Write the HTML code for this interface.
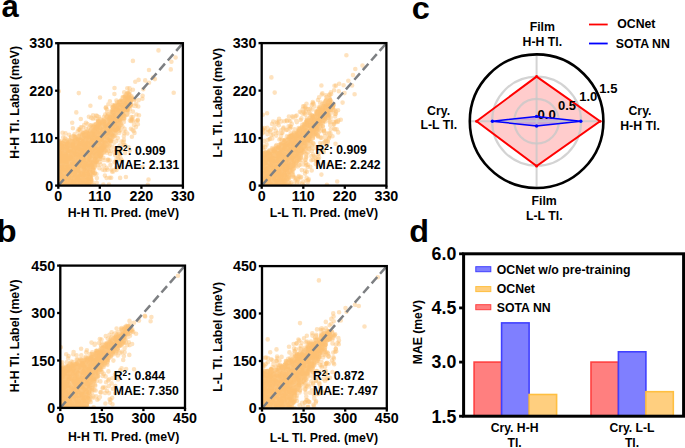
<!DOCTYPE html><html><head><meta charset="utf-8"><style>html,body{margin:0;padding:0;background:#fff;overflow:hidden}svg{display:block}text{font-family:"Liberation Sans",sans-serif;font-weight:bold}</style></head><body><svg width="685" height="448" viewBox="0 0 685 448" font-family="Liberation Sans, sans-serif" font-weight="bold">
<rect width="685" height="448" fill="#fff"/>
<clipPath id="clipa1"><rect x="58.3" y="43.2" width="124.6" height="142.4"/></clipPath>
<g clip-path="url(#clipa1)" stroke="#FDBF6F" stroke-linecap="round" stroke-width="4.6" fill="none">
<path stroke-opacity="0.45" d="M67.3 181.1h0M102.5 131.3h0M71.4 184.6h0M88.6 147.2h0M72.2 184.5h0M85.0 160.3h0M103.7 140.3h0M85.8 149.5h0M82.8 141.2h0M85.5 146.1h0M118.1 126.9h0M59.3 160.8h0M66.1 183.2h0M68.6 170.0h0M122.7 106.6h0M87.8 183.7h0M59.2 182.9h0M116.1 108.2h0M66.5 172.5h0M58.8 177.4h0M64.5 183.8h0M82.9 143.4h0M75.0 171.5h0M94.8 154.6h0M99.8 123.9h0M79.6 174.7h0M117.7 123.7h0M73.9 175.5h0M79.7 143.1h0M70.6 146.1h0M100.0 140.4h0M111.1 121.6h0M75.5 179.1h0M69.5 183.1h0M93.4 126.7h0M89.4 173.6h0M88.9 166.4h0M79.4 158.3h0M62.7 160.3h0M99.9 137.2h0M85.5 148.2h0M78.4 180.9h0M85.2 163.5h0M76.7 144.5h0M81.0 149.8h0M81.4 145.0h0M66.0 165.8h0M98.5 137.8h0M89.7 156.0h0M79.2 171.4h0M88.2 179.3h0M80.4 181.7h0M85.2 161.3h0M82.5 150.2h0M76.8 179.6h0M88.9 149.5h0M117.4 110.1h0M66.8 167.3h0M59.5 152.7h0M90.7 179.5h0M111.8 118.7h0M96.0 127.1h0M123.9 108.3h0M58.3 147.5h0M122.9 113.4h0M66.8 165.9h0M74.3 143.3h0M64.5 158.7h0M98.4 148.6h0M113.3 121.4h0M101.5 136.1h0M100.0 158.5h0M74.8 176.8h0M79.8 183.2h0M86.1 146.2h0M71.8 141.1h0M76.2 145.9h0M87.3 143.3h0M77.2 143.8h0M81.5 144.4h0M58.5 157.9h0M59.9 170.4h0M80.2 154.3h0M67.2 173.4h0M121.0 105.0h0M105.3 125.1h0M60.5 141.4h0M81.1 170.9h0M58.4 181.4h0M114.1 116.7h0M82.6 164.1h0M86.3 167.4h0M106.9 127.1h0M97.4 152.7h0M86.6 175.7h0M104.8 139.3h0M85.5 181.6h0M61.9 162.5h0M62.2 166.8h0M60.3 164.0h0M89.9 172.2h0M92.5 149.7h0M60.5 164.9h0M69.8 159.3h0M82.1 183.0h0M68.2 146.0h0M119.8 119.8h0M116.2 109.1h0M71.6 170.2h0M75.4 147.9h0M91.1 154.9h0M100.7 152.7h0M91.7 173.7h0M60.0 145.0h0M64.3 155.7h0M63.3 185.1h0M119.8 111.6h0M75.6 182.9h0M100.4 164.6h0M129.3 94.6h0M79.4 172.0h0M98.7 144.6h0M66.0 173.5h0M74.5 153.8h0M80.2 171.7h0M106.4 126.8h0M90.2 157.0h0M82.6 159.4h0M101.7 148.2h0M67.3 149.7h0M58.4 167.3h0M62.5 163.4h0M88.2 159.1h0M88.0 171.8h0M110.2 134.5h0M91.2 175.0h0M66.9 151.2h0M108.4 134.0h0M107.3 139.7h0M62.8 143.8h0M81.8 182.1h0M62.1 179.5h0M89.6 136.5h0M88.6 134.7h0M58.7 174.9h0M70.3 180.3h0M85.7 176.2h0M83.5 145.5h0M71.3 151.7h0M79.8 167.3h0M75.2 161.3h0M74.0 146.7h0M77.4 173.7h0M127.7 105.2h0M85.8 179.0h0M62.4 173.0h0M77.9 177.5h0M79.1 152.0h0M115.8 130.0h0M92.3 141.4h0M68.4 179.2h0M90.0 153.7h0M64.5 166.0h0M66.9 164.1h0M78.1 153.6h0M64.1 175.3h0M118.7 104.5h0M113.8 129.9h0M60.2 152.2h0M64.7 169.8h0M80.8 159.0h0M99.8 127.7h0M60.7 184.8h0M87.0 185.2h0M59.3 166.9h0M113.5 124.4h0M62.8 168.6h0M113.0 107.4h0M114.9 121.0h0M97.5 145.8h0M109.6 115.8h0M82.6 177.0h0M77.0 183.3h0M67.4 162.4h0M116.8 106.8h0M96.6 161.4h0M71.7 182.9h0M86.3 141.3h0M107.3 131.3h0M97.6 159.6h0M125.4 103.6h0M105.9 133.6h0M114.2 118.7h0M68.9 180.8h0M70.4 176.7h0M88.0 161.8h0M89.7 140.1h0M66.5 150.7h0M107.0 136.8h0M79.9 161.5h0M60.9 147.4h0M58.4 159.1h0M71.8 145.4h0M88.0 147.2h0M59.9 160.0h0M100.7 149.2h0M66.9 147.0h0M112.5 134.0h0M79.2 156.0h0M60.1 166.4h0M119.5 118.1h0M67.3 164.3h0M71.3 169.8h0M83.4 132.5h0M84.1 161.6h0M60.5 152.9h0M103.2 152.1h0M105.8 141.0h0M85.2 180.3h0M110.2 130.7h0M70.3 151.5h0M65.9 156.1h0M93.3 165.5h0M72.1 163.1h0M79.8 147.9h0M92.3 155.6h0M105.8 150.7h0M65.1 167.0h0M78.1 160.4h0M95.2 129.3h0M83.1 161.6h0M88.8 146.3h0M73.1 158.6h0M120.2 123.6h0M98.1 157.2h0M107.6 134.9h0M78.8 182.9h0M59.2 185.5h0M101.0 141.0h0M65.0 181.4h0M112.7 113.8h0M120.5 112.0h0M89.4 133.8h0M103.6 143.2h0M65.9 182.7h0M106.8 129.1h0M101.0 155.6h0M96.3 156.6h0M72.5 153.1h0M60.1 176.3h0M116.3 116.0h0M90.1 184.8h0M81.6 183.7h0M78.2 169.5h0M85.3 170.8h0M96.7 139.4h0M78.9 152.4h0M80.5 166.8h0M59.6 156.1h0M122.7 110.8h0M109.7 140.4h0M102.4 150.1h0M82.4 150.4h0M84.9 138.3h0M89.9 170.4h0M65.8 171.2h0M91.6 165.6h0M114.9 105.8h0M90.9 155.7h0M58.6 172.4h0M72.9 179.3h0M123.9 103.7h0M113.0 110.2h0M69.1 173.3h0M61.7 159.5h0M93.9 163.1h0M101.0 140.3h0M79.6 166.2h0M91.9 126.8h0M123.0 109.4h0M94.7 167.2h0M76.7 184.4h0M115.1 129.9h0M74.7 163.9h0M110.5 133.5h0M62.1 175.1h0M72.5 141.3h0M58.8 180.8h0M129.6 105.4h0M108.2 114.4h0M77.8 144.1h0M99.1 153.3h0M75.2 152.2h0M60.7 171.5h0M94.1 128.6h0M124.5 116.0h0M104.9 123.7h0M59.2 149.7h0M60.4 154.3h0M95.7 156.1h0M114.1 118.8h0M90.3 185.2h0M77.9 139.6h0M59.8 152.3h0M129.0 98.9h0M83.8 172.8h0M92.2 135.5h0M89.5 154.9h0M67.3 161.0h0M79.2 138.2h0M86.1 148.2h0M78.3 185.2h0M60.6 180.6h0M61.6 168.7h0M66.4 185.1h0M71.1 174.1h0M100.5 145.3h0M121.6 115.9h0M100.0 155.6h0M98.0 157.3h0M88.1 145.7h0M76.9 166.8h0M67.6 150.1h0M58.5 161.8h0M78.9 144.9h0M64.7 148.1h0M127.3 97.7h0M101.6 139.4h0M91.0 129.6h0M66.3 155.5h0M97.2 140.7h0M62.7 157.8h0M123.2 111.7h0M122.5 112.4h0M85.9 150.0h0M86.5 153.9h0M89.9 152.7h0M111.7 111.8h0M81.6 180.9h0M101.2 142.2h0M78.5 155.4h0M92.8 132.2h0M118.2 118.1h0M59.7 177.6h0M111.7 129.3h0M118.0 110.4h0M82.9 181.7h0M105.2 146.5h0M72.0 156.7h0M94.3 137.4h0M101.9 143.5h0M105.8 139.3h0M92.0 127.7h0M59.5 152.1h0M65.9 158.2h0M91.6 143.0h0M73.6 142.8h0M92.3 140.5h0M81.5 179.6h0M122.7 106.5h0M71.6 161.8h0M130.1 102.0h0M79.7 165.3h0M114.4 113.1h0M82.1 163.7h0M79.4 185.6h0M82.6 167.5h0M69.8 145.6h0M106.0 141.0h0M60.2 150.7h0M102.6 130.4h0M91.9 134.9h0M86.4 150.2h0M89.8 185.3h0M132.6 98.8h0M68.6 158.1h0M60.7 158.4h0M86.4 167.2h0M104.0 138.0h0M75.6 157.7h0M89.9 131.3h0M74.8 167.3h0M60.0 182.3h0M98.4 152.1h0M60.0 162.7h0M77.5 167.6h0M87.0 148.8h0M73.9 148.8h0M110.0 119.8h0M64.2 171.4h0M58.5 178.8h0M124.5 103.3h0M92.3 162.9h0M83.8 176.5h0M85.2 152.3h0M76.8 148.5h0M59.9 178.7h0M100.1 127.1h0M68.0 142.1h0M74.2 157.8h0M60.7 147.3h0M123.1 109.7h0M64.3 176.2h0M93.0 167.0h0M78.7 136.4h0M126.8 109.7h0M130.0 98.9h0M88.0 162.3h0M90.9 152.2h0M60.2 171.2h0M77.4 158.6h0M84.0 169.5h0M79.1 161.9h0M69.5 156.6h0M78.4 156.3h0M77.8 144.5h0M58.8 172.9h0M74.7 145.6h0M58.9 156.2h0M61.4 185.4h0M65.3 179.6h0M113.6 117.7h0M119.2 126.0h0M100.0 151.9h0M59.5 165.6h0M88.8 172.5h0M92.0 138.7h0M59.2 165.3h0M119.3 128.0h0M92.2 164.7h0M84.0 180.5h0M120.4 122.8h0M130.8 101.8h0M64.7 160.8h0M114.8 121.7h0M68.9 179.6h0M77.1 169.0h0M82.8 167.9h0M92.8 133.5h0M118.8 123.6h0M58.7 184.2h0M86.4 138.6h0M68.1 168.5h0M64.1 143.8h0M86.7 159.6h0M76.2 184.7h0M79.4 147.6h0M108.1 122.6h0M94.8 148.3h0M121.8 111.9h0M65.2 166.3h0M79.9 129.4h0M105.9 107.2h0M65.1 138.4h0M72.9 128.3h0M93.0 115.3h0M61.6 142.2h0M82.9 127.6h0M74.5 134.4h0M81.7 127.6h0M123.9 139.9h0M135.9 127.1h0M96.9 178.1h0M118.6 159.5h0M108.0 159.5h0M131.5 120.3h0M133.6 131.0h0M121.0 149.9h0M110.4 165.1h0M117.1 150.9h0M130.9 128.8h0M120.0 153.6h0M114.2 142.6h0M120.7 130.2h0M116.4 141.1h0M109.6 177.8h0M116.6 158.6h0M115.2 155.2h0M107.2 169.7h0M139.0 115.2h0M158.5 50.4h0M132.9 60.9h0M175.6 57.5h0M171.4 61.8h0M170.8 69.4h0M149.0 70.0h0M173.7 92.8h0M145.2 80.4h0M149.0 82.7h0M138.6 79.9h0M135.3 81.8h0M114.5 88.0h0M78.8 93.1h0M100.0 97.5h0M128.1 92.8h0M143.3 89.3h0M142.4 98.8h0M58.8 91.2h0M132.9 89.7h0"/>
<path stroke-opacity="0.45" d="M80.8 137.3h0M113.7 131.4h0M121.1 119.1h0M94.9 143.8h0M85.6 184.7h0M64.1 151.8h0M71.5 161.6h0M97.5 136.9h0M81.6 169.1h0M84.2 142.5h0M102.6 140.1h0M76.4 178.7h0M100.0 129.8h0M104.1 138.9h0M67.3 144.0h0M112.6 135.6h0M128.9 105.4h0M76.7 154.1h0M111.7 114.0h0M99.8 126.3h0M91.5 144.8h0M61.9 172.7h0M70.1 173.2h0M72.2 184.1h0M90.7 145.1h0M119.1 104.3h0M93.8 153.5h0M87.3 152.8h0M93.3 152.2h0M100.9 146.9h0M130.1 101.0h0M74.6 174.5h0M68.5 175.7h0M67.9 184.3h0M100.7 146.8h0M76.3 171.7h0M101.0 149.8h0M97.7 133.1h0M100.4 154.8h0M98.8 156.0h0M71.0 136.8h0M79.5 171.5h0M61.7 146.3h0M87.4 167.0h0M72.1 184.3h0M83.7 162.7h0M66.3 162.2h0M60.7 153.4h0M71.7 146.6h0M88.9 133.9h0M101.2 133.3h0M74.9 148.6h0M109.5 121.5h0M77.2 139.1h0M86.3 148.6h0M79.0 145.2h0M89.2 177.3h0M110.3 141.0h0M58.7 164.6h0M80.2 175.0h0M96.6 152.5h0M86.3 133.9h0M82.3 152.4h0M75.6 163.5h0M60.4 182.4h0M76.6 183.3h0M97.1 127.2h0M78.9 179.9h0M67.5 182.0h0M86.4 173.7h0M78.7 172.6h0M72.4 169.6h0M80.5 182.5h0M93.9 159.4h0M107.3 116.1h0M118.6 110.3h0M86.8 176.2h0M111.6 114.9h0M102.7 139.3h0M72.8 166.7h0M117.4 125.2h0M70.7 170.8h0M126.6 102.2h0M106.5 117.4h0M71.4 166.2h0M109.2 130.9h0M81.4 163.2h0M95.5 147.4h0M128.4 97.9h0M77.9 180.0h0M107.1 119.6h0M60.3 144.7h0M110.4 127.8h0M83.2 182.8h0M115.1 127.3h0M88.8 138.4h0M99.5 126.9h0M64.1 147.1h0M129.6 102.4h0M73.3 143.5h0M104.0 133.9h0M127.7 110.3h0M104.6 122.9h0M61.5 146.7h0M126.3 94.2h0M79.9 135.3h0M73.8 177.5h0M79.6 184.5h0M110.8 139.2h0M66.7 182.8h0M100.5 143.3h0M94.1 170.5h0M125.9 96.5h0M82.7 183.6h0M84.7 174.8h0M76.2 172.5h0M91.3 149.7h0M89.6 136.7h0M91.9 170.7h0M92.1 132.3h0M79.5 180.1h0M109.7 121.0h0M90.5 142.8h0M109.0 118.8h0M113.6 115.1h0M96.2 131.2h0M117.0 120.7h0M66.1 151.1h0M66.2 159.7h0M125.8 107.7h0M93.5 130.2h0M62.2 166.5h0M117.9 124.8h0M60.8 148.3h0M102.0 127.4h0M59.0 182.1h0M82.4 154.6h0M72.6 147.2h0M88.2 152.9h0M74.4 176.6h0M115.8 120.6h0M71.1 157.3h0M67.4 151.8h0M99.8 124.7h0M85.2 173.7h0M98.3 154.0h0M59.9 163.1h0M91.1 179.7h0M72.9 146.1h0M100.6 137.9h0M82.9 166.7h0M87.7 139.4h0M66.2 179.7h0M109.2 138.8h0M99.9 144.4h0M82.0 153.5h0M113.7 135.4h0M100.3 147.4h0M77.2 172.8h0M94.4 149.1h0M60.2 177.5h0M78.7 161.0h0M90.0 165.2h0M83.7 141.5h0M83.8 140.9h0M83.9 159.1h0M77.4 159.5h0M93.1 162.4h0M80.1 149.3h0M94.4 133.0h0M67.2 177.7h0M122.5 111.9h0M83.2 161.9h0M93.6 132.5h0M89.4 138.5h0M69.1 158.6h0M107.7 116.4h0M88.3 181.6h0M58.9 152.8h0M71.0 141.4h0M72.7 165.4h0M107.1 152.8h0M68.5 167.2h0M68.6 170.9h0M63.9 148.5h0M115.2 106.5h0M90.6 148.3h0M88.0 162.4h0M92.4 147.2h0M90.4 159.2h0M119.7 103.7h0M96.8 153.8h0M102.3 120.2h0M131.2 104.2h0M131.7 96.6h0M105.7 126.0h0M89.5 160.7h0M63.2 158.3h0M129.2 105.7h0M77.2 155.6h0M58.6 148.0h0M78.1 139.4h0M89.2 137.3h0M99.3 155.7h0M62.3 155.0h0M89.2 137.9h0M121.5 114.4h0M80.9 166.4h0M108.1 123.6h0M77.4 147.6h0M101.5 131.9h0M99.3 134.2h0M83.6 133.3h0M81.2 146.3h0M90.0 167.6h0M72.3 149.2h0M91.0 178.8h0M88.9 179.0h0M68.8 167.6h0M94.4 150.6h0M77.9 165.9h0M115.1 131.4h0M67.1 166.9h0M112.3 137.5h0M113.7 132.1h0M91.0 153.3h0M90.8 181.7h0M101.5 150.2h0M102.7 148.2h0M88.7 147.9h0M73.0 185.4h0M74.4 152.8h0M88.1 184.7h0M87.1 139.4h0M64.7 161.8h0M95.5 138.3h0M95.0 162.4h0M104.7 139.4h0M75.4 148.6h0M94.1 143.3h0M108.8 146.8h0M132.4 99.1h0M85.6 145.9h0M83.6 167.2h0M93.0 153.0h0M90.3 174.2h0M72.0 150.5h0M98.9 123.6h0M81.0 183.8h0M107.8 125.3h0M78.0 181.4h0M73.7 136.6h0M63.7 156.1h0M77.7 171.3h0M75.1 136.7h0M89.8 156.9h0M83.0 167.4h0M68.7 143.4h0M74.8 139.7h0M129.6 91.8h0M73.6 168.8h0M121.5 113.2h0M94.9 173.2h0M120.2 101.2h0M76.0 155.6h0M77.6 181.8h0M95.3 137.0h0M93.6 137.3h0M93.1 160.0h0M123.1 115.7h0M111.9 136.3h0M92.4 162.9h0M84.7 161.4h0M101.8 148.2h0M100.5 143.3h0M105.4 122.5h0M78.5 161.9h0M97.9 120.9h0M61.8 164.7h0M73.3 180.7h0M71.5 166.5h0M95.8 157.0h0M86.4 164.2h0M92.6 134.0h0M127.4 109.6h0M126.4 103.9h0M74.7 167.3h0M113.6 116.4h0M61.0 161.1h0M75.6 185.2h0M70.0 140.7h0M87.1 170.9h0M78.7 154.7h0M82.4 160.5h0M113.8 125.6h0M95.0 138.0h0M88.3 169.2h0M62.0 179.3h0M99.5 150.8h0M88.3 168.6h0M63.5 176.2h0M60.8 181.2h0M75.5 175.3h0M134.3 100.1h0M62.0 170.4h0M63.9 163.5h0M61.1 169.6h0M89.2 158.5h0M117.6 123.6h0M91.9 155.6h0M93.5 147.8h0M79.5 160.4h0M62.8 157.3h0M101.0 149.7h0M86.8 177.5h0M103.5 147.3h0M96.1 124.2h0M85.5 155.3h0M101.5 123.7h0M85.2 172.4h0M94.5 153.4h0M66.6 147.7h0M91.3 165.2h0M106.1 133.6h0M62.9 182.8h0M86.4 158.4h0M82.7 138.3h0M83.1 135.3h0M83.6 161.4h0M81.7 161.7h0M84.7 147.5h0M95.0 151.4h0M60.5 185.3h0M81.7 171.8h0M93.1 156.6h0M91.3 139.2h0M99.2 139.0h0M82.4 135.8h0M126.4 98.7h0M66.6 154.8h0M68.7 178.8h0M94.8 153.4h0M73.1 169.9h0M114.9 104.7h0M91.4 167.3h0M102.5 143.3h0M73.5 161.7h0M82.8 147.2h0M72.2 163.7h0M80.2 147.2h0M93.6 156.3h0M70.4 145.8h0M87.3 133.3h0M120.6 113.5h0M101.5 136.1h0M86.2 142.8h0M81.3 156.9h0M79.3 148.3h0M77.9 156.8h0M87.7 150.4h0M85.7 174.2h0M114.6 131.0h0M104.9 121.0h0M114.3 120.9h0M118.1 104.5h0M91.8 151.7h0M79.9 142.7h0M61.6 164.5h0M96.2 127.9h0M83.9 166.4h0M86.5 136.0h0M84.5 143.5h0M126.6 108.2h0M95.6 157.8h0M112.9 117.9h0M116.5 121.3h0M64.1 169.3h0M83.4 145.4h0M81.8 154.8h0M77.9 177.8h0M66.2 159.1h0M111.1 140.8h0M91.0 172.3h0M60.4 169.8h0M91.3 141.4h0M112.9 117.0h0M69.1 167.7h0M122.6 116.1h0M62.7 145.8h0M64.8 184.6h0M121.7 104.4h0M82.9 134.9h0M87.1 164.3h0M77.1 138.5h0M70.9 170.8h0M84.0 135.3h0M80.4 173.3h0M105.5 133.1h0M67.9 156.3h0M72.8 181.2h0M72.3 168.6h0M77.9 170.1h0M99.5 153.8h0M95.0 154.7h0M68.3 171.1h0M129.2 101.0h0M83.2 174.6h0M89.3 137.0h0M86.0 184.7h0M64.5 179.2h0M109.9 124.3h0M99.9 123.2h0M96.4 142.9h0M115.4 122.0h0M109.2 133.2h0M62.9 164.0h0M58.6 156.5h0M116.5 108.6h0M91.5 156.8h0M100.4 150.7h0M93.7 149.7h0M77.2 184.9h0M59.8 145.2h0M81.0 142.9h0M59.6 159.0h0M68.9 153.0h0M94.7 145.8h0M96.6 149.0h0M73.6 179.7h0M104.7 122.8h0M122.4 126.5h0M97.7 131.8h0M60.5 171.9h0M89.7 176.0h0M60.8 153.4h0M69.4 174.9h0M112.8 111.7h0M87.9 135.1h0M65.0 155.7h0M118.9 122.7h0M89.4 138.1h0M70.4 171.9h0M58.9 150.4h0M92.1 165.1h0M82.1 148.4h0M103.7 137.1h0M94.4 133.3h0M70.8 144.0h0M68.6 150.3h0M108.7 120.0h0M86.1 138.6h0M64.2 175.5h0M86.3 129.0h0M88.9 116.7h0M77.7 131.5h0M119.3 130.7h0M124.0 119.3h0M127.3 133.5h0M125.6 131.8h0M132.5 129.8h0M112.0 171.6h0M104.9 175.6h0M132.9 117.0h0M110.9 150.7h0M104.1 165.6h0M116.3 161.2h0M137.9 124.3h0M134.5 132.9h0M131.3 121.3h0M108.9 184.5h0M118.8 129.2h0M116.5 169.9h0M99.5 138.7h0M108.0 130.7h0M72.2 122.8h0M136.4 121.6h0M106.9 109.2h0"/>
<path stroke-opacity="0.45" d="M78.8 144.5h0M76.8 161.9h0M97.2 149.4h0M77.8 157.6h0M124.0 115.5h0M77.6 167.9h0M88.1 133.2h0M65.6 171.5h0M114.1 127.0h0M98.8 142.4h0M77.9 179.6h0M89.3 159.8h0M92.3 135.6h0M101.9 127.2h0M73.4 145.2h0M96.7 150.7h0M88.4 134.5h0M66.4 141.4h0M78.9 150.3h0M61.6 174.8h0M98.8 123.0h0M123.6 100.6h0M64.1 163.2h0M70.4 174.2h0M61.6 149.2h0M103.5 149.4h0M89.0 161.3h0M89.2 156.2h0M79.4 183.2h0M128.7 106.4h0M86.8 136.9h0M95.5 136.9h0M79.5 143.9h0M70.3 149.7h0M86.1 179.8h0M70.0 184.1h0M83.2 171.4h0M85.6 168.2h0M64.8 179.3h0M89.2 155.5h0M59.0 173.7h0M124.1 116.5h0M62.7 146.5h0M121.0 100.7h0M64.1 145.4h0M96.2 146.3h0M86.7 146.0h0M86.7 146.5h0M109.3 139.5h0M123.1 116.0h0M61.8 181.2h0M71.6 180.6h0M94.9 159.0h0M85.2 169.0h0M76.6 158.7h0M128.7 93.7h0M79.2 183.1h0M109.9 127.7h0M91.6 165.8h0M66.7 161.4h0M131.1 99.9h0M59.1 168.2h0M106.5 124.1h0M90.9 148.2h0M114.6 136.5h0M111.5 128.9h0M69.6 145.5h0M73.7 153.5h0M72.8 173.6h0M79.8 174.4h0M106.7 144.5h0M74.5 181.4h0M77.5 178.4h0M58.7 184.8h0M112.1 130.1h0M88.5 141.4h0M74.9 182.7h0M89.8 168.6h0M100.4 129.0h0M81.2 160.9h0M108.7 130.1h0M121.7 101.4h0M99.3 144.0h0M90.6 133.9h0M96.2 156.9h0M118.5 127.8h0M64.7 168.3h0M66.6 147.4h0M72.8 185.4h0M62.6 183.5h0M74.2 172.3h0M82.3 178.5h0M113.5 109.0h0M68.4 145.4h0M73.3 144.6h0M82.2 155.6h0M72.4 156.2h0M99.8 122.6h0M97.3 153.0h0M89.6 139.4h0M84.8 143.8h0M68.0 166.2h0M105.6 118.2h0M60.5 161.9h0M69.4 179.3h0M90.4 177.9h0M86.2 138.6h0M78.8 149.8h0M70.1 173.8h0M113.6 115.2h0M134.4 99.3h0M107.5 115.3h0M65.0 166.1h0M122.1 105.0h0M62.9 155.5h0M72.1 156.3h0M72.7 168.8h0M91.9 147.2h0M105.7 133.9h0M100.3 148.6h0M118.9 115.7h0M74.3 167.2h0M82.6 180.1h0M98.3 121.3h0M73.2 183.1h0M81.5 164.1h0M65.0 184.2h0M82.6 176.6h0M127.9 109.3h0M82.0 135.6h0M61.1 160.3h0M72.5 175.3h0M95.6 154.1h0M90.8 142.1h0M97.2 153.9h0M76.8 156.8h0M106.2 128.3h0M90.2 138.2h0M84.8 134.8h0M118.6 116.9h0M91.5 164.7h0M75.6 174.4h0M119.7 103.3h0M63.2 142.5h0M109.2 117.7h0M67.2 167.7h0M95.2 124.7h0M79.9 183.3h0M76.9 149.5h0M71.5 160.9h0M129.4 94.2h0M70.2 168.5h0M58.5 185.1h0M63.5 157.4h0M82.6 166.7h0M59.9 157.9h0M70.8 148.9h0M126.1 108.9h0M69.5 149.9h0M93.8 150.1h0M83.5 141.8h0M69.2 181.4h0M84.3 160.1h0M110.0 125.2h0M59.1 166.4h0M60.7 148.6h0M91.7 170.9h0M104.1 122.0h0M64.5 181.3h0M63.1 167.0h0M60.2 160.3h0M69.8 149.6h0M61.6 148.3h0M60.6 148.9h0M107.6 115.2h0M103.7 119.7h0M120.0 109.2h0M115.9 130.9h0M73.3 166.2h0M130.6 96.0h0M70.8 174.8h0M85.4 169.0h0M96.1 156.8h0M63.9 159.7h0M66.6 143.8h0M82.3 151.4h0M80.7 156.8h0M125.6 103.7h0M94.0 138.4h0M67.8 181.4h0M97.1 161.5h0M105.9 144.7h0M91.5 168.7h0M93.5 168.8h0M74.6 154.8h0M124.8 107.1h0M66.6 168.6h0M108.9 116.0h0M101.9 153.8h0M65.6 142.5h0M127.2 108.8h0M90.9 152.2h0M75.8 161.5h0M58.8 161.2h0M60.2 166.9h0M89.7 167.9h0M107.2 143.0h0M60.5 168.7h0M90.5 181.3h0M121.4 106.9h0M107.5 122.6h0M76.9 152.9h0M85.4 165.1h0M68.3 152.8h0M80.2 178.7h0M99.1 138.0h0M87.7 179.0h0M101.6 139.8h0M90.9 134.3h0M67.8 167.7h0M59.7 176.4h0M61.7 168.1h0M107.8 123.8h0M69.2 157.9h0M102.4 123.9h0M84.5 181.6h0M75.9 154.7h0M66.7 159.9h0M100.8 154.9h0M92.3 166.7h0M86.1 143.1h0M125.2 96.5h0M105.1 134.2h0M123.5 104.6h0M109.9 126.6h0M91.8 162.5h0M86.1 170.4h0M72.8 184.8h0M100.9 147.0h0M69.5 164.8h0M113.4 124.8h0M98.7 130.5h0M64.9 164.5h0M84.5 135.5h0M98.9 153.1h0M80.5 165.2h0M109.6 114.7h0M111.0 130.8h0M67.2 184.0h0M85.8 182.1h0M108.0 148.8h0M105.7 134.8h0M78.0 153.4h0M78.3 172.0h0M114.9 124.6h0M111.2 136.4h0M69.3 165.7h0M95.4 127.9h0M83.5 141.0h0M116.9 128.9h0M72.8 171.0h0M81.6 185.6h0M69.4 167.7h0M71.9 172.4h0M58.6 175.9h0M108.6 138.6h0M81.0 182.5h0M114.0 106.4h0M123.2 98.1h0M124.9 94.8h0M58.7 175.6h0M124.9 105.9h0M104.7 142.3h0M123.2 97.2h0M91.5 147.4h0M119.6 106.2h0M107.5 125.8h0M96.0 137.2h0M84.1 146.0h0M92.8 133.5h0M76.4 141.2h0M60.8 155.4h0M69.9 176.5h0M69.0 174.2h0M104.7 151.2h0M128.2 108.5h0M101.5 123.4h0M114.8 120.1h0M85.7 134.6h0M102.0 138.7h0M90.9 138.4h0M127.7 105.3h0M60.9 159.6h0M63.6 163.3h0M119.4 101.6h0M67.8 156.8h0M124.0 100.5h0M106.7 149.5h0M63.0 159.5h0M104.6 132.4h0M87.4 133.7h0M116.4 120.9h0M88.5 174.3h0M75.0 154.7h0M86.1 165.3h0M64.0 154.8h0M58.8 149.1h0M64.5 154.5h0M82.8 141.9h0M101.0 150.8h0M126.9 98.5h0M116.5 120.9h0M109.4 136.5h0M60.1 143.6h0M84.8 148.7h0M123.8 109.5h0M65.1 160.1h0M127.5 100.6h0M104.7 146.6h0M98.8 130.9h0M73.3 163.8h0M76.8 141.7h0M90.8 167.8h0M70.7 152.4h0M75.9 184.3h0M114.4 107.2h0M77.9 154.5h0M93.1 171.7h0M124.4 117.9h0M77.2 165.5h0M106.0 129.7h0M89.9 142.6h0M110.7 111.5h0M88.9 162.2h0M74.9 169.2h0M110.5 111.7h0M99.8 156.3h0M87.4 163.5h0M58.8 149.1h0M99.7 140.0h0M61.6 161.4h0M118.4 119.8h0M110.3 137.2h0M65.3 164.9h0M66.8 165.2h0M92.2 167.4h0M88.2 178.9h0M79.0 143.3h0M91.6 147.9h0M83.7 179.1h0M65.6 169.9h0M78.7 178.4h0M87.5 144.3h0M59.4 184.9h0M64.2 155.6h0M88.8 183.6h0M68.9 157.6h0M67.5 177.9h0M62.9 167.9h0M83.3 144.2h0M103.3 124.1h0M114.7 124.6h0M127.7 107.5h0M79.2 158.4h0M61.6 170.8h0M96.8 146.0h0M62.6 159.5h0M109.1 132.4h0M74.5 157.6h0M117.3 112.0h0M91.8 161.7h0M124.2 109.1h0M69.1 144.2h0M64.3 161.3h0M58.5 145.9h0M118.0 120.2h0M75.4 139.8h0M67.8 183.1h0M78.7 176.0h0M96.9 156.0h0M62.8 158.0h0M104.3 120.7h0M108.3 124.2h0M113.0 116.1h0M119.2 116.3h0M92.8 149.0h0M115.1 125.2h0M59.0 178.7h0M90.6 143.1h0M118.8 107.9h0M95.4 142.3h0M86.0 142.6h0M64.8 183.5h0M66.4 146.8h0M117.3 113.2h0M88.5 139.5h0M129.1 94.7h0M115.0 106.4h0M65.9 181.1h0M107.2 136.6h0M98.6 138.2h0M78.2 177.0h0M99.2 128.3h0M106.8 127.4h0M104.5 146.6h0M63.4 155.1h0M112.3 138.9h0M90.4 125.5h0M69.8 184.5h0M122.3 105.8h0M61.6 166.4h0M77.7 147.3h0M79.2 183.3h0M125.3 106.7h0M58.5 151.0h0M75.3 147.9h0M64.1 144.7h0M97.0 132.9h0M100.9 152.6h0M72.1 144.8h0M108.1 119.8h0M89.9 165.2h0M102.1 145.4h0M79.0 173.0h0M59.3 163.2h0M62.3 151.2h0M86.8 170.6h0M80.7 149.8h0M60.4 175.3h0M76.3 167.1h0M100.6 149.1h0M111.4 134.8h0M81.4 138.1h0M59.1 169.6h0M114.8 115.1h0M117.9 107.8h0M98.2 128.8h0M100.4 132.2h0M99.9 146.8h0M128.5 96.7h0M73.5 164.2h0M87.8 163.5h0M73.3 145.0h0M77.5 139.5h0M112.0 119.8h0M102.7 124.1h0M93.2 135.4h0M95.1 161.8h0M98.8 126.2h0M114.1 109.6h0M77.5 170.8h0M116.3 132.2h0M114.3 108.4h0M87.3 171.2h0M116.1 110.6h0M89.3 137.0h0M66.2 164.7h0M116.1 113.6h0M83.8 175.1h0M113.0 136.0h0M81.6 152.2h0M126.4 101.9h0M100.5 155.0h0M61.0 184.7h0M95.6 152.8h0M124.2 92.2h0M107.1 112.2h0M78.7 129.4h0M74.5 137.2h0M99.0 117.0h0M58.9 141.2h0M96.1 115.6h0M115.8 133.0h0M111.2 177.8h0M99.4 168.2h0M135.7 105.9h0M133.8 105.8h0M106.7 167.9h0M132.9 111.6h0M134.0 124.9h0M121.5 141.6h0M124.6 128.9h0M106.6 178.0h0M105.8 150.0h0M117.8 138.1h0M131.3 117.1h0M123.9 144.6h0M116.4 167.8h0M122.2 160.8h0M142.6 95.8h0M125.9 177.0h0M90.4 105.7h0M80.8 119.0h0"/>
<path stroke-opacity="0.45" d="M114.8 120.5h0M77.9 168.3h0M107.6 133.0h0M74.9 184.8h0M69.8 166.7h0M91.3 162.2h0M62.0 177.7h0M76.8 146.2h0M86.1 185.1h0M81.7 147.3h0M76.8 141.8h0M97.7 125.9h0M66.5 171.0h0M65.1 160.1h0M67.8 166.8h0M125.4 98.8h0M101.2 156.8h0M68.5 171.9h0M92.6 165.5h0M80.4 183.4h0M74.4 140.8h0M59.9 179.3h0M110.1 140.6h0M92.2 140.3h0M76.6 141.2h0M90.5 150.2h0M114.9 115.8h0M76.6 148.9h0M117.0 125.9h0M86.4 180.0h0M112.5 136.3h0M104.3 145.5h0M130.1 99.2h0M126.6 98.9h0M70.3 181.8h0M73.8 179.8h0M114.0 109.0h0M67.8 156.8h0M84.9 148.8h0M92.6 169.0h0M111.2 123.8h0M112.9 124.7h0M70.6 176.4h0M114.7 126.1h0M74.7 150.1h0M93.3 131.6h0M101.7 146.3h0M61.0 160.4h0M82.5 155.4h0M72.2 176.6h0M107.6 129.8h0M86.3 174.2h0M95.2 151.8h0M100.8 145.1h0M75.8 141.6h0M77.2 139.8h0M81.1 183.2h0M115.3 120.6h0M68.9 164.9h0M110.1 116.9h0M121.3 106.4h0M124.8 111.7h0M88.7 148.8h0M123.5 113.6h0M62.6 176.5h0M102.3 148.8h0M62.1 155.0h0M88.6 160.2h0M84.0 146.4h0M79.9 163.8h0M84.9 170.7h0M68.7 152.0h0M88.6 153.9h0M60.1 142.7h0M64.9 181.2h0M104.4 149.8h0M86.7 160.8h0M78.6 176.3h0M88.5 137.3h0M114.3 129.9h0M91.3 167.0h0M62.2 150.6h0M112.3 107.1h0M69.2 153.4h0M101.9 122.2h0M97.9 150.4h0M66.9 161.7h0M65.7 184.6h0M99.8 141.8h0M88.1 145.0h0M132.1 98.2h0M70.6 169.9h0M88.6 136.9h0M93.5 136.9h0M122.5 101.4h0M65.3 178.6h0M72.8 146.2h0M99.3 155.2h0M67.1 174.6h0M71.5 158.8h0M94.4 135.3h0M67.1 142.7h0M87.5 142.9h0M86.9 131.5h0M101.5 150.6h0M86.8 180.2h0M65.4 160.1h0M91.1 145.6h0M108.3 125.1h0M64.3 146.0h0M77.2 179.4h0M112.0 128.4h0M100.4 140.2h0M73.4 154.7h0M61.0 167.7h0M92.8 171.0h0M65.1 153.6h0M60.2 177.7h0M91.3 156.0h0M86.8 149.2h0M98.5 150.7h0M86.2 135.2h0M113.9 125.7h0M104.9 143.0h0M77.1 163.2h0M66.8 156.1h0M75.6 151.4h0M58.5 160.2h0M80.6 143.2h0M85.3 170.1h0M115.0 111.5h0M97.0 132.7h0M116.0 116.4h0M127.9 96.2h0M75.3 171.1h0M85.4 164.2h0M95.7 161.4h0M126.8 114.4h0M60.5 143.8h0M63.9 157.9h0M72.8 144.0h0M125.3 102.5h0M98.3 148.9h0M125.4 103.6h0M100.9 122.7h0M93.2 172.5h0M62.3 176.4h0M104.3 121.6h0M73.9 163.6h0M92.0 154.3h0M70.6 185.4h0M90.5 165.2h0M93.6 138.0h0M59.5 172.4h0M60.2 158.9h0M83.7 136.5h0M93.8 141.9h0M114.8 123.4h0M65.5 150.2h0M64.7 161.2h0M108.2 128.9h0M120.8 124.1h0M110.6 129.2h0M113.8 123.7h0M117.2 102.3h0M81.5 142.3h0M70.1 185.1h0M64.3 141.1h0M114.0 108.6h0M81.1 159.2h0M66.6 185.2h0M87.6 171.2h0M74.7 173.3h0M59.1 153.6h0M98.6 141.6h0M64.0 178.3h0M62.3 150.1h0M63.8 185.6h0M62.4 169.0h0M63.8 154.4h0M84.7 133.0h0M83.8 166.9h0M100.9 144.8h0M82.1 134.1h0M109.2 119.1h0M105.6 126.3h0M59.4 183.1h0M126.9 106.1h0M86.9 148.2h0M101.3 139.9h0M65.2 146.1h0M90.3 166.9h0M98.8 141.0h0M83.5 156.1h0M131.3 99.8h0M61.9 179.3h0M113.1 121.7h0M71.8 180.4h0M70.6 164.7h0M72.5 176.5h0M82.4 174.0h0M112.7 120.9h0M85.7 156.4h0M125.6 111.8h0M99.6 133.5h0M59.9 176.5h0M105.1 132.2h0M97.3 129.6h0M98.2 144.9h0M105.0 134.0h0M98.2 125.4h0M73.0 146.8h0M59.3 185.4h0M84.6 151.2h0M67.4 168.7h0M76.4 140.8h0M102.9 142.9h0M79.5 162.9h0M130.6 100.4h0M65.5 176.3h0M90.5 176.0h0M58.8 171.3h0M93.9 152.8h0M74.3 171.9h0M108.2 130.5h0M95.1 159.0h0M88.3 149.7h0M95.3 139.6h0M77.9 167.6h0M78.9 155.2h0M88.0 170.8h0M121.1 102.6h0M82.9 140.3h0M65.6 183.4h0M90.3 148.5h0M89.2 145.7h0M106.3 129.8h0M123.1 112.9h0M86.2 157.1h0M73.8 176.7h0M94.7 129.3h0M84.0 161.4h0M121.6 105.2h0M81.0 152.0h0M86.0 174.9h0M77.8 178.1h0M80.9 141.8h0M70.6 174.3h0M98.0 122.0h0M76.1 150.6h0M94.4 136.1h0M78.7 166.6h0M83.5 174.5h0M120.6 120.1h0M62.2 182.4h0M83.4 160.0h0M99.4 141.0h0M89.0 165.7h0M106.5 133.5h0M59.1 159.6h0M94.7 148.6h0M79.7 152.4h0M84.3 159.4h0M88.7 181.2h0M117.6 127.2h0M88.0 136.4h0M78.4 179.9h0M74.4 140.5h0M73.9 169.0h0M86.5 174.2h0M68.7 167.5h0M112.1 123.3h0M88.5 174.8h0M86.8 143.5h0M85.7 184.2h0M101.8 136.3h0M97.8 138.2h0M81.5 160.9h0M115.6 109.5h0M81.7 175.0h0M94.9 127.5h0M115.9 114.1h0M128.0 101.2h0M100.0 137.3h0M83.6 181.2h0M76.0 154.1h0M82.8 178.7h0M90.7 148.2h0M80.0 139.2h0M114.1 113.0h0M130.0 109.0h0M59.6 166.6h0M81.3 153.7h0M73.2 182.5h0M59.0 161.7h0M67.4 147.5h0M94.1 162.0h0M58.3 180.9h0M99.9 155.5h0M115.4 118.3h0M102.6 144.0h0M87.6 154.8h0M85.4 156.9h0M110.1 142.7h0M109.6 122.2h0M100.6 146.4h0M124.8 96.7h0M118.2 123.2h0M61.4 184.2h0M62.7 182.8h0M61.1 159.2h0M128.5 112.4h0M109.0 141.1h0M97.9 137.3h0M59.4 169.7h0M130.7 104.9h0M119.8 108.2h0M113.3 124.6h0M75.6 142.1h0M66.6 157.3h0M93.8 147.1h0M68.4 159.6h0M65.1 170.1h0M63.9 167.0h0M77.3 146.3h0M117.7 128.8h0M70.1 157.3h0M71.6 151.2h0M64.4 152.2h0M125.4 107.8h0M81.9 154.3h0M77.1 166.5h0M107.7 142.1h0M83.6 159.8h0M125.2 108.8h0M72.4 155.2h0M117.1 120.7h0M87.5 184.3h0M95.8 148.8h0M85.8 144.5h0M72.9 159.0h0M87.8 147.6h0M61.2 161.0h0M113.0 130.4h0M114.2 130.8h0M115.8 114.0h0M66.5 149.3h0M59.6 180.7h0M63.5 179.1h0M98.7 152.6h0M68.4 151.4h0M69.8 179.7h0M81.4 173.9h0M66.5 157.2h0M128.7 96.5h0M104.6 146.2h0M87.2 145.5h0M60.1 173.5h0M76.7 139.4h0M99.5 150.5h0M75.5 167.4h0M83.6 175.1h0M70.1 154.9h0M75.9 141.8h0M88.5 179.0h0M75.8 150.7h0M65.3 158.5h0M126.9 102.1h0M110.4 118.9h0M65.1 168.3h0M78.1 170.4h0M84.4 171.0h0M91.5 148.7h0M123.4 111.8h0M80.6 150.0h0M62.8 147.6h0M84.2 125.0h0M97.1 116.1h0M109.9 101.3h0M81.9 134.2h0M127.0 93.3h0M88.8 127.8h0M129.6 88.4h0M90.9 125.4h0M108.4 104.3h0M62.6 132.7h0M91.3 117.9h0M125.1 153.0h0M117.3 151.5h0M94.0 185.0h0M110.1 153.9h0M136.4 114.5h0M94.8 173.3h0M137.8 119.8h0M121.0 125.0h0M113.3 171.4h0M124.3 133.2h0M104.8 170.3h0M121.0 159.1h0M123.5 145.5h0M114.7 169.7h0M125.3 145.5h0M104.0 160.0h0M120.0 155.9h0M97.6 164.9h0M107.6 160.4h0M129.6 150.5h0M125.2 109.2h0M112.4 112.1h0M148.5 179.5h0M77.8 142.6h0M87.4 124.0h0M115.7 149.4h0"/>
<path stroke-opacity="0.45" d="M118.0 105.2h0M71.1 143.2h0M63.7 166.3h0M78.8 149.4h0M118.5 112.9h0M126.8 109.8h0M62.6 163.1h0M81.4 176.6h0M82.0 167.2h0M96.0 124.4h0M62.9 183.0h0M94.6 157.4h0M105.7 144.8h0M94.4 148.5h0M75.2 158.6h0M93.4 146.1h0M66.2 157.0h0M109.3 136.0h0M110.4 129.6h0M63.3 163.1h0M90.6 178.9h0M65.7 181.8h0M70.6 143.0h0M101.1 139.3h0M80.9 143.2h0M77.3 159.9h0M86.8 132.3h0M80.9 140.6h0M69.4 166.2h0M84.1 176.8h0M59.6 157.9h0M78.0 157.8h0M75.4 157.4h0M73.7 154.2h0M100.6 148.5h0M85.2 176.4h0M85.6 180.7h0M101.9 134.5h0M81.7 152.2h0M98.5 131.7h0M68.5 143.0h0M119.9 118.0h0M119.3 121.6h0M118.1 129.1h0M68.7 179.9h0M89.8 135.3h0M109.6 134.0h0M80.2 165.9h0M61.2 177.0h0M73.8 175.2h0M83.3 135.1h0M81.3 167.9h0M74.1 182.6h0M77.9 163.1h0M75.4 166.7h0M95.0 155.8h0M119.5 116.5h0M73.0 174.2h0M90.8 145.0h0M118.4 112.3h0M70.3 157.7h0M90.2 131.5h0M94.4 129.3h0M86.7 185.5h0M62.6 176.8h0M101.3 152.8h0M107.2 138.0h0M107.2 135.4h0M123.1 99.4h0M97.3 128.4h0M58.8 153.1h0M68.6 147.3h0M78.5 179.6h0M92.7 182.3h0M78.5 179.0h0M115.1 116.4h0M103.8 128.1h0M91.9 141.5h0M65.1 183.6h0M94.6 160.4h0M92.3 142.0h0M63.7 154.9h0M103.7 128.3h0M91.4 164.9h0M83.8 151.3h0M91.7 172.5h0M75.8 185.3h0M103.4 127.7h0M93.9 142.4h0M67.5 150.2h0M89.4 144.6h0M79.3 171.5h0M128.5 104.5h0M100.8 154.8h0M103.7 147.4h0M126.0 97.9h0M102.7 148.4h0M87.9 184.4h0M102.9 121.6h0M90.1 159.7h0M116.6 112.9h0M59.6 152.4h0M76.3 167.4h0M64.4 161.4h0M73.9 149.6h0M108.1 144.6h0M86.2 144.3h0M72.2 163.0h0M89.0 143.4h0M69.3 150.8h0M71.3 145.0h0M68.0 171.0h0M62.6 181.0h0M122.7 107.2h0M83.2 175.6h0M119.5 122.4h0M102.6 123.2h0M107.6 117.3h0M98.4 123.3h0M119.1 111.0h0M73.2 142.8h0M90.8 173.2h0M96.3 139.2h0M73.2 162.2h0M78.5 144.7h0M80.9 164.5h0M90.5 150.3h0M89.4 176.8h0M70.7 153.7h0M96.9 155.9h0M77.4 177.6h0M59.3 159.2h0M89.2 172.0h0M114.7 121.8h0M72.3 184.2h0M63.7 148.4h0M96.4 124.5h0M58.9 182.6h0M83.1 180.6h0M86.3 163.8h0M88.1 151.0h0M92.0 139.5h0M77.2 183.6h0M62.5 173.1h0M77.4 149.2h0M85.7 182.8h0M81.0 144.6h0M112.2 127.2h0M122.6 97.3h0M93.2 143.4h0M76.9 147.1h0M96.6 132.2h0M72.5 182.7h0M75.6 172.5h0M87.3 165.3h0M121.5 99.9h0M92.4 136.5h0M83.7 165.9h0M70.6 147.0h0M96.5 161.6h0M83.4 168.1h0M99.9 133.2h0M80.3 177.1h0M74.4 159.0h0M121.2 119.6h0M130.2 102.6h0M61.9 178.3h0M77.9 184.7h0M98.5 121.9h0M98.7 139.4h0M104.3 123.5h0M92.1 146.7h0M118.3 123.7h0M65.8 157.4h0M59.1 174.8h0M96.0 130.0h0M76.4 183.4h0M61.4 160.4h0M110.2 133.1h0M70.9 159.0h0M73.7 155.0h0M63.4 177.0h0M86.0 174.3h0M100.5 135.4h0M90.2 147.2h0M77.9 151.5h0M83.5 180.8h0M120.0 107.3h0M66.6 181.1h0M67.2 161.7h0M116.0 114.8h0M90.2 159.1h0M69.9 147.3h0M126.6 98.8h0M82.4 167.4h0M77.2 156.5h0M66.3 174.6h0M67.3 183.0h0M62.0 170.5h0M83.7 154.2h0M95.7 160.8h0M75.5 144.8h0M64.9 158.7h0M87.5 136.2h0M70.4 166.0h0M86.7 136.7h0M61.6 143.3h0M105.9 143.0h0M83.1 179.3h0M94.0 159.4h0M83.5 179.1h0M66.9 159.6h0M62.9 143.3h0M62.7 176.6h0M117.1 107.1h0M127.3 100.6h0M108.7 124.6h0M88.4 177.6h0M130.4 105.4h0M84.3 141.1h0M102.6 131.9h0M76.6 166.5h0M92.4 135.6h0M98.4 125.3h0M70.8 173.1h0M112.8 109.5h0M76.9 142.0h0M83.4 162.5h0M104.1 136.6h0M94.6 151.6h0M80.0 141.8h0M70.1 177.4h0M64.9 170.9h0M128.7 106.2h0M65.7 176.5h0M86.7 138.8h0M97.6 159.6h0M98.1 137.4h0M61.1 165.9h0M64.5 144.3h0M87.6 179.6h0M78.7 140.3h0M64.9 172.5h0M118.1 133.0h0M59.7 182.5h0M59.8 154.0h0M128.2 96.7h0M111.2 138.3h0M71.3 165.8h0M78.7 152.7h0M79.7 176.4h0M60.5 162.0h0M72.5 152.2h0M111.5 116.7h0M81.5 147.3h0M86.7 178.7h0M104.1 121.8h0M111.2 116.8h0M124.9 109.7h0M90.5 153.1h0M94.5 133.9h0M71.1 184.8h0M93.2 128.3h0M87.0 174.1h0M97.6 161.4h0M72.4 141.0h0M65.9 175.2h0M78.9 152.5h0M94.5 128.2h0M58.4 185.2h0M67.4 173.4h0M96.3 156.6h0M100.6 148.8h0M71.7 147.6h0M79.7 153.9h0M70.0 168.6h0M75.6 137.5h0M72.6 172.2h0M67.4 165.0h0M67.6 143.6h0M101.5 150.4h0M91.6 137.1h0M118.2 122.7h0M100.1 156.2h0M83.3 145.1h0M113.3 124.4h0M93.9 140.9h0M111.1 120.5h0M114.0 124.2h0M77.1 164.5h0M117.2 129.9h0M66.1 176.7h0M91.9 152.7h0M65.2 168.4h0M86.3 178.5h0M79.8 152.2h0M63.1 154.1h0M66.5 162.2h0M100.1 131.7h0M93.9 128.6h0M105.8 125.3h0M115.1 130.1h0M113.2 110.2h0M121.7 110.0h0M97.9 149.5h0M60.3 147.6h0M78.5 175.0h0M78.1 184.2h0M65.4 154.5h0M76.3 144.0h0M68.3 143.7h0M122.6 120.7h0M94.7 156.7h0M62.6 152.7h0M64.6 164.5h0M85.5 131.8h0M65.7 145.8h0M73.0 160.7h0M106.0 124.8h0M103.1 146.2h0M94.0 134.8h0M90.0 157.8h0M65.6 146.3h0M101.4 137.5h0M58.7 154.1h0M65.3 175.1h0M119.2 126.2h0M93.0 173.1h0M69.5 139.8h0M95.4 165.7h0M79.7 147.9h0M102.7 129.0h0M90.0 136.6h0M73.4 182.2h0M97.1 141.2h0M74.1 165.3h0M104.2 131.6h0M99.8 152.0h0M58.4 179.8h0M62.9 177.7h0M97.6 160.2h0M75.6 149.2h0M62.8 157.9h0M65.0 167.5h0M62.9 180.5h0M84.4 150.9h0M89.1 183.7h0M77.5 156.7h0M75.7 161.5h0M75.7 144.3h0M76.5 155.6h0M87.2 150.6h0M94.5 131.2h0M102.5 124.2h0M76.3 146.8h0M81.3 149.5h0M75.7 176.1h0M111.9 134.7h0M100.0 119.1h0M60.6 145.4h0M73.3 157.9h0M70.6 180.0h0M75.6 169.4h0M59.4 179.3h0M116.2 118.1h0M124.9 105.3h0M95.7 150.7h0M100.9 136.6h0M84.2 150.0h0M90.1 176.2h0M95.2 133.4h0M59.2 180.4h0M68.5 182.4h0M59.4 146.7h0M90.9 142.4h0M87.2 143.0h0M111.9 121.4h0M82.7 177.4h0M103.9 146.2h0M91.3 153.1h0M65.8 147.5h0M73.5 176.0h0M98.0 129.1h0M83.8 158.1h0M114.3 115.3h0M66.0 145.1h0M110.2 134.4h0M61.7 183.5h0M125.2 99.9h0M114.3 122.6h0M84.3 173.8h0M76.3 177.8h0M84.1 175.7h0M91.1 146.1h0M120.9 116.1h0M59.0 146.4h0M93.4 167.4h0M104.9 142.5h0M73.2 166.7h0M86.4 148.6h0M63.1 169.3h0M91.2 179.2h0M126.1 102.5h0M110.2 140.8h0M71.4 154.8h0M84.2 168.8h0M79.5 168.4h0M59.6 152.8h0M112.6 105.1h0M116.4 100.6h0M100.6 120.8h0M93.4 127.8h0M94.1 124.8h0M63.2 137.3h0M105.2 114.6h0M93.0 118.7h0M80.8 127.2h0M105.8 108.0h0M122.3 123.0h0M118.6 154.2h0M100.2 161.8h0M133.0 120.8h0M102.6 169.6h0M129.9 120.6h0M114.5 162.3h0M114.8 161.7h0M117.1 154.1h0M96.4 174.0h0M98.8 157.3h0M106.6 146.1h0M136.3 103.9h0M96.7 182.7h0M119.4 132.7h0M115.2 135.6h0M138.3 106.5h0M112.4 146.8h0M123.9 136.3h0M123.8 122.0h0M120.7 167.8h0M137.7 120.5h0M119.0 123.1h0M147.8 184.7h0M74.5 153.7h0M69.1 134.8h0M154.9 79.1h0M76.3 112.4h0"/>
<path stroke-opacity="0.45" d="M81.4 155.4h0M67.4 165.3h0M123.0 107.6h0M123.1 101.3h0M70.1 146.7h0M87.5 180.1h0M73.7 154.6h0M78.9 164.1h0M66.8 150.0h0M79.2 147.6h0M88.3 185.0h0M116.9 128.3h0M88.0 180.3h0M91.5 130.6h0M84.0 134.7h0M76.9 185.0h0M82.0 155.7h0M103.5 129.6h0M116.7 106.2h0M72.8 145.9h0M58.6 155.2h0M81.4 138.9h0M94.8 147.8h0M61.0 150.6h0M120.5 113.1h0M105.6 141.8h0M100.0 159.1h0M85.3 136.8h0M86.3 147.5h0M104.9 130.8h0M87.9 139.7h0M64.9 170.5h0M86.4 168.2h0M117.0 108.8h0M101.7 147.7h0M90.8 177.5h0M75.1 160.6h0M109.4 132.0h0M62.9 183.9h0M73.8 153.6h0M100.9 136.5h0M65.2 143.1h0M68.5 182.7h0M90.4 158.4h0M122.5 109.8h0M85.7 157.3h0M106.6 128.2h0M88.9 150.3h0M106.1 144.3h0M63.1 172.5h0M70.4 155.7h0M72.6 170.5h0M80.7 172.7h0M115.0 110.5h0M58.5 155.7h0M65.0 163.0h0M92.6 156.6h0M104.0 130.2h0M65.6 141.5h0M67.1 177.6h0M74.4 155.6h0M84.1 172.6h0M95.8 146.7h0M80.9 148.2h0M102.8 150.8h0M84.1 185.4h0M129.9 106.1h0M83.9 149.6h0M60.9 155.8h0M91.9 167.0h0M76.9 179.9h0M58.7 158.9h0M60.1 160.9h0M111.7 124.6h0M75.5 144.6h0M98.9 127.2h0M63.8 141.1h0M103.4 131.2h0M89.0 148.7h0M119.1 106.2h0M60.6 156.6h0M97.6 125.8h0M101.3 150.5h0M94.4 133.2h0M105.5 143.4h0M87.7 173.6h0M81.6 176.8h0M82.9 145.1h0M86.9 136.6h0M86.1 134.6h0M75.0 151.7h0M73.7 182.7h0M69.7 185.3h0M75.1 159.2h0M102.9 143.9h0M63.5 184.8h0M67.3 169.5h0M66.1 155.3h0M61.4 171.2h0M118.9 102.4h0M74.6 162.2h0M106.2 139.3h0M98.9 158.5h0M66.4 139.6h0M92.3 161.8h0M89.4 161.8h0M78.3 179.8h0M74.4 150.6h0M118.0 111.5h0M81.8 184.1h0M59.5 147.3h0M92.6 167.9h0M103.2 144.4h0M100.7 135.8h0M84.3 166.4h0M95.0 155.6h0M65.4 153.6h0M80.7 139.9h0M86.4 144.1h0M103.6 148.1h0M103.3 121.0h0M98.7 130.2h0M85.0 183.3h0M124.3 102.3h0M82.8 152.5h0M75.2 151.3h0M127.2 114.8h0M91.3 131.8h0M104.9 119.5h0M95.4 132.5h0M98.6 153.6h0M123.6 118.0h0M82.2 161.3h0M107.1 140.2h0M63.8 161.3h0M60.4 152.4h0M93.3 143.9h0M108.8 119.1h0M94.4 155.6h0M78.3 140.3h0M59.5 176.0h0M101.3 129.6h0M58.4 143.7h0M59.0 162.1h0M110.4 126.6h0M90.6 135.6h0M87.0 148.6h0M105.2 127.7h0M93.0 155.4h0M93.3 128.3h0M87.9 156.5h0M91.4 181.7h0M71.4 141.9h0M65.6 170.5h0M60.4 181.6h0M89.4 183.8h0M58.6 182.9h0M77.6 168.2h0M91.3 160.6h0M74.7 137.9h0M86.6 136.5h0M77.7 183.9h0M91.4 159.6h0M63.5 163.6h0M62.1 151.1h0M124.9 114.4h0M87.9 135.3h0M95.9 150.4h0M82.0 185.0h0M70.3 167.7h0M100.5 142.9h0M127.0 111.6h0M59.4 144.0h0M86.7 132.7h0M106.8 133.3h0M69.5 167.6h0M76.0 166.5h0M72.2 156.2h0M87.1 169.9h0M90.3 133.8h0M90.3 164.4h0M86.8 150.6h0M68.4 160.6h0M75.2 172.3h0M96.0 126.9h0M71.2 137.9h0M63.8 178.7h0M78.6 140.6h0M96.0 160.9h0M76.3 165.2h0M76.2 145.6h0M100.1 136.3h0M94.5 155.8h0M87.9 167.2h0M107.8 131.8h0M76.8 164.6h0M62.7 167.0h0M101.2 136.1h0M59.9 179.8h0M78.3 170.1h0M91.6 166.1h0M103.8 123.9h0M112.3 120.8h0M69.0 177.6h0M72.5 180.1h0M95.9 136.1h0M91.1 179.8h0M93.1 155.3h0M90.4 130.7h0M126.4 105.9h0M61.5 180.7h0M103.9 149.1h0M59.3 161.4h0M89.0 184.9h0M94.6 130.7h0M72.1 171.9h0M100.9 148.4h0M117.6 129.0h0M63.2 158.3h0M59.5 155.2h0M110.1 123.6h0M95.1 135.0h0M81.8 145.7h0M115.6 117.7h0M73.7 161.0h0M83.8 182.6h0M105.7 144.5h0M77.8 146.0h0M95.6 163.6h0M95.6 162.1h0M104.0 119.4h0M67.9 165.4h0M113.5 117.0h0M97.7 133.4h0M64.1 149.6h0M92.7 171.5h0M70.5 184.4h0M115.8 130.1h0M100.4 132.3h0M119.5 108.8h0M78.9 178.7h0M115.3 121.0h0M129.4 97.9h0M92.1 155.3h0M102.8 152.2h0M103.7 153.0h0M59.6 153.4h0M61.0 152.8h0M92.4 132.9h0M66.0 152.0h0M103.1 136.6h0M66.7 174.6h0M84.0 181.3h0M98.6 142.4h0M118.6 109.5h0M96.3 137.3h0M87.9 177.9h0M86.7 177.2h0M87.7 161.9h0M70.5 145.7h0M61.7 152.8h0M93.4 153.1h0M116.7 127.7h0M95.8 141.1h0M74.7 149.0h0M124.8 97.0h0M118.6 112.2h0M59.3 183.8h0M73.5 163.9h0M64.9 174.5h0M67.2 184.5h0M88.7 143.1h0M103.1 133.3h0M73.8 136.0h0M97.9 141.9h0M78.9 151.2h0M101.7 141.4h0M119.0 108.5h0M67.3 182.5h0M64.4 164.8h0M85.2 170.7h0M70.4 146.0h0M84.9 143.4h0M121.3 115.1h0M66.9 155.4h0M89.8 163.2h0M61.1 159.4h0M71.0 165.9h0M102.1 144.6h0M119.3 113.3h0M71.2 157.1h0M97.8 149.7h0M79.9 176.4h0M73.4 166.3h0M69.4 164.5h0M78.8 135.8h0M82.4 179.3h0M113.1 119.1h0M60.4 181.6h0M69.8 164.0h0M116.2 105.5h0M67.3 145.1h0M82.9 175.4h0M98.4 128.4h0M71.8 155.4h0M128.6 96.8h0M79.6 165.8h0M127.1 109.4h0M113.2 116.6h0M66.5 156.3h0M97.5 131.4h0M75.4 176.7h0M121.5 101.8h0M87.5 149.9h0M67.7 162.9h0M81.5 184.8h0M86.4 133.5h0M125.3 100.7h0M106.0 135.3h0M82.7 144.2h0M68.3 170.0h0M83.6 155.9h0M99.8 136.7h0M66.3 158.1h0M61.8 185.0h0M83.4 172.7h0M74.2 182.8h0M78.5 156.9h0M65.0 176.6h0M117.7 107.7h0M91.9 144.7h0M73.6 154.5h0M114.2 125.9h0M120.5 102.6h0M93.1 159.7h0M63.8 152.1h0M69.1 150.6h0M112.0 134.9h0M92.3 146.3h0M61.8 143.2h0M109.4 130.3h0M99.5 122.7h0M79.8 148.2h0M95.4 147.2h0M90.8 129.7h0M96.0 149.5h0M68.2 160.3h0M83.9 165.2h0M98.5 129.6h0M67.7 182.8h0M61.8 146.7h0M64.5 162.1h0M88.0 165.6h0M87.5 181.5h0M90.3 167.3h0M123.8 112.7h0M81.2 146.3h0M75.3 183.7h0M94.4 147.1h0M69.6 171.6h0M102.5 122.8h0M96.3 153.8h0M79.9 153.5h0M62.6 170.8h0M77.6 163.3h0M84.8 162.4h0M90.4 148.2h0M78.4 143.6h0M66.0 164.1h0M98.5 131.8h0M106.7 134.4h0M63.2 143.7h0M115.0 126.4h0M73.7 160.3h0M67.1 174.2h0M108.5 126.1h0M60.3 176.6h0M83.3 173.4h0M106.0 135.2h0M94.4 164.9h0M114.3 112.0h0M89.0 159.7h0M85.3 178.2h0M119.7 119.4h0M75.1 139.6h0M80.5 152.9h0M116.0 107.7h0M93.4 126.6h0M81.0 153.3h0M102.2 150.1h0M73.8 158.7h0M105.5 149.8h0M80.3 149.0h0M71.5 170.6h0M58.5 167.4h0M112.3 128.9h0M88.2 158.3h0M63.5 149.3h0M69.9 178.5h0M97.2 159.9h0M74.0 148.5h0M116.9 105.6h0M101.9 146.8h0M76.8 178.3h0M79.0 185.5h0M112.4 126.8h0M89.9 139.1h0M94.0 157.9h0M79.7 182.9h0M72.6 150.7h0M123.5 118.0h0M128.9 94.7h0M70.0 141.9h0M77.2 177.7h0M74.8 177.3h0M94.0 140.6h0M72.1 178.6h0M83.4 154.1h0M74.3 158.7h0M109.7 139.9h0M113.2 112.4h0M127.1 111.7h0M110.9 141.3h0M107.9 136.3h0M102.1 139.5h0M112.2 124.4h0M95.4 118.2h0M114.4 94.0h0M79.8 130.2h0M81.4 131.8h0M104.1 116.9h0M65.5 133.4h0M99.1 121.1h0M86.0 122.7h0M127.3 88.2h0M114.4 152.4h0M123.5 141.9h0M120.1 177.9h0M123.1 142.0h0M109.6 145.2h0M138.7 100.1h0M109.6 160.4h0M131.9 136.7h0M119.7 145.6h0M111.2 169.5h0M118.3 157.7h0M128.5 147.2h0M103.4 157.7h0M108.5 150.9h0M131.7 118.9h0M103.3 184.6h0M93.3 175.0h0M117.2 148.4h0M153.1 77.5h0M142.6 167.0h0M101.4 143.4h0"/>
</g>
<line x1="58.3" y1="185.6" x2="182.9" y2="43.2" stroke="#7d7f82" stroke-width="2.5" stroke-dasharray="8.5 4.29"/>
<rect x="58.3" y="43.2" width="124.6" height="142.4" fill="none" stroke="#000" stroke-width="2.3"/>
<line x1="58.3" y1="185.6" x2="58.3" y2="188.8" stroke="#000" stroke-width="2.3"/>
<line x1="58.3" y1="185.6" x2="55.1" y2="185.6" stroke="#000" stroke-width="2.3"/>
<text x="58.3" y="200.6" text-anchor="middle" font-size="14.3">0</text>
<text x="53.1" y="190.6" text-anchor="end" font-size="14.3">0</text>
<line x1="99.8" y1="185.6" x2="99.8" y2="188.8" stroke="#000" stroke-width="2.3"/>
<line x1="58.3" y1="138.1" x2="55.1" y2="138.1" stroke="#000" stroke-width="2.3"/>
<text x="99.8" y="200.6" text-anchor="middle" font-size="14.3">110</text>
<text x="53.1" y="143.1" text-anchor="end" font-size="14.3">110</text>
<line x1="141.4" y1="185.6" x2="141.4" y2="188.8" stroke="#000" stroke-width="2.3"/>
<line x1="58.3" y1="90.7" x2="55.1" y2="90.7" stroke="#000" stroke-width="2.3"/>
<text x="141.4" y="200.6" text-anchor="middle" font-size="14.3">220</text>
<text x="53.1" y="95.7" text-anchor="end" font-size="14.3">220</text>
<line x1="182.9" y1="185.6" x2="182.9" y2="188.8" stroke="#000" stroke-width="2.3"/>
<line x1="58.3" y1="43.2" x2="55.1" y2="43.2" stroke="#000" stroke-width="2.3"/>
<text x="182.9" y="200.6" text-anchor="middle" font-size="14.3">330</text>
<text x="53.1" y="48.2" text-anchor="end" font-size="14.3">330</text>
<text x="123.4" y="217.4" text-anchor="middle" font-size="12.3">H-H Tl. Pred. (meV)</text>
<text transform="translate(19.0 102.3) rotate(-90)" text-anchor="middle" font-size="12.3">H-H Tl. Label (meV)</text>
<text x="114.3" y="154.6" font-size="12.2">R<tspan font-size="8.2" dy="-3.8">2</tspan><tspan dy="3.8">: 0.909</tspan></text>
<text x="114.3" y="169.3" font-size="12.2">MAE: 2.131</text>
<clipPath id="clipa2"><rect x="261.7" y="43.1" width="124.7" height="142.5"/></clipPath>
<g clip-path="url(#clipa2)" stroke="#FDBF6F" stroke-linecap="round" stroke-width="4.6" fill="none">
<path stroke-opacity="0.45" d="M268.0 175.2h0M294.9 144.7h0M271.8 157.0h0M262.0 163.2h0M296.0 135.7h0M293.8 157.0h0M318.8 127.3h0M318.6 120.3h0M302.5 126.3h0M296.5 136.9h0M313.1 124.3h0M265.2 179.1h0M321.9 114.8h0M299.0 158.4h0M276.6 155.1h0M272.5 170.8h0M262.3 181.0h0M325.2 117.8h0M284.2 171.2h0M283.4 159.6h0M307.5 123.6h0M313.1 129.3h0M293.5 156.7h0M297.9 152.5h0M287.3 170.2h0M290.6 138.1h0M279.1 153.2h0M320.7 118.7h0M316.5 111.9h0M328.0 115.6h0M298.6 128.1h0M270.6 174.5h0M276.0 180.3h0M290.7 166.7h0M268.6 161.9h0M290.2 177.1h0M276.8 170.5h0M303.4 136.5h0M276.2 152.9h0M278.0 166.1h0M331.0 107.7h0M287.2 147.2h0M282.4 170.3h0M324.0 115.5h0M326.5 111.2h0M269.2 179.0h0M275.0 167.7h0M284.9 178.0h0M291.2 160.4h0M328.9 113.5h0M292.3 139.6h0M265.0 182.8h0M297.0 156.1h0M292.5 143.8h0M305.6 137.7h0M284.1 175.2h0M329.5 100.7h0M320.2 111.7h0M278.7 180.2h0M292.9 157.1h0M297.1 154.4h0M273.9 168.6h0M270.3 170.8h0M320.9 122.0h0M286.3 144.3h0M277.3 177.0h0M279.3 184.9h0M302.3 133.3h0M280.4 152.0h0M291.4 141.6h0M264.3 163.5h0M317.4 124.9h0M266.8 173.8h0M274.8 152.9h0M289.2 177.9h0M280.3 159.1h0M261.9 181.7h0M277.8 161.6h0M262.5 180.5h0M281.3 185.6h0M282.2 174.5h0M269.6 160.2h0M311.1 130.8h0M289.5 162.2h0M269.3 153.4h0M283.9 153.2h0M290.0 136.6h0M297.4 130.3h0M319.0 107.4h0M302.1 150.3h0M306.9 139.4h0M264.9 154.9h0M265.0 167.8h0M304.4 143.0h0M277.3 182.3h0M285.2 155.3h0M286.2 155.5h0M269.7 164.1h0M287.8 154.6h0M266.4 169.6h0M262.4 173.1h0M303.6 132.3h0M287.6 152.1h0M279.6 175.1h0M289.8 158.2h0M264.4 162.3h0M291.8 160.2h0M287.5 151.0h0M310.1 132.1h0M318.7 124.4h0M285.0 139.7h0M273.2 166.2h0M273.2 167.6h0M284.1 180.9h0M297.4 143.1h0M292.3 156.4h0M314.4 125.8h0M288.9 165.1h0M273.6 173.5h0M283.5 167.7h0M276.5 170.5h0M286.1 143.4h0M281.0 172.3h0M279.1 184.4h0M292.4 136.5h0M318.6 126.1h0M311.1 128.9h0M325.4 107.2h0M284.3 175.6h0M320.0 118.1h0M287.5 160.2h0M293.4 150.2h0M271.7 166.5h0M283.8 174.0h0M286.4 163.7h0M277.8 160.9h0M282.5 142.8h0M322.3 112.8h0M262.1 173.8h0M289.3 167.2h0M318.1 129.0h0M275.9 180.8h0M276.2 185.5h0M267.8 184.2h0M319.5 127.6h0M278.6 157.9h0M309.3 126.1h0M296.1 144.2h0M315.9 129.0h0M289.0 149.0h0M265.5 152.2h0M262.3 184.1h0M310.9 119.9h0M298.9 137.3h0M269.7 159.7h0M270.3 169.9h0M319.5 128.5h0M279.8 179.9h0M304.3 128.1h0M333.8 104.7h0M310.3 130.7h0M268.1 172.3h0M262.7 161.3h0M270.8 156.8h0M274.3 179.7h0M311.7 122.7h0M287.8 150.3h0M274.0 161.2h0M326.1 105.8h0M269.0 183.6h0M282.8 154.8h0M284.6 145.4h0M313.2 116.9h0M276.1 148.5h0M330.6 103.1h0M274.9 165.5h0M306.2 143.5h0M296.1 134.3h0M287.1 149.8h0M307.8 138.5h0M263.4 180.9h0M288.2 139.0h0M290.0 157.2h0M299.9 150.7h0M284.5 179.4h0M269.1 160.1h0M293.0 138.5h0M328.4 104.3h0M272.5 155.3h0M287.5 161.8h0M278.0 177.1h0M273.6 150.0h0M265.0 175.8h0M312.6 126.5h0M277.7 151.3h0M286.1 155.4h0M279.7 178.6h0M270.6 184.2h0M309.1 137.9h0M263.1 174.5h0M280.1 164.7h0M311.1 127.7h0M288.2 167.6h0M290.0 162.4h0M302.9 129.9h0M330.3 100.0h0M282.1 179.4h0M265.0 155.2h0M283.6 167.7h0M297.9 141.9h0M279.6 163.5h0M319.3 121.7h0M325.3 110.4h0M285.2 142.0h0M288.9 174.4h0M297.3 154.5h0M328.5 115.6h0M286.4 184.9h0M273.2 156.3h0M285.3 175.4h0M318.6 114.8h0M319.9 126.0h0M311.5 119.6h0M268.2 179.9h0M278.1 149.1h0M267.4 152.7h0M277.2 183.8h0M298.8 146.5h0M273.8 165.5h0M278.4 169.2h0M293.4 147.0h0M278.4 149.3h0M264.5 167.7h0M283.4 164.6h0M282.7 162.4h0M273.4 153.0h0M287.8 144.7h0M278.7 145.3h0M293.7 156.0h0M262.1 178.9h0M308.4 139.0h0M286.7 180.1h0M297.6 151.2h0M281.9 179.9h0M290.7 158.7h0M270.3 159.9h0M279.5 144.8h0M295.1 140.0h0M306.4 138.4h0M297.2 148.7h0M279.3 183.2h0M262.1 162.8h0M281.9 154.2h0M282.1 179.7h0M286.9 144.9h0M293.3 162.5h0M284.1 148.7h0M316.9 113.4h0M307.2 121.6h0M279.8 171.9h0M320.6 123.5h0M262.2 164.1h0M296.3 151.5h0M261.9 166.7h0M261.9 174.6h0M296.9 135.2h0M295.0 139.4h0M303.7 127.2h0M263.0 175.9h0M306.0 124.8h0M302.2 138.3h0M275.3 156.1h0M319.7 114.9h0M316.0 132.4h0M302.1 135.2h0M307.6 132.2h0M308.5 121.7h0M294.6 150.5h0M278.0 178.1h0M264.2 155.4h0M274.7 173.1h0M321.3 117.2h0M276.5 171.3h0M326.6 106.7h0M307.7 125.5h0M265.3 177.1h0M276.7 153.4h0M291.7 135.9h0M269.6 158.6h0M266.2 162.9h0M290.7 141.2h0M275.3 178.3h0M302.3 124.8h0M267.3 170.4h0M316.8 121.3h0M280.4 169.8h0M307.8 140.9h0M300.0 158.3h0M275.7 124.1h0M284.4 121.3h0M308.6 112.7h0M265.3 147.2h0M279.1 118.9h0M291.0 127.0h0M319.1 97.3h0M273.2 121.6h0M273.2 134.1h0M274.4 127.8h0M329.3 94.7h0M269.9 131.4h0M262.7 133.3h0M319.6 107.3h0M277.9 122.9h0M303.5 111.7h0M294.7 129.3h0M311.8 105.0h0M308.7 111.7h0M294.1 131.9h0M311.3 156.0h0M305.4 171.0h0M300.6 160.0h0M326.6 145.2h0M324.3 120.6h0M326.0 140.9h0M312.8 159.8h0M336.2 121.3h0M299.6 158.1h0M291.9 172.5h0M292.6 169.6h0M291.2 182.4h0M318.2 158.9h0M318.5 132.7h0M295.2 179.9h0M305.1 170.5h0M307.8 167.0h0M318.7 154.1h0M298.7 177.2h0M306.6 177.7h0M331.3 112.8h0M293.6 177.1h0M334.5 85.8h0M318.2 136.2h0M346.4 55.2h0M362.5 65.6h0M353.0 75.1h0M348.3 80.8h0M343.6 85.2h0M352.1 85.5h0M321.4 85.5h0M338.8 91.2h0M344.5 93.1h0M321.7 94.5h0M271.4 77.4h0M274.7 92.6h0M342.6 102.6h0"/>
<path stroke-opacity="0.45" d="M291.1 140.6h0M298.0 141.2h0M322.8 112.2h0M269.8 182.7h0M275.7 169.5h0M328.4 106.1h0M270.4 153.8h0M275.2 153.2h0M295.4 138.4h0M263.6 168.5h0M303.7 150.9h0M269.2 175.2h0M288.9 143.1h0M273.8 172.2h0M317.4 117.4h0M324.8 118.0h0M327.6 106.1h0M294.1 160.8h0M319.9 116.8h0M279.9 160.1h0M278.9 152.3h0M311.3 119.4h0M316.2 123.6h0M263.9 159.1h0M303.6 134.9h0M317.7 125.1h0M262.2 182.6h0M278.7 147.3h0M278.3 184.4h0M289.1 175.4h0M264.3 173.3h0M322.8 107.7h0M296.0 150.2h0M277.2 152.9h0M271.6 177.2h0M271.7 181.9h0M268.2 155.8h0M277.5 183.1h0M268.1 185.3h0M266.4 152.8h0M305.2 130.1h0M279.2 183.9h0M280.1 185.2h0M272.0 175.2h0M282.1 150.1h0M286.2 173.5h0M307.5 125.8h0M263.0 162.7h0M285.9 166.4h0M312.1 119.8h0M320.8 109.0h0M268.9 178.6h0M286.6 144.4h0M292.3 156.6h0M275.0 159.4h0M276.8 166.6h0M277.2 161.1h0M267.7 171.4h0M284.6 141.3h0M299.9 137.4h0M296.1 141.2h0M306.8 133.5h0M271.2 159.0h0M304.4 134.0h0M281.9 149.6h0M318.0 124.6h0M313.6 132.5h0M294.4 160.0h0M313.7 126.7h0M276.5 162.5h0M266.3 173.6h0M323.8 105.6h0M275.6 158.7h0M297.5 154.7h0M262.1 168.2h0M280.1 174.2h0M319.6 116.1h0M290.5 167.3h0M287.6 167.3h0M269.8 154.6h0M283.5 164.0h0M287.9 154.8h0M289.8 153.6h0M264.7 173.1h0M265.4 184.1h0M315.0 116.0h0M301.7 135.2h0M287.0 160.1h0M271.0 167.1h0M304.6 132.3h0M329.5 105.1h0M306.2 149.2h0M325.9 113.4h0M274.2 177.8h0M275.8 168.7h0M296.4 134.7h0M321.9 111.6h0M270.2 172.2h0M286.5 164.0h0M300.4 153.0h0M303.4 144.3h0M307.2 123.7h0M263.5 158.4h0M310.8 130.6h0M268.2 172.7h0M318.9 122.8h0M284.9 172.0h0M294.6 164.6h0M306.8 118.6h0M308.1 137.6h0M315.3 115.8h0M304.7 141.2h0M287.4 152.5h0M293.5 156.3h0M283.0 183.7h0M326.8 105.6h0M276.1 161.0h0M263.5 152.6h0M277.5 157.1h0M273.1 158.0h0M313.7 127.8h0M281.5 180.4h0M276.6 181.3h0M261.9 162.4h0M273.5 183.4h0M272.5 171.0h0M263.3 166.8h0M266.9 156.9h0M294.5 136.1h0M278.9 178.4h0M290.9 152.0h0M318.9 112.1h0M309.9 136.1h0M297.6 139.5h0M272.3 161.4h0M296.2 147.6h0M287.6 153.5h0M314.5 118.1h0M271.2 183.4h0M315.3 124.2h0M282.6 152.3h0M286.9 157.4h0M286.5 154.5h0M296.5 144.7h0M284.1 178.3h0M314.2 129.7h0M278.0 182.7h0M290.8 136.1h0M278.3 181.5h0M275.3 152.2h0M300.5 145.2h0M279.6 167.6h0M294.2 139.6h0M295.6 134.7h0M292.1 166.0h0M278.1 181.2h0M262.8 173.1h0M313.2 124.0h0M293.2 151.9h0M274.5 176.2h0M280.0 155.6h0M301.9 153.2h0M297.5 136.3h0M295.4 145.8h0M271.1 175.4h0M272.4 170.5h0M293.8 149.4h0M290.7 137.0h0M288.1 143.2h0M274.4 166.2h0M262.8 179.5h0M291.9 140.6h0M323.1 107.6h0M267.8 179.1h0M288.5 178.7h0M275.1 161.8h0M313.9 117.6h0M287.3 175.8h0M268.9 167.8h0M287.8 158.0h0M314.4 132.0h0M262.7 178.0h0M302.2 126.8h0M283.2 150.1h0M317.9 118.0h0M300.9 134.1h0M283.8 142.8h0M308.4 121.9h0M316.4 113.9h0M299.0 143.0h0M277.3 164.8h0M315.9 134.2h0M284.9 152.4h0M283.9 177.7h0M294.1 163.3h0M306.1 122.1h0M265.0 172.7h0M332.6 104.7h0M273.3 184.1h0M292.3 157.6h0M270.5 168.9h0M272.2 160.9h0M295.1 143.3h0M312.6 134.6h0M288.0 165.4h0M271.3 169.7h0M289.9 156.2h0M277.2 184.6h0M310.7 122.0h0M311.1 135.5h0M288.3 173.1h0M265.1 168.9h0M269.3 154.3h0M268.5 157.3h0M278.1 148.0h0M300.9 154.6h0M298.2 154.5h0M299.1 133.1h0M265.8 182.2h0M318.1 111.8h0M274.3 160.8h0M296.1 144.0h0M279.0 147.6h0M276.3 152.1h0M285.3 166.2h0M273.3 179.0h0M331.3 101.6h0M276.1 172.8h0M270.8 164.8h0M325.8 104.7h0M310.2 116.8h0M284.2 158.7h0M325.3 107.9h0M289.7 149.0h0M284.2 152.7h0M298.5 149.0h0M265.7 163.5h0M314.2 117.7h0M300.8 142.0h0M288.4 173.2h0M298.7 134.6h0M269.3 152.1h0M293.6 144.5h0M325.2 114.9h0M316.5 124.4h0M282.0 183.4h0M268.1 177.4h0M316.0 126.9h0M285.1 166.2h0M269.5 160.1h0M267.4 168.4h0M290.1 148.1h0M327.3 109.4h0M287.8 139.5h0M300.4 132.4h0M265.5 183.8h0M301.7 140.6h0M266.3 169.1h0M287.4 166.3h0M265.5 177.6h0M296.5 149.8h0M287.2 171.1h0M305.5 135.6h0M264.8 178.8h0M295.1 162.7h0M285.1 146.9h0M297.8 145.6h0M262.5 170.6h0M264.3 183.9h0M293.3 158.3h0M277.1 153.0h0M311.3 117.8h0M299.2 156.7h0M288.3 144.6h0M314.4 121.9h0M297.0 159.0h0M285.3 168.8h0M266.7 161.3h0M267.2 174.5h0M319.1 121.1h0M296.0 161.1h0M305.0 145.2h0M324.3 112.9h0M292.7 143.1h0M296.3 161.8h0M301.6 146.6h0M270.2 150.3h0M262.8 158.4h0M266.1 180.1h0M274.5 151.1h0M295.5 143.0h0M263.4 182.3h0M289.4 149.1h0M287.3 144.3h0M309.9 119.1h0M285.0 185.3h0M293.7 135.6h0M317.0 117.7h0M279.2 180.0h0M271.4 156.6h0M280.7 144.4h0M271.1 182.3h0M278.8 170.4h0M302.7 128.9h0M277.5 155.4h0M284.1 154.3h0M303.9 124.1h0M275.9 160.2h0M266.8 177.3h0M321.7 112.6h0M301.4 136.8h0M308.0 140.3h0M298.3 153.5h0M277.5 174.4h0M289.9 144.7h0M271.5 153.5h0M283.3 163.2h0M282.0 175.1h0M301.3 130.5h0M300.2 152.7h0M328.4 109.8h0M298.6 158.8h0M300.6 120.0h0M329.9 94.4h0M262.9 129.6h0M263.7 150.4h0M279.4 139.5h0M290.0 128.6h0M295.4 116.3h0M312.7 103.6h0M264.1 140.9h0M292.4 116.4h0M267.2 127.8h0M322.3 104.0h0M276.2 135.6h0M330.9 92.2h0M314.3 106.4h0M306.0 108.2h0M312.3 109.4h0M267.9 129.7h0M304.5 106.0h0M305.9 111.1h0M318.0 100.0h0M323.4 130.5h0M317.8 135.1h0M306.4 156.4h0M306.9 171.8h0M301.8 170.1h0M335.1 129.4h0M297.0 182.6h0M327.4 133.5h0M324.7 142.0h0M314.0 156.4h0M330.5 133.5h0M322.9 126.2h0M303.0 185.2h0M311.3 160.2h0M295.7 177.8h0M298.9 176.1h0M334.0 124.2h0M327.8 142.1h0M301.2 177.0h0M332.4 107.3h0M304.9 153.3h0M335.2 114.0h0M302.3 183.8h0M330.7 117.4h0M320.6 137.6h0M315.8 160.7h0M333.6 110.5h0M329.9 135.5h0M315.8 164.1h0M309.3 148.9h0M313.6 143.7h0M323.8 129.9h0M305.7 154.7h0M327.0 114.8h0M355.3 69.0h0M321.4 174.6h0M262.7 181.9h0M326.9 184.9h0"/>
<path stroke-opacity="0.45" d="M277.2 168.5h0M267.4 184.3h0M292.7 134.6h0M303.9 125.8h0M262.3 176.7h0M273.6 171.8h0M289.6 162.2h0M273.6 172.7h0M281.4 176.7h0M284.1 140.7h0M284.2 169.4h0M305.6 139.3h0M266.4 162.7h0M292.0 171.7h0M282.2 171.2h0M280.5 182.9h0M313.9 128.6h0M327.3 106.6h0M277.2 179.3h0M268.7 166.4h0M311.5 115.8h0M292.0 147.4h0M306.0 145.7h0M316.7 120.5h0M283.8 152.0h0M262.5 168.8h0M296.1 150.4h0M269.0 179.2h0M283.3 181.2h0M291.4 144.0h0M268.7 150.9h0M320.8 110.6h0M329.4 109.7h0M284.7 180.9h0M276.2 180.6h0M304.8 140.2h0M326.4 100.5h0M275.9 156.8h0M272.0 158.8h0M302.4 148.9h0M269.0 171.6h0M295.8 152.1h0M300.4 146.4h0M307.5 133.9h0M308.6 132.6h0M303.6 151.7h0M291.0 139.7h0M265.0 179.0h0M295.5 152.0h0M280.2 148.5h0M293.3 141.2h0M293.9 156.5h0M294.7 152.1h0M324.4 112.6h0M278.5 162.0h0M300.0 129.1h0M281.6 163.6h0M272.0 153.0h0M329.9 106.7h0M299.5 160.2h0M313.0 126.9h0M283.5 180.2h0M309.3 138.3h0M284.1 148.5h0M267.3 153.8h0M289.7 148.3h0M276.0 161.2h0M317.0 127.4h0M272.8 170.9h0M319.8 113.8h0M264.1 179.9h0M301.8 142.8h0M291.2 161.6h0M323.3 120.3h0M282.8 180.9h0M281.8 170.9h0M269.9 163.5h0M287.8 169.9h0M271.3 161.1h0M273.9 175.4h0M275.8 167.2h0M324.3 111.2h0M279.1 156.1h0M316.5 133.4h0M261.9 157.1h0M281.4 144.3h0M327.4 115.5h0M276.9 169.0h0M315.7 125.7h0M297.1 140.6h0M283.8 153.9h0M305.3 131.9h0M308.9 125.4h0M282.6 143.7h0M328.7 108.7h0M322.9 109.4h0M291.9 152.5h0M273.9 169.7h0M309.0 140.0h0M307.7 137.2h0M296.0 152.9h0M263.3 173.7h0M262.5 170.6h0M282.1 148.8h0M278.2 181.1h0M270.2 161.6h0M276.5 159.0h0M293.8 141.8h0M276.3 168.0h0M326.0 108.8h0M264.8 174.8h0M270.9 183.8h0M299.7 149.3h0M300.2 145.8h0M300.7 146.2h0M278.5 164.6h0M314.2 134.2h0M266.5 170.0h0M309.3 127.8h0M288.6 149.4h0M282.3 164.0h0M273.0 155.8h0M270.1 154.7h0M311.8 131.5h0M264.0 163.4h0M312.9 136.1h0M315.4 122.4h0M293.2 141.8h0M309.4 129.4h0M323.1 117.1h0M268.4 153.0h0M323.2 116.8h0M266.8 169.6h0M323.5 111.8h0M282.6 165.6h0M291.9 159.3h0M319.2 119.0h0M293.6 139.9h0M286.1 155.6h0M287.2 165.0h0M288.8 182.8h0M279.6 147.5h0M308.8 136.8h0M294.1 151.5h0M280.3 170.9h0M281.2 182.0h0M265.7 176.8h0M277.2 172.1h0M301.9 144.5h0M263.8 185.0h0M327.7 117.4h0M325.7 112.6h0M271.5 165.2h0M327.3 112.6h0M323.8 119.7h0M308.7 130.6h0M271.8 163.9h0M317.0 119.7h0M290.7 146.4h0M296.8 141.4h0M299.2 136.1h0M281.1 171.9h0M297.8 161.2h0M283.3 149.1h0M285.7 154.5h0M316.6 131.0h0M289.5 162.6h0M296.5 147.7h0M307.0 141.8h0M314.9 122.7h0M283.1 156.7h0M316.9 129.2h0M282.3 154.5h0M323.4 106.0h0M311.3 133.2h0M276.5 184.9h0M282.9 162.4h0M285.3 184.0h0M271.5 184.6h0M287.3 165.9h0M277.8 176.4h0M278.2 179.8h0M309.1 127.0h0M281.3 166.1h0M320.0 115.3h0M308.7 134.5h0M290.6 153.6h0M308.0 133.5h0M284.5 146.6h0M285.4 149.2h0M290.3 150.5h0M281.9 155.3h0M283.8 162.0h0M308.4 124.9h0M269.3 181.8h0M314.8 117.3h0M296.5 146.7h0M287.4 171.5h0M291.8 159.9h0M293.7 136.6h0M291.2 154.2h0M286.8 171.1h0M296.1 133.2h0M333.4 105.3h0M286.7 157.1h0M307.4 137.1h0M288.1 144.3h0M296.9 160.9h0M280.6 176.0h0M290.8 159.1h0M296.6 153.8h0M325.6 108.1h0M314.7 132.2h0M308.5 129.9h0M327.8 107.5h0M273.8 177.7h0M294.2 164.1h0M297.9 144.4h0M300.0 133.0h0M300.7 138.0h0M306.9 123.2h0M273.9 160.1h0M304.5 125.0h0M274.4 161.2h0M266.7 155.6h0M297.5 147.6h0M281.5 176.3h0M274.6 150.7h0M278.7 164.9h0M282.0 155.2h0M309.1 130.6h0M306.0 137.2h0M277.2 152.7h0M298.7 144.2h0M276.4 170.2h0M317.8 123.6h0M265.4 157.1h0M280.2 180.6h0M284.5 157.6h0M270.3 158.1h0M286.7 143.3h0M292.7 172.1h0M290.0 144.8h0M307.7 131.4h0M285.2 175.3h0M275.1 185.0h0M299.1 131.1h0M319.9 115.1h0M289.6 172.2h0M281.4 172.8h0M276.7 169.6h0M262.7 159.0h0M296.6 154.5h0M280.6 152.5h0M262.7 182.0h0M309.1 126.7h0M283.3 160.8h0M295.5 136.6h0M291.0 169.7h0M267.3 176.5h0M313.0 118.2h0M273.1 151.9h0M287.2 149.7h0M265.6 176.4h0M293.4 135.3h0M286.9 136.4h0M272.6 174.9h0M301.1 153.6h0M288.7 145.5h0M312.6 118.6h0M279.9 153.9h0M307.2 136.6h0M306.0 130.8h0M320.8 117.5h0M280.3 175.6h0M290.1 145.5h0M309.8 134.7h0M301.2 153.3h0M261.8 178.9h0M266.7 159.9h0M275.6 157.5h0M262.8 157.0h0M274.2 162.2h0M311.4 132.2h0M265.9 170.0h0M270.6 170.8h0M266.0 161.7h0M267.9 172.5h0M309.1 124.7h0M296.9 144.3h0M263.9 184.6h0M278.9 173.8h0M280.5 169.6h0M268.5 151.4h0M263.7 163.6h0M312.0 115.8h0M322.7 121.1h0M290.2 162.3h0M282.9 149.8h0M290.3 158.3h0M284.6 183.8h0M263.9 163.7h0M309.7 143.5h0M289.6 152.3h0M295.4 143.9h0M318.5 109.1h0M289.2 136.9h0M275.1 150.0h0M299.5 151.6h0M278.2 165.3h0M266.7 169.1h0M268.7 173.9h0M301.3 149.1h0M264.6 128.0h0M282.5 132.8h0M262.6 145.6h0M283.4 129.7h0M262.9 128.1h0M296.0 133.4h0M325.7 101.3h0M301.4 127.6h0M305.4 114.7h0M291.7 123.9h0M339.2 83.8h0M283.2 128.5h0M303.1 106.4h0M293.1 117.4h0M331.2 94.1h0M275.8 146.3h0M320.2 143.1h0M310.3 166.8h0M298.1 166.1h0M335.1 116.5h0M311.8 150.9h0M295.9 178.6h0M297.9 179.3h0M321.3 150.2h0M326.7 145.7h0M336.7 129.2h0M329.7 122.2h0M311.8 145.4h0M294.2 167.9h0M301.0 164.2h0M334.6 110.1h0M323.6 150.4h0M294.0 184.0h0M307.9 180.1h0M334.1 122.1h0M332.7 121.9h0M297.7 166.5h0M303.2 163.0h0M292.7 175.9h0M306.1 157.7h0M334.0 128.5h0M329.2 133.2h0M303.3 164.4h0M303.8 185.5h0M288.7 160.3h0M305.1 160.0h0M340.8 119.8h0"/>
<path stroke-opacity="0.45" d="M302.6 147.7h0M273.4 163.7h0M275.0 182.4h0M316.8 119.5h0M274.7 151.2h0M272.9 156.7h0M304.0 144.9h0M274.3 175.4h0M300.1 136.6h0M286.5 166.1h0M301.1 131.7h0M277.0 166.5h0M279.9 163.6h0M285.0 159.5h0M273.2 157.0h0M314.7 115.9h0M264.7 154.9h0M293.8 160.3h0M285.3 155.2h0M282.9 149.4h0M269.5 179.3h0M278.6 179.6h0M306.7 120.2h0M266.8 178.9h0M301.3 138.2h0M308.3 139.2h0M272.7 177.0h0M287.3 156.2h0M282.2 154.5h0M304.2 141.4h0M270.5 176.1h0M262.2 170.6h0M275.3 167.2h0M317.9 120.7h0M288.2 169.1h0M297.3 151.5h0M298.4 148.9h0M282.9 156.1h0M329.1 107.2h0M268.3 177.7h0M285.4 154.8h0M293.7 166.1h0M294.1 151.2h0M279.3 165.7h0M299.3 137.9h0M313.3 118.4h0M324.7 118.2h0M309.7 138.0h0M273.4 160.0h0M322.6 122.3h0M309.7 119.0h0M303.5 145.9h0M299.1 129.4h0M263.5 164.6h0M274.1 170.4h0M274.6 164.9h0M312.4 131.9h0M291.1 159.2h0M282.9 165.9h0M272.2 168.0h0M300.8 139.5h0M271.4 179.4h0M281.6 163.8h0M280.5 175.8h0M316.1 111.2h0M292.0 139.4h0M269.0 152.1h0M326.9 107.1h0M279.4 152.8h0M291.0 167.7h0M269.0 182.4h0M308.0 123.3h0M306.9 121.6h0M270.0 165.6h0M309.8 129.1h0M284.8 156.7h0M307.4 132.6h0M286.2 160.7h0M262.0 164.0h0M319.6 119.7h0M309.4 118.2h0M282.3 145.4h0M310.6 141.3h0M283.0 167.9h0M293.9 146.8h0M318.2 125.0h0M276.9 178.3h0M307.9 137.7h0M296.5 151.9h0M274.2 148.0h0M263.3 167.5h0M328.0 107.7h0M317.8 115.2h0M291.8 158.0h0M301.1 157.2h0M270.3 159.2h0M312.3 117.7h0M277.9 157.8h0M287.0 151.6h0M319.7 114.2h0M285.0 144.1h0M325.4 117.7h0M273.0 173.1h0M266.7 164.8h0M311.1 133.9h0M325.0 102.5h0M276.2 172.3h0M312.5 131.8h0M307.8 121.7h0M280.4 164.2h0M267.3 156.6h0M307.3 135.4h0M273.5 150.7h0M267.3 175.9h0M270.1 167.2h0M301.5 148.0h0M277.2 170.4h0M317.4 116.1h0M317.9 127.5h0M281.1 146.6h0M278.5 160.4h0M283.1 147.6h0M298.9 154.7h0M276.5 172.7h0M311.3 121.9h0M274.7 183.6h0M276.4 162.7h0M278.3 147.3h0M291.2 148.1h0M265.4 158.4h0M288.8 172.2h0M263.2 185.4h0M283.6 140.8h0M281.4 167.3h0M291.7 140.7h0M288.5 145.1h0M328.9 99.9h0M305.1 130.2h0M279.6 165.2h0M284.6 184.5h0M304.3 146.7h0M293.1 141.7h0M323.1 116.1h0M298.3 130.1h0M283.3 166.0h0M276.5 155.7h0M266.7 178.8h0M291.5 135.4h0M308.2 128.1h0M264.2 156.3h0M283.6 147.7h0M296.1 153.1h0M272.5 179.2h0M267.6 169.7h0M270.7 183.2h0M309.6 121.7h0M288.7 139.7h0M272.4 174.0h0M284.7 148.1h0M308.4 138.3h0M312.9 124.0h0M293.1 139.7h0M287.2 166.6h0M323.7 113.6h0M300.6 139.1h0M283.1 169.0h0M275.2 181.1h0M266.9 166.2h0M281.5 145.3h0M265.7 184.3h0M290.8 163.8h0M273.4 161.6h0M326.2 102.5h0M323.1 111.4h0M271.1 176.5h0M286.9 174.4h0M271.2 176.2h0M266.6 159.7h0M267.8 180.7h0M307.3 135.3h0M266.8 183.2h0M272.2 148.1h0M273.6 183.9h0M328.1 99.8h0M291.2 170.7h0M291.1 146.2h0M270.1 152.9h0M328.1 99.2h0M297.9 147.6h0M298.2 158.3h0M309.1 134.4h0M274.3 184.4h0M291.5 157.6h0M265.2 153.0h0M286.7 171.8h0M294.4 157.9h0M275.5 168.0h0M275.9 182.0h0M307.9 125.9h0M326.0 107.3h0M281.6 151.3h0M301.6 148.9h0M286.0 151.1h0M295.3 140.1h0M314.7 129.1h0M294.0 138.8h0M313.3 129.0h0M264.5 171.2h0M268.4 169.6h0M280.3 171.3h0M298.2 156.9h0M327.9 113.8h0M304.6 128.1h0M321.8 110.3h0M293.1 159.7h0M325.6 105.7h0M311.8 122.9h0M284.2 174.0h0M279.3 173.2h0M282.1 176.2h0M317.9 119.2h0M273.9 167.9h0M296.2 147.4h0M261.8 185.3h0M319.2 111.4h0M266.0 157.5h0M318.5 121.3h0M321.9 120.2h0M269.7 175.4h0M318.6 129.1h0M266.6 159.2h0M309.4 139.4h0M316.8 114.9h0M274.5 149.1h0M325.4 119.1h0M279.1 154.2h0M291.8 144.5h0M274.8 165.8h0M262.3 170.6h0M294.2 161.5h0M305.0 136.1h0M265.6 182.0h0M324.5 117.3h0M290.9 168.1h0M270.2 151.9h0M327.7 101.7h0M301.3 153.2h0M316.0 128.2h0M329.9 101.7h0M292.2 152.2h0M284.7 143.1h0M297.1 137.6h0M305.0 142.3h0M307.1 126.8h0M302.6 147.0h0M316.1 123.9h0M263.6 161.8h0M300.9 134.3h0M266.1 167.6h0M295.9 153.2h0M297.7 134.1h0M318.4 123.2h0M286.5 155.8h0M284.6 183.4h0M277.2 177.1h0M285.5 144.3h0M316.3 116.5h0M265.0 163.9h0M314.4 130.7h0M283.2 184.6h0M271.8 161.9h0M272.4 159.4h0M281.4 151.1h0M315.1 125.9h0M286.4 178.4h0M264.5 178.9h0M316.7 126.7h0M283.5 184.4h0M283.0 155.8h0M282.4 153.1h0M284.5 185.0h0M332.5 105.8h0M286.9 179.0h0M295.5 145.6h0M280.6 158.6h0M326.2 107.5h0M316.2 111.2h0M267.3 179.4h0M282.9 148.6h0M308.0 129.5h0M281.6 166.9h0M316.8 116.4h0M313.5 124.3h0M307.7 134.4h0M281.4 145.0h0M264.6 169.9h0M306.6 131.7h0M308.4 136.0h0M307.0 122.1h0M323.1 116.8h0M283.8 156.4h0M312.2 121.4h0M319.9 123.4h0M299.0 135.9h0M315.3 131.8h0M315.6 133.5h0M311.4 124.3h0M298.6 147.5h0M283.3 180.9h0M320.4 120.9h0M302.7 144.9h0M309.1 121.4h0M308.9 134.5h0M270.3 182.7h0M286.1 171.0h0M322.9 109.9h0M329.1 103.8h0M279.4 175.2h0M273.9 149.2h0M315.2 127.2h0M263.7 154.4h0M275.4 169.7h0M304.0 144.0h0M305.2 126.5h0M285.5 151.8h0M262.8 163.9h0M314.0 118.0h0M280.9 177.1h0M280.2 175.7h0M289.3 140.6h0M287.7 153.0h0M290.2 126.3h0M268.3 132.1h0M271.1 129.4h0M325.8 95.4h0M267.4 134.1h0M305.3 107.4h0M287.5 129.7h0M310.0 113.3h0M306.5 103.8h0M262.2 130.8h0M286.9 121.1h0M304.3 113.2h0M262.5 130.1h0M262.3 132.5h0M267.6 140.1h0M281.7 139.9h0M264.9 131.5h0M271.4 135.1h0M329.6 98.4h0M326.1 99.8h0M262.6 153.5h0M336.0 85.6h0M330.2 125.3h0M305.5 159.8h0M287.2 184.4h0M329.5 120.7h0M333.1 124.5h0M336.0 122.2h0M337.8 121.9h0M327.7 140.9h0M328.9 137.2h0M306.3 165.3h0M306.4 181.0h0M298.6 159.7h0M307.8 182.3h0M324.0 131.3h0M308.0 181.2h0M319.3 147.9h0M330.8 123.7h0M311.7 170.5h0M299.4 165.1h0M301.1 154.2h0M335.9 113.8h0M294.0 137.7h0M274.7 170.0h0M267.1 113.2h0M328.8 164.4h0M335.5 143.8h0M315.3 157.6h0M315.3 117.6h0M338.2 132.4h0"/>
<path stroke-opacity="0.45" d="M308.2 124.0h0M297.9 134.5h0M302.1 140.7h0M267.8 153.5h0M279.3 164.9h0M325.6 101.4h0M293.8 158.5h0M264.2 162.6h0M288.8 146.8h0M314.7 134.9h0M275.9 159.5h0M279.0 172.7h0M306.3 138.2h0M278.5 165.9h0M268.6 184.7h0M269.1 159.2h0M295.6 139.8h0M286.9 176.7h0M308.8 135.2h0M270.4 179.6h0M308.8 122.7h0M275.2 172.8h0M264.5 166.8h0M295.8 160.6h0M264.4 180.8h0M289.2 146.6h0M303.9 126.9h0M283.7 145.6h0M290.2 141.4h0M295.1 157.0h0M276.5 145.0h0M274.8 162.4h0M311.6 139.6h0M273.3 150.9h0M305.6 130.9h0M283.4 178.1h0M298.8 142.5h0M314.5 119.8h0M286.9 154.4h0M318.1 111.7h0M324.1 104.6h0M298.5 131.5h0M296.4 159.6h0M305.8 122.4h0M275.1 152.1h0M273.4 149.4h0M272.5 171.3h0M318.3 117.5h0M329.8 105.7h0M295.6 140.7h0M308.5 142.9h0M284.9 155.4h0M304.9 131.8h0M290.7 133.3h0M284.2 165.2h0M313.9 126.1h0M282.9 174.1h0M265.0 161.7h0M316.8 114.2h0M265.5 160.0h0M264.3 157.4h0M295.6 152.3h0M273.0 175.7h0M272.1 179.4h0M315.9 127.3h0M325.9 105.0h0M300.2 134.6h0M280.8 154.4h0M263.2 176.0h0M296.3 155.2h0M263.5 169.2h0M268.3 180.2h0M330.3 108.8h0M266.4 155.3h0M316.7 128.7h0M306.8 132.0h0M277.0 184.0h0M270.2 154.5h0M298.6 155.8h0M308.8 131.2h0M312.1 130.8h0M262.1 171.1h0M313.2 131.3h0M262.0 171.2h0M300.9 149.0h0M285.9 159.1h0M283.1 180.5h0M285.3 180.6h0M267.8 158.0h0M321.8 115.6h0M322.9 117.6h0M312.0 127.2h0M273.4 175.6h0M292.7 143.7h0M279.2 168.2h0M298.1 133.0h0M294.8 140.3h0M283.7 168.8h0M271.2 158.6h0M266.9 159.4h0M286.5 172.5h0M288.5 137.0h0M293.5 158.5h0M302.4 145.6h0M321.3 116.0h0M267.3 155.4h0M271.6 161.9h0M308.0 125.9h0M284.5 170.6h0M278.6 158.0h0M320.2 120.6h0M309.9 121.3h0M273.1 174.6h0M276.0 176.8h0M277.4 166.0h0M262.5 175.5h0M329.4 98.7h0M266.3 171.8h0M292.9 166.1h0M317.4 123.1h0M306.6 130.3h0M327.0 100.2h0M317.5 111.4h0M266.2 175.6h0M262.8 171.0h0M273.4 158.9h0M311.7 125.4h0M281.1 175.7h0M263.8 163.9h0M285.3 148.6h0M263.7 183.5h0M289.1 163.2h0M297.2 133.6h0M288.0 150.3h0M263.9 170.7h0M290.3 164.9h0M282.1 158.8h0M301.3 143.4h0M278.0 153.6h0M310.1 134.4h0M281.8 155.0h0M263.9 153.5h0M308.9 120.7h0M327.1 112.2h0M314.8 122.9h0M268.0 156.6h0M278.8 147.9h0M278.1 166.2h0M278.0 183.0h0M287.4 166.1h0M290.7 145.2h0M274.0 161.9h0M289.5 144.0h0M265.7 164.1h0M311.9 115.1h0M262.5 158.3h0M282.9 178.9h0M301.1 133.6h0M276.8 180.8h0M273.9 160.7h0M284.1 185.2h0M296.5 148.1h0M296.0 162.8h0M276.0 181.7h0M283.9 179.2h0M261.8 185.3h0M265.6 178.1h0M305.9 148.6h0M290.1 149.2h0M326.2 101.4h0M302.2 138.0h0M283.5 149.5h0M286.4 159.4h0M296.0 144.6h0M262.3 183.7h0M273.7 178.6h0M309.1 132.7h0M270.5 165.3h0M303.2 149.5h0M325.2 102.5h0M271.7 158.8h0M316.6 123.8h0M262.7 182.9h0M329.7 108.0h0M297.7 147.3h0M268.6 173.8h0M289.1 164.4h0M304.0 127.8h0M271.1 184.0h0M325.2 115.7h0M316.1 120.0h0M269.1 172.2h0M263.7 172.6h0M287.6 168.6h0M288.9 176.6h0M329.5 101.5h0M276.5 178.4h0M313.0 121.8h0M262.8 158.3h0M287.3 160.4h0M315.4 122.2h0M273.4 178.7h0M298.2 137.0h0M304.6 129.3h0M330.4 110.2h0M305.5 138.6h0M312.3 131.4h0M276.5 161.1h0M274.2 183.1h0M287.9 143.0h0M306.3 144.0h0M312.4 118.2h0M294.5 161.2h0M301.5 131.6h0M275.4 160.0h0M283.4 170.1h0M308.1 143.4h0M305.7 143.5h0M296.2 159.5h0M265.2 185.3h0M270.3 166.7h0M263.1 162.5h0M299.0 134.3h0M268.8 181.2h0M302.2 152.2h0M295.0 153.3h0M278.0 180.2h0M312.3 132.9h0M299.9 153.1h0M277.9 174.6h0M266.3 183.2h0M312.9 138.2h0M283.2 181.7h0M325.0 102.0h0M308.4 135.0h0M306.0 144.2h0M320.6 107.8h0M305.0 127.7h0M284.5 154.2h0M292.9 160.3h0M263.9 171.1h0M261.8 159.0h0M281.9 165.9h0M268.5 185.0h0M278.6 172.6h0M280.8 156.0h0M304.9 132.6h0M281.2 179.2h0M274.7 168.1h0M268.3 156.0h0M288.7 163.3h0M284.8 173.8h0M299.9 136.3h0M293.2 140.8h0M290.3 164.9h0M291.8 139.3h0M270.0 154.1h0M280.4 165.4h0M279.0 183.3h0M293.9 148.9h0M312.5 121.6h0M282.5 163.1h0M304.8 133.3h0M309.7 146.3h0M303.4 139.4h0M273.9 168.9h0M263.9 165.5h0M280.5 144.3h0M280.6 176.0h0M297.6 156.8h0M266.5 156.1h0M294.3 136.4h0M305.3 138.7h0M301.1 139.0h0M332.8 107.0h0M290.4 138.4h0M275.9 177.9h0M297.5 140.2h0M278.4 162.4h0M287.0 173.6h0M280.6 171.9h0M285.7 144.6h0M276.0 172.0h0M297.7 142.1h0M322.0 108.5h0M270.4 182.5h0M304.1 148.5h0M276.2 164.4h0M266.5 159.5h0M266.0 172.5h0M319.6 108.5h0M281.3 181.8h0M290.3 147.9h0M302.9 147.9h0M272.7 149.4h0M262.8 168.5h0M289.9 170.0h0M262.6 183.4h0M308.2 120.9h0M295.3 158.4h0M264.1 163.8h0M311.3 138.6h0M330.1 102.7h0M291.7 153.9h0M270.6 163.6h0M306.5 122.7h0M274.1 173.6h0M282.8 178.2h0M263.5 174.2h0M305.3 148.5h0M283.0 184.6h0M281.0 179.0h0M296.5 148.5h0M315.2 127.1h0M269.0 182.6h0M279.9 156.6h0M320.1 112.2h0M309.1 123.2h0M268.3 165.9h0M298.7 155.2h0M302.1 134.5h0M284.2 164.1h0M292.9 145.2h0M291.7 158.5h0M268.2 184.6h0M263.6 174.8h0M281.2 167.1h0M284.1 179.4h0M320.6 123.6h0M274.3 161.5h0M287.0 158.9h0M280.8 149.4h0M289.6 170.6h0M296.5 155.5h0M295.7 156.0h0M278.4 171.2h0M297.2 161.2h0M287.8 172.8h0M310.5 131.2h0M309.0 139.0h0M328.7 114.8h0M314.7 126.4h0M302.0 128.6h0M322.7 109.3h0M326.7 97.1h0M286.7 120.3h0M281.1 135.7h0M286.2 129.9h0M270.5 138.8h0M288.7 119.9h0M280.6 138.6h0M299.9 111.7h0M313.6 103.5h0M322.4 93.4h0M262.3 128.5h0M266.6 144.6h0M272.3 138.4h0M296.6 115.6h0M327.0 99.8h0M277.6 132.7h0M310.2 108.8h0M288.9 116.5h0M317.9 136.5h0M289.9 185.3h0M329.1 138.3h0M331.4 107.5h0M319.1 157.6h0M308.2 152.3h0M299.3 182.5h0M318.2 156.1h0M338.4 120.4h0M321.4 137.8h0M306.5 150.9h0M305.8 163.0h0M315.2 147.4h0M308.8 179.4h0M324.0 130.8h0M322.9 123.0h0M322.7 126.3h0M337.2 121.5h0M291.5 173.7h0M290.8 173.6h0M297.6 181.3h0M293.1 174.9h0M323.7 152.3h0M324.5 132.6h0M336.1 111.6h0M313.1 148.5h0M329.9 108.5h0M337.2 181.5h0M276.7 121.9h0"/>
<path stroke-opacity="0.45" d="M330.4 109.0h0M272.8 162.5h0M282.3 184.9h0M281.3 172.7h0M289.4 136.3h0M316.1 122.0h0M265.2 160.7h0M267.1 169.1h0M278.2 158.7h0M310.2 138.9h0M313.1 116.1h0M273.0 159.6h0M267.2 185.0h0M284.2 181.3h0M279.5 179.2h0M263.0 157.0h0M285.4 148.4h0M318.9 120.7h0M310.9 132.9h0M329.4 105.9h0M274.1 171.3h0M265.3 184.7h0M313.1 121.9h0M269.4 160.1h0M327.7 107.3h0M272.7 177.1h0M266.8 164.1h0M272.9 183.9h0M292.0 169.6h0M268.4 184.0h0M262.7 155.8h0M307.0 130.4h0M265.8 166.8h0M269.0 172.2h0M276.7 149.1h0M289.5 156.1h0M326.0 110.7h0M273.8 182.1h0M310.0 132.2h0M273.9 160.8h0M308.2 134.0h0M282.2 179.0h0M304.9 126.4h0M267.4 178.6h0M281.8 159.2h0M272.5 166.1h0M317.6 121.4h0M295.7 137.7h0M293.0 161.1h0M267.3 159.8h0M274.2 151.3h0M299.8 128.6h0M295.2 141.4h0M269.6 177.3h0M292.6 154.1h0M277.4 154.1h0M327.3 106.7h0M270.3 157.7h0M291.7 151.1h0M287.0 146.9h0M298.3 149.5h0M262.7 156.9h0M279.4 158.5h0M274.9 180.9h0M319.9 128.4h0M298.8 156.8h0M272.4 173.8h0M298.9 133.9h0M271.3 181.9h0M295.4 142.7h0M267.0 165.1h0M312.7 131.1h0M303.0 148.7h0M277.8 173.5h0M265.1 161.1h0M290.0 137.0h0M300.4 150.9h0M291.2 136.7h0M318.2 122.5h0M283.7 168.7h0M262.7 176.7h0M287.9 178.7h0M286.5 140.4h0M269.3 155.3h0M291.3 136.2h0M303.1 137.5h0M263.6 174.6h0M286.5 178.6h0M272.2 154.6h0M266.9 165.9h0M289.9 144.2h0M321.0 125.7h0M268.0 172.2h0M272.5 155.9h0M283.4 164.5h0M311.0 135.5h0M269.3 180.6h0M279.1 155.8h0M264.1 160.6h0M262.4 165.8h0M328.9 117.6h0M264.0 177.9h0M284.3 145.5h0M332.0 107.0h0M313.0 137.7h0M279.2 149.4h0M278.7 171.1h0M266.1 161.2h0M290.3 165.4h0M296.7 155.8h0M330.0 100.5h0M319.5 117.0h0M291.9 161.0h0M304.0 129.8h0M282.7 160.1h0M261.9 175.7h0M265.4 159.4h0M284.9 176.8h0M294.1 165.5h0M306.6 134.8h0M287.0 165.2h0M275.0 180.8h0M306.9 133.3h0M297.0 151.3h0M297.7 150.7h0M268.3 184.9h0M263.7 177.6h0M275.6 167.6h0M265.9 157.2h0M306.4 130.9h0M327.4 105.6h0M328.3 114.6h0M302.1 141.2h0M279.8 155.4h0M288.8 167.2h0M275.5 182.4h0M310.1 135.2h0M291.8 156.1h0M320.1 121.7h0M311.2 128.1h0M325.2 108.3h0M275.3 170.7h0M285.2 179.3h0M283.2 147.2h0M328.2 104.3h0M325.2 121.5h0M287.4 159.6h0M268.2 183.0h0M315.4 115.8h0M272.0 172.7h0M313.9 128.4h0M270.1 174.9h0M327.3 105.7h0M283.9 174.6h0M322.3 106.8h0M310.3 124.9h0M317.5 130.5h0M307.1 139.6h0M317.5 128.6h0M269.8 182.0h0M263.7 179.9h0M308.4 139.8h0M276.5 183.4h0M292.3 163.6h0M329.6 107.9h0M295.3 158.2h0M291.1 160.5h0M274.0 149.3h0M285.3 169.5h0M331.5 109.1h0M265.0 161.4h0M325.7 111.0h0M321.9 108.9h0M277.4 152.0h0M274.9 176.2h0M285.5 160.7h0M284.4 157.2h0M283.6 171.5h0M263.7 165.8h0M304.2 126.8h0M323.6 106.5h0M275.5 158.0h0M308.1 138.9h0M333.0 107.5h0M286.2 166.7h0M284.8 140.2h0M303.9 138.6h0M302.5 142.6h0M267.4 185.1h0M270.4 161.0h0M275.1 166.3h0M266.5 169.7h0M264.5 173.4h0M297.8 133.2h0M262.4 179.4h0M284.6 158.5h0M269.0 157.5h0M280.4 154.3h0M284.7 158.9h0M314.7 122.7h0M273.1 179.7h0M275.0 169.9h0M262.5 156.1h0M307.4 147.9h0M312.5 127.1h0M284.4 163.7h0M273.1 167.9h0M268.0 152.6h0M302.0 131.5h0M321.1 113.2h0M297.2 136.1h0M263.0 181.5h0M311.0 132.6h0M285.8 140.6h0M262.2 161.7h0M285.0 159.2h0M263.5 177.5h0M266.9 173.5h0M271.2 178.8h0M281.7 158.0h0M317.3 123.3h0M318.8 123.5h0M282.1 184.3h0M291.0 149.1h0M308.7 120.0h0M310.3 126.4h0M331.1 106.6h0M276.6 150.1h0M314.9 125.7h0M319.4 123.9h0M269.2 179.7h0M319.9 107.2h0M290.3 142.9h0M269.1 158.1h0M263.0 163.4h0M264.5 176.8h0M325.1 108.4h0M267.9 174.3h0M272.6 179.3h0M314.3 119.2h0M295.2 135.3h0M286.3 146.4h0M284.8 174.9h0M314.0 134.2h0M261.7 163.0h0M281.2 172.5h0M287.8 161.8h0M298.7 147.8h0M284.9 179.0h0M318.2 120.1h0M307.6 135.7h0M279.9 174.6h0M301.2 157.8h0M279.8 183.3h0M297.2 145.2h0M262.6 167.6h0M286.8 162.7h0M277.4 150.1h0M268.9 174.3h0M329.7 107.7h0M296.4 162.0h0M269.1 155.0h0M279.0 184.9h0M298.9 130.7h0M280.7 185.4h0M281.9 177.1h0M266.2 178.5h0M317.2 112.4h0M319.4 111.6h0M286.8 165.8h0M285.4 157.7h0M281.5 150.0h0M277.2 160.8h0M286.4 181.6h0M263.8 155.5h0M329.6 102.3h0M277.5 151.6h0M262.9 161.6h0M303.8 133.9h0M327.9 102.2h0M280.7 148.2h0M294.5 132.9h0M275.1 173.0h0M305.1 123.8h0M282.7 166.1h0M262.3 181.1h0M262.8 182.7h0M330.1 110.1h0M304.3 140.3h0M275.7 157.2h0M288.7 157.5h0M295.2 146.0h0M313.1 128.1h0M266.3 182.2h0M287.7 166.6h0M290.6 164.7h0M323.1 118.7h0M267.4 172.5h0M291.7 158.2h0M300.7 144.5h0M267.4 166.3h0M288.4 177.7h0M291.8 143.8h0M265.0 155.7h0M286.4 179.0h0M318.5 112.8h0M300.6 142.3h0M289.6 167.0h0M262.2 160.2h0M289.9 150.7h0M289.3 149.1h0M316.1 115.2h0M291.6 144.6h0M262.7 182.9h0M304.9 108.9h0M269.7 139.1h0M320.9 102.5h0M301.5 112.4h0M281.3 121.4h0M302.8 113.7h0M263.1 147.5h0M272.1 123.9h0M307.1 120.6h0M296.3 120.7h0M296.8 122.1h0M278.8 125.3h0M302.6 109.3h0M334.1 90.2h0M320.2 103.0h0M279.0 121.5h0M281.6 132.9h0M301.4 118.4h0M275.8 130.9h0M281.2 130.4h0M290.2 121.2h0M288.6 126.2h0M312.8 102.0h0M308.2 109.1h0M262.8 153.4h0M328.4 118.0h0M316.7 160.9h0M307.8 164.7h0M320.9 130.6h0M307.4 164.6h0M305.0 173.6h0M324.9 136.0h0M295.7 165.7h0M313.0 143.1h0M323.7 142.9h0M321.0 127.6h0M308.7 148.1h0M300.4 177.6h0M321.4 144.6h0M313.2 154.5h0M338.1 110.3h0M306.5 154.1h0M303.2 181.6h0M325.4 138.4h0M289.5 182.8h0M289.8 185.1h0M330.7 129.4h0M293.7 169.1h0M262.8 114.7h0M354.6 94.3h0M283.6 127.6h0M332.5 136.2h0"/>
</g>
<line x1="261.7" y1="185.6" x2="386.4" y2="43.1" stroke="#7d7f82" stroke-width="2.5" stroke-dasharray="8.5 4.29"/>
<rect x="261.7" y="43.1" width="124.7" height="142.5" fill="none" stroke="#000" stroke-width="2.3"/>
<line x1="261.7" y1="185.6" x2="261.7" y2="188.8" stroke="#000" stroke-width="2.3"/>
<line x1="261.7" y1="185.6" x2="258.5" y2="185.6" stroke="#000" stroke-width="2.3"/>
<text x="261.7" y="200.6" text-anchor="middle" font-size="14.3">0</text>
<text x="256.5" y="190.6" text-anchor="end" font-size="14.3">0</text>
<line x1="303.3" y1="185.6" x2="303.3" y2="188.8" stroke="#000" stroke-width="2.3"/>
<line x1="261.7" y1="138.1" x2="258.5" y2="138.1" stroke="#000" stroke-width="2.3"/>
<text x="303.3" y="200.6" text-anchor="middle" font-size="14.3">110</text>
<text x="256.5" y="143.1" text-anchor="end" font-size="14.3">110</text>
<line x1="344.8" y1="185.6" x2="344.8" y2="188.8" stroke="#000" stroke-width="2.3"/>
<line x1="261.7" y1="90.6" x2="258.5" y2="90.6" stroke="#000" stroke-width="2.3"/>
<text x="344.8" y="200.6" text-anchor="middle" font-size="14.3">220</text>
<text x="256.5" y="95.6" text-anchor="end" font-size="14.3">220</text>
<line x1="386.4" y1="185.6" x2="386.4" y2="188.8" stroke="#000" stroke-width="2.3"/>
<line x1="261.7" y1="43.1" x2="258.5" y2="43.1" stroke="#000" stroke-width="2.3"/>
<text x="386.4" y="200.6" text-anchor="middle" font-size="14.3">330</text>
<text x="256.5" y="48.1" text-anchor="end" font-size="14.3">330</text>
<text x="323.9" y="217.4" text-anchor="middle" font-size="12.3">L-L Tl. Pred. (meV)</text>
<text transform="translate(222.0 102.7) rotate(-90)" text-anchor="middle" font-size="12.3">L-L Tl. Label (meV)</text>
<text x="315.5" y="154.0" font-size="12.2">R<tspan font-size="8.2" dy="-3.8">2</tspan><tspan dy="3.8">: 0.909</tspan></text>
<text x="315.5" y="168.8" font-size="12.2">MAE: 2.242</text>
<clipPath id="clipb1"><rect x="60.3" y="265.6" width="124.7" height="142.3"/></clipPath>
<g clip-path="url(#clipb1)" stroke="#FDBF6F" stroke-linecap="round" stroke-width="4.6" fill="none">
<path stroke-opacity="0.45" d="M65.5 368.5h0M62.6 376.9h0M82.0 363.5h0M95.0 353.9h0M85.0 367.5h0M76.6 376.6h0M61.6 394.8h0M89.1 374.7h0M98.8 358.4h0M99.4 365.3h0M73.3 385.4h0M77.1 363.5h0M98.9 358.1h0M68.3 383.4h0M89.4 368.1h0M77.3 378.7h0M87.5 377.4h0M111.1 342.9h0M84.0 394.4h0M76.2 399.8h0M71.8 377.2h0M62.2 375.7h0M60.4 386.1h0M60.5 370.1h0M77.2 401.6h0M84.3 370.1h0M69.3 402.1h0M66.0 394.2h0M82.5 374.5h0M64.8 385.7h0M86.8 371.0h0M99.7 355.3h0M96.3 353.7h0M76.2 364.6h0M67.3 394.9h0M87.4 379.0h0M80.9 393.9h0M104.2 351.5h0M71.6 402.9h0M91.7 354.1h0M73.2 393.2h0M75.1 380.3h0M71.4 377.9h0M106.5 359.5h0M95.4 362.3h0M89.2 392.5h0M77.6 371.7h0M81.4 364.9h0M97.8 375.7h0M61.3 405.7h0M100.2 351.9h0M64.4 386.8h0M81.2 403.7h0M113.1 344.0h0M63.0 367.5h0M76.0 373.4h0M103.8 351.9h0M60.9 368.0h0M82.2 381.0h0M100.4 361.6h0M87.2 376.7h0M72.6 392.4h0M82.3 401.3h0M86.7 365.2h0M104.8 362.1h0M84.3 367.4h0M94.8 364.0h0M83.3 387.7h0M79.2 401.5h0M64.7 374.2h0M86.9 368.0h0M61.0 371.5h0M94.0 379.2h0M87.8 370.5h0M75.4 392.8h0M77.3 372.1h0M69.6 369.4h0M89.6 381.1h0M71.2 400.8h0M84.7 407.0h0M61.9 398.0h0M79.0 399.0h0M92.7 387.7h0M79.1 384.7h0M110.3 357.0h0M72.1 377.3h0M121.8 330.1h0M77.8 365.6h0M100.1 367.3h0M77.4 367.0h0M70.2 377.4h0M101.6 353.7h0M110.1 343.0h0M91.0 370.7h0M83.0 401.4h0M81.0 407.4h0M63.0 380.6h0M66.2 382.5h0M78.3 377.5h0M67.5 369.0h0M64.9 391.8h0M68.3 385.9h0M78.5 406.5h0M87.2 370.6h0M75.7 370.1h0M72.2 388.6h0M73.9 384.0h0M63.4 368.7h0M74.4 377.6h0M72.6 399.4h0M73.6 389.3h0M106.5 347.4h0M74.2 371.3h0M66.7 402.3h0M68.4 407.8h0M100.2 354.5h0M66.7 401.2h0M62.8 385.8h0M104.7 357.6h0M65.5 369.5h0M103.4 357.7h0M74.5 394.4h0M67.7 403.3h0M102.1 365.3h0M83.8 371.2h0M64.8 386.9h0M65.3 386.4h0M86.7 366.9h0M76.5 375.2h0M87.8 384.5h0M61.7 407.0h0M95.3 367.8h0M61.7 406.8h0M64.2 405.3h0M84.5 368.2h0M109.3 356.1h0M71.8 387.6h0M77.5 364.4h0M81.3 385.5h0M80.6 380.6h0M108.3 345.9h0M71.9 398.3h0M71.5 378.2h0M61.5 397.8h0M68.0 393.4h0M69.4 377.4h0M73.9 372.8h0M72.3 368.9h0M103.8 356.4h0M127.9 331.3h0M116.8 345.6h0M90.4 382.0h0M87.8 397.6h0M77.1 405.5h0M80.2 359.4h0M83.2 370.7h0M60.6 385.7h0M114.0 348.8h0M103.1 357.8h0M92.8 367.7h0M79.4 367.8h0M79.4 365.6h0M70.1 367.4h0M66.6 367.5h0M81.7 377.7h0M86.4 394.6h0M91.6 374.6h0M62.6 370.2h0M102.6 347.5h0M66.1 379.8h0M69.7 396.7h0M101.4 355.7h0M90.9 382.4h0M64.7 405.8h0M63.5 401.0h0M84.1 397.1h0M77.8 367.1h0M123.7 337.4h0M85.1 365.8h0M104.4 358.5h0M81.0 378.7h0M108.8 357.8h0M76.6 389.9h0M89.5 394.3h0M86.2 361.3h0M81.4 385.8h0M72.8 366.0h0M90.1 365.1h0M92.8 368.5h0M73.4 366.1h0M94.4 369.7h0M69.5 386.7h0M88.7 387.2h0M93.4 369.5h0M115.8 345.9h0M72.3 395.5h0M83.6 401.1h0M83.3 360.5h0M62.8 399.4h0M77.3 396.9h0M62.5 387.2h0M73.6 377.0h0M78.8 390.3h0M85.1 374.6h0M82.7 378.3h0M68.2 407.5h0M62.5 395.3h0M66.7 402.5h0M97.7 373.5h0M79.8 397.5h0M84.0 400.3h0M62.7 398.9h0M77.1 383.5h0M74.2 396.9h0M89.8 393.7h0M73.9 372.4h0M83.0 394.2h0M73.4 396.3h0M81.2 398.4h0M114.9 345.1h0M116.9 341.0h0M78.5 402.5h0M107.6 353.4h0M89.1 367.2h0M72.7 386.1h0M80.5 379.0h0M120.5 336.6h0M120.8 343.0h0M92.5 379.1h0M121.0 339.7h0M126.6 330.1h0M112.7 348.9h0M87.4 372.7h0M63.0 396.2h0M121.8 342.5h0M87.3 369.5h0M71.1 379.6h0M60.6 395.0h0M78.0 369.1h0M125.6 333.6h0M68.5 366.2h0M87.6 372.8h0M86.7 379.2h0M104.0 361.8h0M74.8 375.5h0M123.0 332.8h0M75.1 387.5h0M64.2 371.2h0M95.3 360.1h0M82.7 374.0h0M93.0 361.3h0M106.4 363.5h0M73.4 374.5h0M89.0 388.8h0M64.8 391.6h0M96.0 351.0h0M74.4 407.2h0M71.3 380.1h0M111.3 347.5h0M129.4 328.3h0M86.5 384.3h0M86.8 404.3h0M82.9 379.8h0M90.9 357.7h0M124.9 328.9h0M62.1 379.5h0M84.2 374.4h0M63.7 371.0h0M88.1 360.7h0M84.0 397.9h0M72.3 368.1h0M96.2 369.9h0M99.3 359.2h0M95.8 367.8h0M86.7 361.9h0M61.8 380.5h0M85.7 362.5h0M91.3 375.4h0M84.6 389.5h0M74.4 374.4h0M85.2 405.7h0M77.1 379.1h0M89.2 389.6h0M98.8 353.0h0M100.4 354.4h0M87.2 380.4h0M82.7 397.6h0M78.8 383.8h0M95.0 368.1h0M81.8 400.5h0M61.9 396.2h0M62.5 380.3h0M112.7 350.4h0M91.9 366.8h0M107.5 361.7h0M64.1 384.3h0M67.1 370.8h0M65.6 397.0h0M82.0 382.8h0M73.3 407.6h0M78.1 394.8h0M92.9 363.3h0M64.0 405.6h0M82.2 394.1h0M97.5 356.5h0M72.1 393.1h0M113.1 349.2h0M64.7 380.8h0M115.8 336.6h0M61.8 375.2h0M82.9 396.2h0M87.9 358.0h0M95.2 376.8h0M113.6 350.9h0M72.5 405.9h0M117.2 337.5h0M63.0 389.7h0M69.9 379.2h0M86.9 380.8h0M61.0 378.7h0M79.1 367.9h0M100.7 371.9h0M61.5 386.1h0M94.8 354.6h0M113.0 352.0h0M108.8 342.3h0M73.9 383.4h0M119.6 344.7h0M89.7 367.5h0M69.4 364.4h0M111.0 356.7h0M67.6 395.4h0M84.0 395.4h0M74.2 371.8h0M105.0 357.3h0M100.1 357.1h0M61.6 382.7h0M67.7 403.8h0M98.2 369.9h0M82.7 398.1h0M62.0 373.0h0M90.9 364.7h0M129.5 320.9h0M66.7 362.2h0M101.7 343.0h0M81.3 355.3h0M91.5 342.6h0M101.5 339.6h0M132.3 329.4h0M93.7 407.2h0M103.2 387.4h0M112.2 397.8h0M136.1 333.7h0M103.8 373.9h0M120.2 370.2h0M112.5 404.2h0M105.1 392.9h0M90.7 402.0h0M106.1 382.3h0M178.0 275.7h0M144.8 315.7h0M130.2 323.1h0M134.0 322.7h0M125.5 327.5h0M122.0 330.0h0"/>
<path stroke-opacity="0.45" d="M102.5 366.6h0M96.0 364.6h0M87.2 394.2h0M80.4 374.5h0M81.8 378.7h0M73.3 406.2h0M100.6 353.8h0M66.7 375.9h0M83.8 388.0h0M65.8 393.6h0M67.2 400.9h0M113.8 345.4h0M96.8 380.9h0M71.2 391.5h0M69.4 369.4h0M66.4 404.4h0M77.5 388.4h0M84.9 389.6h0M93.3 358.7h0M106.1 346.1h0M104.8 363.5h0M63.1 396.4h0M78.8 395.9h0M75.8 395.8h0M84.6 399.4h0M88.0 377.5h0M82.5 384.4h0M85.8 384.7h0M96.6 358.0h0M95.6 361.3h0M78.9 374.2h0M81.4 382.3h0M75.2 389.9h0M89.2 369.4h0M92.2 361.8h0M72.6 366.3h0M77.2 376.4h0M84.4 389.4h0M72.3 374.7h0M61.9 384.7h0M65.1 375.4h0M85.8 397.3h0M84.2 382.7h0M112.5 352.8h0M70.7 407.2h0M99.4 367.7h0M82.8 390.4h0M83.9 400.6h0M82.5 401.2h0M81.2 360.5h0M107.9 351.7h0M108.8 355.6h0M77.6 373.9h0M129.1 332.6h0M95.3 356.1h0M86.5 377.4h0M100.0 349.9h0M71.0 370.6h0M88.4 396.0h0M115.7 341.1h0M91.4 378.4h0M62.8 384.1h0M61.8 382.6h0M116.6 342.1h0M76.9 392.8h0M78.5 372.2h0M76.1 384.1h0M123.7 341.6h0M86.5 390.5h0M72.0 402.8h0M98.0 358.0h0M71.5 394.4h0M96.6 367.8h0M68.6 385.6h0M82.4 382.1h0M117.6 339.6h0M89.6 358.5h0M129.9 328.7h0M121.1 334.5h0M108.6 354.6h0M89.4 378.9h0M123.8 339.0h0M72.2 380.5h0M102.2 352.5h0M78.2 384.0h0M84.3 372.5h0M96.5 353.1h0M90.0 369.2h0M66.5 370.8h0M84.5 390.9h0M68.6 382.3h0M66.4 379.3h0M64.4 379.5h0M92.8 360.8h0M83.8 359.4h0M61.3 385.5h0M104.4 346.0h0M118.9 334.2h0M63.2 375.7h0M92.4 357.8h0M101.9 363.7h0M101.3 352.4h0M63.4 406.2h0M61.2 375.6h0M86.9 394.1h0M61.4 406.3h0M62.2 397.4h0M82.0 390.4h0M112.1 341.6h0M109.0 350.5h0M93.1 373.2h0M86.4 398.8h0M77.0 386.1h0M61.4 393.7h0M117.3 336.7h0M78.2 390.2h0M85.0 373.4h0M110.0 342.3h0M106.6 359.5h0M112.1 340.6h0M94.3 378.9h0M93.4 361.8h0M99.2 358.0h0M122.7 335.6h0M131.6 330.5h0M107.3 345.3h0M125.2 332.6h0M65.2 401.0h0M68.6 366.6h0M60.4 406.6h0M118.0 335.5h0M90.0 359.4h0M63.6 396.6h0M85.4 400.3h0M69.3 405.5h0M76.5 363.7h0M82.8 363.3h0M108.3 354.7h0M61.0 377.9h0M86.1 375.2h0M83.7 387.0h0M62.5 369.0h0M75.0 371.4h0M83.0 381.7h0M69.6 399.2h0M74.1 393.9h0M83.3 392.8h0M77.8 403.9h0M76.2 373.7h0M116.3 337.2h0M83.1 403.1h0M80.6 381.9h0M65.6 396.4h0M61.8 381.9h0M87.1 394.9h0M90.8 359.7h0M99.2 355.5h0M66.4 386.0h0M72.8 405.7h0M76.7 403.5h0M61.1 376.7h0M85.9 377.7h0M65.9 389.0h0M79.2 376.2h0M64.3 373.0h0M126.3 329.7h0M62.0 395.0h0M82.9 381.7h0M71.1 390.7h0M103.3 351.2h0M105.1 353.4h0M61.9 369.9h0M95.9 370.6h0M88.2 370.4h0M122.2 339.8h0M78.3 374.2h0M85.3 369.3h0M74.5 382.0h0M103.9 355.1h0M68.9 397.3h0M128.6 329.4h0M91.9 357.3h0M85.0 391.4h0M88.4 373.6h0M90.6 372.1h0M81.5 390.0h0M64.2 376.5h0M95.3 371.5h0M71.6 393.8h0M85.6 401.2h0M76.6 380.1h0M72.6 388.3h0M81.9 391.2h0M76.7 374.6h0M94.0 364.1h0M105.5 360.6h0M66.7 383.7h0M73.0 375.7h0M106.0 354.6h0M69.9 367.9h0M126.1 329.8h0M71.2 405.6h0M115.4 340.1h0M82.3 383.2h0M92.2 362.0h0M70.9 405.7h0M86.4 358.0h0M112.2 347.7h0M118.2 344.1h0M88.2 369.2h0M96.1 357.6h0M104.4 363.1h0M81.7 394.8h0M63.2 399.6h0M104.2 346.5h0M60.6 392.6h0M74.3 396.4h0M70.6 407.0h0M70.6 381.5h0M72.5 364.1h0M79.8 403.8h0M97.5 362.1h0M115.7 337.1h0M62.8 402.9h0M77.5 359.8h0M102.9 344.7h0M99.8 367.3h0M81.4 387.0h0M125.4 339.5h0M89.6 376.7h0M66.6 398.4h0M81.9 364.9h0M84.0 405.8h0M76.6 401.5h0M129.1 333.7h0M122.0 334.4h0M119.0 342.2h0M85.7 382.5h0M68.7 404.2h0M85.6 373.5h0M127.8 327.7h0M74.2 396.9h0M108.7 346.7h0M130.0 332.8h0M83.0 387.4h0M61.3 377.2h0M125.4 331.8h0M116.8 346.6h0M66.2 403.0h0M113.6 343.4h0M66.4 386.4h0M124.0 340.1h0M74.1 400.5h0M67.6 395.1h0M107.5 345.1h0M79.9 382.7h0M63.6 374.9h0M124.2 335.3h0M78.0 390.4h0M66.2 390.1h0M69.2 395.2h0M75.8 387.7h0M88.7 383.4h0M89.3 375.3h0M64.5 397.0h0M84.3 377.0h0M101.8 351.8h0M60.8 393.8h0M85.0 395.1h0M98.1 366.4h0M83.9 398.7h0M121.1 336.9h0M83.6 392.5h0M84.1 377.9h0M88.5 377.4h0M108.6 348.1h0M63.7 387.7h0M65.6 394.9h0M82.7 389.2h0M68.5 375.5h0M70.5 405.9h0M61.9 407.6h0M68.4 370.9h0M95.6 367.5h0M87.9 386.5h0M84.9 384.2h0M85.3 378.1h0M95.0 356.7h0M78.6 393.0h0M84.3 360.6h0M84.4 369.9h0M63.9 391.3h0M66.2 398.2h0M128.0 333.5h0M81.9 392.0h0M108.2 345.9h0M101.3 366.3h0M68.8 382.9h0M70.6 378.4h0M85.1 367.2h0M110.7 349.3h0M76.2 387.7h0M85.5 369.6h0M72.2 376.5h0M73.4 393.8h0M85.0 358.2h0M101.3 345.7h0M109.5 334.9h0M86.9 350.3h0M121.4 328.1h0M105.8 336.1h0M105.4 403.5h0M107.0 391.0h0M120.3 353.1h0M92.2 392.5h0M109.1 379.2h0M109.6 399.3h0M100.4 392.3h0M145.2 316.5h0M112.9 388.8h0"/>
<path stroke-opacity="0.45" d="M88.1 369.3h0M71.9 395.9h0M74.5 382.1h0M85.9 392.1h0M82.5 388.0h0M66.7 400.1h0M89.7 386.6h0M87.6 364.9h0M82.7 398.3h0M86.5 402.1h0M85.9 390.1h0M94.1 360.5h0M66.1 383.5h0M96.6 361.4h0M115.6 340.7h0M90.8 375.6h0M88.3 376.7h0M75.6 377.9h0M79.5 385.7h0M87.1 380.6h0M85.5 370.1h0M70.5 376.7h0M61.7 407.5h0M67.3 373.4h0M115.0 339.3h0M88.5 399.5h0M119.2 346.0h0M80.3 366.4h0M107.1 359.2h0M69.1 397.6h0M80.6 363.0h0M84.0 363.1h0M101.8 361.9h0M118.5 336.8h0M89.3 363.4h0M87.9 375.9h0M98.2 376.4h0M95.6 371.9h0M63.6 372.2h0M65.3 402.9h0M87.8 374.3h0M80.1 368.7h0M83.5 372.5h0M61.8 371.3h0M67.9 405.4h0M122.6 334.6h0M77.2 392.4h0M85.5 376.3h0M74.0 366.4h0M81.5 398.2h0M76.6 364.6h0M70.3 374.9h0M108.9 345.9h0M82.2 364.2h0M86.4 369.3h0M93.4 381.4h0M90.7 370.6h0M69.5 378.6h0M86.6 405.4h0M65.1 385.1h0M76.1 388.8h0M107.0 343.8h0M113.1 349.2h0M78.9 401.8h0M61.8 375.2h0M61.5 370.4h0M70.1 375.2h0M71.6 374.9h0M66.2 406.8h0M77.7 407.4h0M124.2 338.2h0M106.0 355.1h0M69.5 379.5h0M79.7 394.0h0M83.0 370.8h0M66.2 367.4h0M118.3 342.0h0M80.8 380.8h0M62.6 376.4h0M118.1 345.6h0M70.0 371.7h0M84.3 404.5h0M68.8 371.2h0M71.5 405.4h0M101.5 358.3h0M75.6 407.8h0M99.2 359.6h0M70.0 372.6h0M91.5 364.9h0M62.8 384.6h0M86.7 360.3h0M92.2 388.8h0M84.0 390.6h0M77.1 363.5h0M80.3 395.9h0M81.2 386.3h0M89.6 363.8h0M60.4 374.7h0M66.1 399.6h0M124.6 328.7h0M128.0 326.6h0M93.0 375.5h0M71.3 373.2h0M86.3 395.7h0M62.9 373.4h0M120.0 344.0h0M68.4 407.3h0M84.7 363.5h0M66.4 389.4h0M62.2 389.7h0M70.7 385.6h0M93.4 369.3h0M76.1 407.6h0M62.1 373.2h0M69.0 386.9h0M78.1 383.8h0M92.0 358.6h0M83.7 402.6h0M91.9 380.3h0M81.8 363.7h0M100.6 358.4h0M61.1 407.6h0M82.4 392.4h0M90.9 365.5h0M63.8 407.2h0M63.1 401.5h0M76.8 406.8h0M81.0 379.9h0M64.2 400.8h0M91.2 374.1h0M85.8 371.6h0M109.0 354.3h0M116.2 351.7h0M69.8 400.4h0M92.6 372.1h0M105.3 362.5h0M60.9 373.1h0M82.0 372.5h0M112.9 349.7h0M64.0 390.9h0M73.7 374.6h0M74.2 386.7h0M73.2 385.5h0M99.3 354.1h0M62.7 368.5h0M111.3 355.2h0M107.2 357.0h0M124.4 332.9h0M94.1 377.0h0M84.1 365.8h0M130.0 335.7h0M91.6 360.8h0M123.1 336.0h0M98.6 355.5h0M100.5 369.6h0M62.0 387.8h0M60.9 386.9h0M90.8 389.1h0M73.8 386.1h0M80.8 380.5h0M62.0 404.8h0M93.3 384.4h0M60.3 379.7h0M66.2 373.5h0M78.1 391.5h0M69.0 384.4h0M94.8 362.3h0M63.2 388.6h0M68.4 392.6h0M113.3 350.8h0M70.9 373.7h0M79.0 397.4h0M84.3 400.6h0M86.8 403.2h0M80.5 382.6h0M75.6 384.2h0M74.4 380.1h0M62.2 394.7h0M109.4 342.3h0M75.6 373.6h0M66.3 397.6h0M78.8 382.9h0M85.0 403.6h0M88.1 378.6h0M88.1 378.3h0M113.8 348.7h0M81.2 395.9h0M107.6 354.8h0M77.5 386.8h0M85.8 404.8h0M114.0 346.0h0M76.8 364.3h0M60.7 368.4h0M97.3 369.6h0M70.8 389.0h0M89.1 388.9h0M63.5 389.2h0M110.3 348.8h0M75.1 368.1h0M81.2 382.8h0M68.8 377.0h0M97.0 358.7h0M111.9 347.0h0M87.1 363.9h0M71.5 403.0h0M73.4 365.3h0M95.3 366.5h0M61.6 386.7h0M63.2 382.2h0M80.5 405.3h0M81.3 368.1h0M111.4 344.4h0M102.4 357.8h0M96.2 373.8h0M81.4 372.1h0M73.8 390.9h0M62.0 394.5h0M73.9 396.4h0M75.3 396.1h0M70.8 367.6h0M61.7 395.1h0M71.3 371.7h0M76.6 402.0h0M64.2 386.1h0M78.9 392.4h0M73.7 406.5h0M86.9 359.6h0M84.0 407.0h0M64.7 406.6h0M116.5 342.2h0M96.9 350.8h0M77.1 380.1h0M76.2 391.9h0M128.2 329.8h0M61.9 396.1h0M84.8 405.7h0M89.6 362.7h0M93.8 382.0h0M69.1 390.0h0M77.3 382.5h0M62.8 371.7h0M74.8 404.9h0M127.5 335.7h0M67.2 381.8h0M92.0 372.8h0M100.6 360.1h0M73.3 379.5h0M61.6 373.8h0M65.7 371.9h0M107.0 346.9h0M66.1 400.2h0M63.0 390.3h0M95.0 366.3h0M125.4 340.6h0M72.5 371.5h0M93.4 374.1h0M112.3 344.3h0M67.3 404.3h0M67.8 407.2h0M62.1 367.3h0M95.8 370.2h0M66.9 389.7h0M111.5 348.7h0M87.7 390.4h0M116.8 337.8h0M65.3 407.5h0M64.9 369.7h0M78.9 405.2h0M75.9 383.2h0M76.9 362.9h0M90.4 371.7h0M115.3 350.9h0M61.5 402.3h0M119.6 336.4h0M120.2 338.2h0M60.6 376.9h0M61.0 377.1h0M76.0 380.1h0M79.3 397.0h0M88.7 359.6h0M78.7 406.9h0M88.8 370.1h0M120.3 336.0h0M79.4 370.6h0M78.7 380.4h0M61.5 376.3h0M98.4 364.9h0M86.0 374.8h0M88.6 392.8h0M101.0 352.9h0M79.7 381.2h0M88.9 372.2h0M93.7 368.9h0M103.6 363.0h0M104.5 360.9h0M93.6 370.3h0M78.3 406.3h0M69.4 390.5h0M127.8 333.7h0M63.5 387.3h0M111.4 346.2h0M61.4 393.6h0M96.2 369.7h0M94.6 374.6h0M96.3 369.9h0M61.5 384.3h0M90.2 355.4h0M107.8 338.8h0M116.6 328.6h0M71.4 361.6h0M60.4 362.6h0M89.6 354.1h0M111.7 332.2h0M101.1 392.4h0M128.5 336.8h0M95.7 390.5h0M102.7 375.9h0M126.1 342.5h0M105.3 387.6h0M110.6 399.8h0M90.3 397.6h0M112.4 378.3h0M60.8 347.3h0"/>
<path stroke-opacity="0.45" d="M65.3 374.1h0M96.7 371.3h0M111.8 345.6h0M110.2 349.5h0M128.4 332.0h0M81.8 360.5h0M70.9 395.5h0M77.1 398.1h0M92.8 373.6h0M70.7 367.9h0M120.2 343.0h0M75.9 381.0h0M60.8 383.9h0M125.3 335.3h0M104.2 350.8h0M88.4 370.0h0M74.2 390.0h0M107.2 348.1h0M92.6 364.3h0M111.9 353.7h0M81.5 365.0h0M96.0 355.2h0M83.3 371.2h0M88.3 359.7h0M62.2 374.3h0M79.4 392.3h0M62.7 404.5h0M62.2 396.1h0M78.7 367.2h0M76.2 401.3h0M122.5 338.4h0M126.9 329.7h0M95.4 353.9h0M60.3 401.1h0M120.8 339.2h0M78.9 387.2h0M71.5 366.8h0M69.0 372.1h0M64.5 379.9h0M60.5 388.7h0M61.0 389.4h0M65.5 371.5h0M127.8 332.3h0M129.0 326.2h0M126.5 329.5h0M71.4 401.6h0M115.3 340.4h0M71.0 404.8h0M101.6 351.1h0M103.7 366.6h0M62.0 394.9h0M98.5 369.1h0M92.6 371.1h0M80.5 406.8h0M96.1 359.3h0M64.8 392.2h0M85.6 390.8h0M90.5 378.9h0M122.1 334.6h0M63.3 390.9h0M108.5 355.6h0M103.7 367.0h0M111.7 346.0h0M88.5 393.6h0M62.1 406.5h0M89.7 389.0h0M77.2 374.8h0M77.0 381.0h0M67.8 374.8h0M83.0 361.1h0M79.5 383.7h0M111.4 343.8h0M91.9 384.1h0M73.0 397.0h0M102.5 362.0h0M95.3 360.2h0M92.0 382.8h0M82.0 395.2h0M94.4 359.8h0M90.3 396.0h0M61.1 375.2h0M112.8 352.4h0M101.0 347.6h0M75.3 383.9h0M75.0 401.4h0M76.3 385.3h0M90.2 368.0h0M66.1 390.1h0M83.7 380.7h0M82.4 371.9h0M68.4 375.3h0M100.7 363.3h0M102.1 350.0h0M61.1 391.5h0M68.0 390.3h0M123.6 329.7h0M63.0 403.7h0M61.5 380.5h0M76.5 368.0h0M81.0 395.5h0M92.8 376.3h0M68.7 403.7h0M73.3 380.0h0M61.1 384.9h0M81.0 364.0h0M77.5 385.9h0M78.3 382.5h0M85.2 383.6h0M75.6 401.3h0M114.5 344.8h0M74.9 381.4h0M84.7 400.8h0M68.3 392.2h0M111.9 340.3h0M117.1 343.9h0M98.5 358.5h0M77.1 372.6h0M97.4 365.4h0M96.4 367.0h0M113.9 341.9h0M68.2 381.6h0M111.4 345.4h0M117.1 337.7h0M64.5 400.1h0M60.5 384.0h0M72.4 370.9h0M88.9 359.4h0M66.7 405.0h0M106.8 352.8h0M125.6 332.1h0M120.3 341.6h0M75.6 403.6h0M74.4 395.5h0M95.9 367.1h0M86.0 359.5h0M77.0 407.7h0M62.8 372.4h0M81.0 382.6h0M119.8 345.2h0M123.1 333.6h0M84.9 365.2h0M66.6 395.4h0M75.5 392.6h0M82.7 376.0h0M61.9 379.9h0M88.1 366.8h0M68.6 386.8h0M100.3 366.8h0M104.2 347.1h0M61.0 407.7h0M97.4 353.5h0M73.2 379.1h0M71.9 365.6h0M64.4 368.9h0M65.3 406.9h0M79.6 364.9h0M122.6 332.8h0M63.6 406.6h0M67.9 395.7h0M109.1 356.1h0M62.8 398.8h0M89.1 361.7h0M88.0 384.2h0M70.4 371.6h0M77.9 365.0h0M69.8 377.3h0M64.1 396.2h0M61.6 374.0h0M62.5 387.3h0M89.0 371.2h0M76.7 392.8h0M125.1 332.6h0M108.2 353.3h0M101.3 365.8h0M97.6 351.7h0M88.8 366.2h0M91.1 359.3h0M63.0 373.8h0M81.2 392.7h0M64.4 377.7h0M69.4 371.7h0M95.2 353.4h0M108.0 359.7h0M82.2 396.3h0M66.1 374.5h0M100.8 356.0h0M107.3 352.2h0M105.8 344.5h0M63.6 377.7h0M96.1 374.0h0M103.7 354.0h0M78.5 384.5h0M67.7 386.4h0M121.2 340.8h0M79.5 366.3h0M117.6 348.9h0M88.5 374.7h0M88.4 402.0h0M63.7 372.8h0M82.1 391.3h0M111.5 349.3h0M75.2 379.0h0M90.7 362.5h0M90.2 378.0h0M69.8 363.2h0M113.0 345.4h0M63.0 374.5h0M73.7 369.1h0M124.6 327.2h0M88.0 376.6h0M69.3 405.2h0M79.7 365.6h0M104.0 350.1h0M122.3 338.2h0M73.2 381.5h0M67.0 394.9h0M60.4 393.7h0M77.7 381.5h0M62.0 391.9h0M90.4 383.7h0M61.2 380.7h0M83.5 389.0h0M88.8 375.1h0M110.2 356.3h0M73.7 407.1h0M75.6 373.0h0M88.8 371.7h0M129.4 330.6h0M75.6 399.0h0M99.0 368.2h0M78.4 384.6h0M90.2 377.7h0M104.7 354.3h0M107.9 350.0h0M85.4 365.2h0M96.7 367.2h0M91.8 361.4h0M119.2 344.4h0M95.8 369.8h0M82.6 397.8h0M64.0 375.0h0M89.0 378.2h0M92.8 380.7h0M69.6 398.6h0M62.3 395.2h0M81.3 359.6h0M69.6 397.6h0M112.6 348.4h0M124.1 334.9h0M80.3 407.2h0M88.3 390.7h0M61.2 370.8h0M97.7 362.3h0M86.5 382.8h0M84.4 377.4h0M88.5 368.3h0M90.5 359.0h0M91.2 385.0h0M68.9 406.5h0M100.7 360.3h0M60.5 400.8h0M82.1 376.9h0M61.3 400.8h0M99.6 369.8h0M67.3 379.2h0M62.8 371.2h0M101.0 351.2h0M121.1 329.1h0M122.6 343.8h0M84.9 380.1h0M89.7 381.5h0M85.9 364.5h0M117.6 336.8h0M89.0 378.4h0M75.1 369.4h0M126.4 325.9h0M71.4 407.7h0M94.1 379.2h0M75.0 369.2h0M92.9 374.1h0M74.0 366.8h0M68.2 366.3h0M89.0 394.8h0M78.1 400.5h0M86.6 396.8h0M89.3 391.3h0M117.4 345.4h0M102.2 348.5h0M87.4 406.9h0M80.8 367.8h0M61.9 369.6h0M88.9 391.8h0M80.8 385.2h0M103.1 357.5h0M105.5 357.0h0M82.2 368.3h0M79.3 402.3h0M60.6 406.9h0M116.5 338.8h0M76.8 383.0h0M96.5 376.8h0M69.7 366.6h0M68.9 396.5h0M70.0 378.8h0M72.6 407.5h0M76.2 390.2h0M121.7 339.1h0M117.1 347.5h0M71.6 369.4h0M83.9 372.9h0M92.2 352.3h0M63.7 372.1h0M81.9 369.7h0M67.5 393.0h0M82.2 384.7h0M117.4 346.7h0M88.9 384.6h0M90.8 373.2h0M114.7 340.8h0M84.8 407.3h0M129.2 330.7h0M86.8 365.6h0M85.8 381.8h0M60.4 401.7h0M127.2 327.0h0M71.4 365.0h0M63.6 382.7h0M95.0 384.7h0M123.3 332.2h0M64.5 384.8h0M78.0 400.5h0M78.7 383.8h0M69.5 375.0h0M71.9 407.2h0M64.3 379.9h0M70.2 372.0h0M62.0 404.3h0M84.3 407.3h0M88.2 397.3h0M112.5 342.9h0M78.0 379.0h0M93.6 355.2h0M116.5 337.5h0M82.7 391.5h0M90.4 364.0h0M86.6 365.6h0M113.2 338.4h0M76.7 359.3h0M94.6 344.7h0M95.0 343.9h0M114.0 334.0h0M99.8 339.0h0M66.2 354.3h0M76.5 355.2h0M115.6 333.3h0M109.0 393.1h0M108.4 371.4h0M96.1 396.3h0M93.4 397.8h0M121.7 351.7h0M123.2 359.9h0M133.3 332.1h0M102.5 388.2h0M124.6 348.4h0M90.0 400.2h0M123.9 356.1h0M116.5 375.6h0M115.3 386.1h0M100.4 381.4h0M139.0 320.6h0M117.7 355.5h0"/>
<path stroke-opacity="0.45" d="M68.6 371.5h0M112.9 346.6h0M66.8 395.5h0M129.6 330.6h0M94.7 367.3h0M94.7 364.9h0M71.8 371.6h0M69.5 385.5h0M69.2 384.4h0M73.9 366.3h0M68.6 391.2h0M116.1 339.2h0M63.3 387.9h0M69.0 379.4h0M113.8 348.6h0M121.6 338.2h0M62.0 389.6h0M108.2 351.6h0M77.4 384.9h0M97.0 354.5h0M81.2 403.5h0M64.5 407.6h0M72.2 406.9h0M73.7 367.4h0M68.3 399.9h0M60.9 379.0h0M119.2 338.6h0M132.3 331.5h0M106.0 352.2h0M68.3 369.3h0M78.4 407.6h0M82.8 404.5h0M75.9 398.6h0M68.7 400.4h0M87.2 380.7h0M81.4 397.9h0M104.6 360.6h0M78.6 387.2h0M66.6 403.2h0M88.0 398.2h0M91.5 373.9h0M90.7 376.2h0M98.3 367.6h0M106.2 356.5h0M62.6 401.6h0M67.4 398.2h0M87.1 400.8h0M106.8 343.7h0M71.1 400.7h0M112.7 349.6h0M71.6 364.9h0M68.4 379.4h0M88.2 378.3h0M60.8 398.3h0M76.6 384.4h0M85.0 373.1h0M76.1 384.8h0M124.6 333.0h0M84.7 405.9h0M108.7 357.1h0M65.7 403.1h0M75.2 376.3h0M108.6 350.9h0M94.4 389.7h0M76.2 378.8h0M69.9 402.6h0M78.6 387.2h0M73.6 369.4h0M105.1 360.8h0M130.2 327.7h0M88.9 359.7h0M83.4 366.4h0M85.4 369.5h0M73.5 382.7h0M78.8 382.9h0M83.7 367.9h0M80.3 373.6h0M78.1 402.9h0M87.4 377.9h0M61.3 371.1h0M127.2 332.4h0M64.1 397.4h0M77.9 374.9h0M68.0 399.8h0M82.7 372.2h0M62.4 365.6h0M105.5 345.3h0M101.1 369.2h0M68.3 404.8h0M99.3 358.0h0M119.2 334.0h0M62.8 389.5h0M67.4 384.9h0M83.1 386.5h0M91.0 356.8h0M118.4 332.2h0M96.0 366.0h0M83.2 397.4h0M89.5 383.8h0M78.7 373.1h0M86.1 386.5h0M118.6 345.4h0M77.9 405.7h0M95.6 360.8h0M95.4 358.7h0M70.8 387.2h0M76.9 392.0h0M94.5 359.2h0M114.2 338.1h0M60.9 404.4h0M63.3 407.6h0M85.8 403.4h0M84.8 380.9h0M128.6 328.5h0M75.2 375.8h0M130.9 328.2h0M84.1 401.2h0M79.1 377.4h0M77.5 390.6h0M73.1 407.2h0M100.2 360.3h0M81.3 399.9h0M63.0 374.8h0M108.9 352.3h0M76.7 394.4h0M75.5 384.0h0M100.4 365.5h0M78.8 374.5h0M106.3 353.3h0M79.1 401.3h0M85.8 356.8h0M69.9 395.5h0M109.0 356.6h0M62.0 398.8h0M123.7 337.7h0M122.7 338.8h0M86.7 402.9h0M67.4 373.6h0M123.4 341.3h0M82.1 407.9h0M79.7 369.9h0M88.6 372.6h0M87.6 358.8h0M107.3 358.6h0M65.4 369.2h0M63.1 400.3h0M84.0 366.1h0M74.3 401.0h0M89.6 361.5h0M102.4 351.2h0M62.9 392.8h0M85.4 405.5h0M102.4 354.1h0M67.6 401.0h0M96.6 370.5h0M96.2 362.0h0M64.9 382.1h0M92.8 373.1h0M96.1 365.3h0M79.8 380.3h0M83.3 393.8h0M94.5 380.6h0M71.2 390.9h0M121.6 344.7h0M62.6 369.3h0M97.9 359.2h0M64.6 385.8h0M65.5 375.8h0M68.9 365.6h0M82.6 363.6h0M90.7 379.6h0M67.5 394.5h0M118.4 341.1h0M105.7 355.3h0M79.8 375.5h0M80.0 394.8h0M69.8 395.9h0M70.8 366.1h0M74.2 389.2h0M62.7 400.3h0M61.6 388.8h0M121.0 334.3h0M62.6 387.4h0M62.3 393.8h0M93.7 371.7h0M92.5 371.7h0M91.7 388.0h0M78.8 366.0h0M64.7 406.8h0M123.9 339.1h0M75.0 402.4h0M62.0 370.4h0M110.7 342.2h0M71.7 368.7h0M101.1 354.2h0M100.2 366.9h0M86.3 373.3h0M78.7 367.6h0M61.0 370.0h0M69.3 406.4h0M65.2 386.5h0M102.6 357.1h0M63.6 370.0h0M74.5 395.9h0M87.8 360.6h0M114.9 342.2h0M78.9 383.3h0M89.0 374.2h0M116.0 350.2h0M106.3 355.6h0M71.1 398.1h0M68.6 379.5h0M111.7 351.2h0M85.1 406.2h0M128.2 332.0h0M84.4 380.2h0M64.8 368.2h0M67.8 394.8h0M72.2 394.3h0M67.0 397.5h0M86.2 403.7h0M86.0 384.6h0M63.2 386.9h0M122.6 342.7h0M74.8 384.4h0M68.8 384.4h0M73.6 381.7h0M69.3 374.1h0M119.5 341.1h0M121.5 332.9h0M61.3 378.6h0M72.7 374.4h0M105.6 348.3h0M90.1 380.7h0M97.8 353.8h0M86.7 378.7h0M111.2 350.2h0M82.4 378.6h0M65.9 383.7h0M89.4 370.1h0M63.2 376.8h0M99.2 350.7h0M62.4 383.9h0M66.9 372.1h0M65.2 391.9h0M96.6 350.7h0M111.5 345.7h0M63.8 370.2h0M60.8 402.3h0M69.0 406.2h0M106.5 353.6h0M93.0 372.8h0M94.5 354.8h0M109.3 343.9h0M70.1 367.8h0M63.1 370.0h0M123.8 329.4h0M118.3 344.5h0M111.2 342.9h0M103.3 361.1h0M116.7 337.8h0M97.7 373.2h0M104.4 358.3h0M102.8 359.2h0M86.7 391.8h0M74.7 381.9h0M96.6 354.4h0M120.3 332.6h0M106.1 346.6h0M89.6 377.1h0M62.4 402.6h0M73.9 395.6h0M78.1 407.0h0M85.1 406.1h0M100.9 356.5h0M89.4 375.0h0M114.3 350.0h0M87.3 361.5h0M70.1 368.1h0M67.9 394.5h0M98.1 355.1h0M76.2 404.4h0M92.8 358.2h0M62.8 388.5h0M103.9 347.8h0M81.7 365.7h0M63.3 392.3h0M90.3 365.9h0M127.9 334.2h0M86.2 376.8h0M88.5 369.4h0M107.5 361.5h0M85.2 385.7h0M70.9 393.2h0M81.9 386.7h0M84.7 399.9h0M87.2 403.7h0M76.5 396.1h0M108.5 358.2h0M98.1 353.2h0M105.0 346.9h0M74.3 380.4h0M78.4 371.4h0M128.9 327.0h0M73.8 369.0h0M92.9 389.1h0M114.0 348.1h0M70.4 407.6h0M95.1 365.9h0M74.3 407.2h0M112.7 347.1h0M126.2 326.8h0M73.3 354.3h0M73.6 352.0h0M75.2 364.0h0M68.1 358.3h0M81.1 348.7h0M110.4 339.4h0M99.9 397.0h0M114.9 374.5h0M127.3 345.3h0M108.8 386.1h0M124.6 352.2h0M121.6 368.3h0M110.1 402.6h0M117.8 349.6h0M128.8 342.2h0M115.2 393.3h0M113.4 360.6h0M118.1 379.5h0M98.8 398.6h0M116.0 353.3h0M108.1 380.4h0M134.0 369.2h0M151.4 317.0h0M150.6 321.2h0"/>
<path stroke-opacity="0.45" d="M90.3 390.6h0M129.3 328.6h0M80.3 379.3h0M130.3 330.4h0M67.7 368.6h0M78.1 398.8h0M104.1 351.0h0M100.0 367.9h0M92.1 390.2h0M100.0 357.5h0M73.8 363.5h0M68.4 406.7h0M103.7 350.7h0M108.2 344.5h0M73.2 379.1h0M75.0 386.4h0M77.2 363.9h0M77.7 407.7h0M92.0 383.4h0M117.4 340.0h0M76.0 386.6h0M82.0 403.2h0M78.4 399.5h0M73.9 365.2h0M65.1 407.5h0M62.9 403.3h0M79.8 406.6h0M114.2 338.5h0M111.2 339.7h0M102.0 350.6h0M84.2 399.6h0M103.1 354.4h0M86.3 367.9h0M67.8 394.1h0M61.6 376.9h0M70.7 389.7h0M76.3 386.9h0M61.8 374.0h0M96.1 360.2h0M127.9 326.3h0M84.9 366.8h0M63.7 394.8h0M61.7 395.5h0M64.1 404.5h0M87.4 370.2h0M110.7 347.1h0M80.2 402.2h0M87.0 366.9h0M110.2 346.0h0M73.1 389.0h0M102.4 351.2h0M92.2 365.1h0M76.4 407.8h0M72.7 372.8h0M109.7 345.8h0M81.5 392.9h0M93.9 374.2h0M100.3 353.7h0M71.7 370.7h0M109.0 353.5h0M87.0 361.0h0M63.9 394.5h0M102.0 358.0h0M65.6 387.3h0M66.0 374.4h0M66.2 368.0h0M83.1 389.2h0M62.4 403.2h0M97.2 363.9h0M75.9 365.0h0M75.7 375.6h0M66.5 366.4h0M119.2 343.0h0M62.0 387.2h0M97.4 376.7h0M79.2 361.4h0M71.6 366.2h0M82.1 377.3h0M127.7 328.2h0M63.1 379.3h0M66.4 366.5h0M78.2 404.4h0M98.1 354.0h0M65.3 398.8h0M81.2 381.7h0M72.1 371.6h0M97.3 375.8h0M92.3 360.8h0M120.9 338.7h0M62.3 370.4h0M70.6 398.0h0M94.6 378.7h0M75.5 393.1h0M98.2 368.0h0M80.4 375.4h0M70.7 404.7h0M72.3 395.0h0M62.4 373.4h0M64.9 391.1h0M83.0 390.5h0M92.5 378.4h0M119.9 340.9h0M61.7 407.6h0M108.1 347.5h0M104.4 364.7h0M97.9 354.4h0M73.3 366.9h0M98.5 352.6h0M75.8 400.0h0M63.2 389.6h0M71.0 407.6h0M84.4 377.0h0M88.1 372.9h0M73.3 385.3h0M69.4 388.8h0M73.4 390.7h0M98.8 354.2h0M85.5 362.1h0M67.9 373.1h0M93.2 368.3h0M83.5 395.1h0M81.8 361.9h0M89.3 364.1h0M70.0 398.8h0M120.6 343.1h0M94.1 360.6h0M75.5 398.6h0M74.0 392.5h0M111.1 353.7h0M74.8 403.8h0M79.4 367.5h0M62.0 396.6h0M107.7 354.6h0M120.6 336.8h0M107.7 344.1h0M107.3 359.6h0M93.1 375.0h0M79.0 404.1h0M80.4 361.1h0M66.9 401.4h0M64.8 407.8h0M92.7 354.2h0M62.9 386.0h0M80.9 403.3h0M78.8 402.1h0M84.7 407.1h0M61.0 384.7h0M84.1 384.5h0M61.5 406.6h0M119.1 343.4h0M117.0 338.7h0M85.5 385.2h0M115.7 347.9h0M87.6 369.5h0M85.5 389.3h0M78.5 406.4h0M113.4 354.2h0M124.7 335.7h0M89.2 367.9h0M98.8 366.5h0M76.0 371.9h0M93.6 360.0h0M106.0 343.4h0M104.0 346.8h0M66.8 375.1h0M100.3 353.4h0M89.8 385.3h0M62.5 372.7h0M112.1 344.4h0M65.8 401.7h0M102.0 348.9h0M81.1 376.4h0M84.8 365.2h0M85.0 376.3h0M88.3 393.1h0M74.1 405.9h0M73.7 367.0h0M114.2 347.7h0M74.3 369.7h0M89.4 360.4h0M79.2 361.6h0M89.3 399.6h0M121.1 336.0h0M96.1 362.0h0M92.8 383.4h0M77.8 379.3h0M64.4 395.9h0M116.6 338.0h0M116.6 334.9h0M76.8 370.3h0M87.4 383.8h0M62.6 394.7h0M119.5 343.2h0M88.4 377.3h0M82.8 361.0h0M97.9 356.4h0M69.2 376.6h0M74.1 363.4h0M115.6 349.1h0M99.8 362.0h0M66.6 390.4h0M86.2 400.7h0M105.3 363.8h0M117.4 345.3h0M87.1 364.5h0M65.7 377.2h0M83.7 372.8h0M89.0 398.8h0M104.5 349.7h0M77.4 382.0h0M85.2 360.0h0M70.6 394.0h0M100.8 353.9h0M78.2 363.8h0M62.5 407.6h0M117.3 344.3h0M111.7 353.0h0M103.5 363.5h0M99.3 361.0h0M108.3 344.1h0M62.1 382.6h0M79.1 383.8h0M88.2 372.1h0M70.6 372.3h0M95.8 353.6h0M62.1 395.6h0M83.7 370.7h0M63.6 380.3h0M63.4 392.9h0M107.7 355.8h0M103.5 349.7h0M71.5 374.3h0M107.4 359.7h0M91.9 361.9h0M72.6 384.1h0M120.8 345.7h0M117.6 340.1h0M64.6 373.6h0M63.0 374.6h0M117.0 350.9h0M77.9 377.1h0M123.9 343.0h0M124.3 334.9h0M79.7 388.0h0M81.8 366.3h0M87.6 400.0h0M69.1 388.5h0M62.5 380.5h0M94.0 377.8h0M92.7 362.0h0M65.7 377.7h0M76.9 401.8h0M117.6 339.6h0M100.8 351.5h0M65.0 401.4h0M76.2 382.0h0M112.2 351.3h0M81.6 382.0h0M62.9 388.5h0M92.4 367.3h0M62.6 392.3h0M66.2 393.0h0M80.9 406.2h0M66.3 378.8h0M87.1 397.2h0M94.7 365.1h0M95.3 385.8h0M71.3 378.8h0M88.0 400.6h0M60.7 390.7h0M96.3 359.5h0M68.3 369.6h0M94.9 357.9h0M111.4 352.6h0M75.9 366.8h0M82.4 375.2h0M118.4 335.9h0M61.5 370.4h0M88.4 384.3h0M97.4 365.8h0M73.5 381.6h0M81.1 399.2h0M85.0 400.5h0M77.1 398.4h0M107.0 348.5h0M64.3 399.6h0M82.6 363.3h0M88.0 384.4h0M64.6 378.2h0M69.1 368.4h0M106.8 346.1h0M82.5 396.1h0M64.8 383.6h0M77.6 404.8h0M68.5 405.6h0M73.2 362.0h0M74.3 386.1h0M97.9 358.7h0M60.7 400.7h0M67.4 373.2h0M92.7 358.0h0M81.2 407.4h0M62.2 384.2h0M61.5 394.2h0M85.3 373.3h0M62.6 384.4h0M80.7 372.8h0M103.1 347.3h0M76.6 383.4h0M102.9 354.7h0M98.0 372.2h0M66.6 382.8h0M87.9 376.9h0M117.5 349.3h0M86.4 404.9h0M86.5 365.5h0M75.9 372.3h0M94.5 358.2h0M75.4 372.2h0M109.5 351.1h0M97.6 365.4h0M64.0 384.0h0M77.5 398.0h0M91.7 357.0h0M108.0 349.3h0M61.3 368.2h0M82.1 392.9h0M103.9 359.4h0M124.7 336.6h0M87.2 378.5h0M124.2 337.3h0M116.5 341.4h0M85.6 378.6h0M75.9 369.9h0M84.0 373.7h0M75.9 395.2h0M67.2 402.6h0M104.2 358.6h0M64.7 388.2h0M118.1 340.4h0M67.5 368.6h0M109.4 348.1h0M98.7 361.4h0M87.4 386.6h0M111.5 337.2h0M62.1 362.7h0M86.2 352.3h0M102.0 371.9h0M126.1 369.1h0M97.3 399.7h0M93.4 396.4h0M129.3 354.9h0M105.6 376.4h0M111.6 383.4h0M132.1 344.0h0M107.4 364.7h0M129.8 345.1h0M99.1 343.1h0M62.0 362.4h0M68.6 356.0h0"/>
</g>
<line x1="60.3" y1="407.9" x2="185.0" y2="265.6" stroke="#7d7f82" stroke-width="2.5" stroke-dasharray="8.5 4.29"/>
<rect x="60.3" y="265.6" width="124.7" height="142.3" fill="none" stroke="#000" stroke-width="2.3"/>
<line x1="60.3" y1="407.9" x2="60.3" y2="411.1" stroke="#000" stroke-width="2.3"/>
<line x1="60.3" y1="407.9" x2="57.1" y2="407.9" stroke="#000" stroke-width="2.3"/>
<text x="60.3" y="422.9" text-anchor="middle" font-size="14.3">0</text>
<text x="55.1" y="412.9" text-anchor="end" font-size="14.3">0</text>
<line x1="101.9" y1="407.9" x2="101.9" y2="411.1" stroke="#000" stroke-width="2.3"/>
<line x1="60.3" y1="360.5" x2="57.1" y2="360.5" stroke="#000" stroke-width="2.3"/>
<text x="101.9" y="422.9" text-anchor="middle" font-size="14.3">150</text>
<text x="55.1" y="365.5" text-anchor="end" font-size="14.3">150</text>
<line x1="143.4" y1="407.9" x2="143.4" y2="411.1" stroke="#000" stroke-width="2.3"/>
<line x1="60.3" y1="313.0" x2="57.1" y2="313.0" stroke="#000" stroke-width="2.3"/>
<text x="143.4" y="422.9" text-anchor="middle" font-size="14.3">300</text>
<text x="55.1" y="318.0" text-anchor="end" font-size="14.3">300</text>
<line x1="185.0" y1="407.9" x2="185.0" y2="411.1" stroke="#000" stroke-width="2.3"/>
<line x1="60.3" y1="265.6" x2="57.1" y2="265.6" stroke="#000" stroke-width="2.3"/>
<text x="185.0" y="422.9" text-anchor="middle" font-size="14.3">450</text>
<text x="55.1" y="270.6" text-anchor="end" font-size="14.3">450</text>
<text x="123.6" y="441.3" text-anchor="middle" font-size="12.3">H-H Tl. Pred. (meV)</text>
<text transform="translate(19.0 335.9) rotate(-90)" text-anchor="middle" font-size="12.3">H-H Tl. Label (meV)</text>
<text x="113.8" y="380.2" font-size="12.2">R<tspan font-size="8.2" dy="-3.8">2</tspan><tspan dy="3.8">: 0.844</tspan></text>
<text x="113.8" y="394.9" font-size="12.2">MAE: 7.350</text>
<clipPath id="clipb2"><rect x="262.0" y="266.1" width="124.8" height="142.3"/></clipPath>
<g clip-path="url(#clipb2)" stroke="#FDBF6F" stroke-linecap="round" stroke-width="4.6" fill="none">
<path stroke-opacity="0.45" d="M311.9 354.8h0M286.2 389.4h0M301.1 377.0h0M281.8 402.6h0M305.1 374.3h0M298.0 381.4h0M316.1 354.3h0M304.8 370.9h0M274.0 374.0h0M266.3 387.3h0M299.9 374.0h0M263.8 382.8h0M284.4 367.5h0M269.8 371.4h0M278.5 395.2h0M277.6 396.4h0M282.2 388.6h0M294.4 391.2h0M286.6 365.2h0M302.2 353.8h0M263.3 371.0h0M295.1 374.5h0M301.0 380.1h0M262.0 377.7h0M271.2 369.6h0M272.1 378.9h0M298.3 366.5h0M274.4 393.6h0M272.4 399.1h0M262.6 404.3h0M284.6 389.9h0M297.3 383.8h0M322.5 348.8h0M282.7 370.0h0M323.4 347.1h0M289.2 397.8h0M319.7 352.9h0M279.1 382.7h0M270.3 378.5h0M311.2 368.4h0M262.9 408.1h0M309.6 368.6h0M285.5 388.1h0M289.6 360.2h0M272.0 393.9h0M304.9 376.0h0M319.2 354.7h0M288.2 384.9h0M273.1 396.3h0M265.3 391.7h0M262.9 406.6h0M286.2 384.6h0M293.3 382.8h0M270.1 370.4h0M291.5 392.3h0M317.1 356.6h0M280.9 391.4h0M309.1 362.2h0M296.4 383.6h0M272.6 395.4h0M268.1 387.3h0M313.2 357.1h0M294.3 391.9h0M262.1 392.2h0M275.8 408.3h0M264.0 406.7h0M302.3 372.7h0M295.9 359.4h0M292.6 362.3h0M287.2 392.7h0M263.2 371.0h0M268.8 384.9h0M293.3 381.6h0M280.4 387.4h0M292.9 399.3h0M303.9 364.1h0M303.4 369.7h0M278.7 395.3h0M275.1 386.7h0M294.0 378.2h0M273.9 382.9h0M278.2 370.5h0M310.7 363.2h0M262.2 394.4h0M325.3 344.9h0M265.4 385.1h0M268.9 399.3h0M283.8 374.9h0M277.9 365.0h0M298.2 362.1h0M290.7 407.3h0M308.9 360.7h0M263.1 377.7h0M267.2 381.5h0M290.8 366.8h0M289.4 389.6h0M294.6 398.2h0M290.8 399.1h0M296.4 355.4h0M272.4 404.5h0M264.6 399.9h0M291.5 363.0h0M270.7 386.1h0M270.2 390.4h0M309.9 368.7h0M277.7 388.4h0M327.8 334.0h0M284.1 395.7h0M316.8 347.6h0M280.6 377.8h0M273.6 375.1h0M265.2 399.3h0M302.1 360.8h0M281.3 370.2h0M266.3 403.1h0M270.2 392.7h0M276.8 391.1h0M262.1 380.8h0M264.2 398.8h0M265.6 396.1h0M295.8 358.6h0M274.7 403.2h0M303.6 357.5h0M286.0 376.0h0M307.0 371.5h0M284.3 400.1h0M296.0 381.1h0M305.8 355.3h0M304.7 371.5h0M282.3 389.1h0M277.4 404.3h0M316.5 356.3h0M273.6 396.3h0M291.6 393.8h0M263.1 381.8h0M294.4 365.9h0M288.5 383.4h0M299.1 374.3h0M278.7 397.4h0M325.3 340.1h0M281.1 387.0h0M315.1 355.3h0M268.7 382.8h0M276.5 381.5h0M299.9 357.0h0M319.3 347.8h0M301.8 383.7h0M269.8 377.1h0M284.2 387.7h0M285.8 384.7h0M310.0 344.3h0M305.6 358.5h0M270.8 391.0h0M276.4 403.2h0M265.8 380.8h0M318.1 352.7h0M282.2 366.8h0M282.4 376.3h0M312.8 367.9h0M303.7 376.7h0M288.9 384.7h0M303.0 352.1h0M311.4 356.0h0M279.3 404.9h0M282.0 373.0h0M289.5 385.1h0M293.7 377.5h0M299.8 390.1h0M283.6 372.3h0M262.9 371.8h0M266.4 392.1h0M293.2 368.6h0M279.7 399.2h0M265.9 406.1h0M281.1 403.8h0M292.9 402.6h0M281.0 393.8h0M302.3 362.2h0M298.4 384.8h0M281.0 391.9h0M301.3 384.0h0M284.3 390.6h0M302.8 370.3h0M266.5 391.6h0M264.2 389.7h0M294.3 376.6h0M274.3 379.7h0M262.5 400.5h0M308.7 368.3h0M271.5 378.6h0M273.5 407.4h0M265.0 380.0h0M287.2 394.1h0M286.9 377.0h0M272.3 382.6h0M321.5 343.6h0M297.0 375.3h0M268.9 398.3h0M318.6 349.0h0M281.1 379.7h0M263.8 381.8h0M302.3 367.5h0M279.7 401.7h0M317.9 348.9h0M272.0 375.8h0M269.7 375.9h0M324.5 347.1h0M280.7 395.9h0M289.9 386.9h0M308.7 367.2h0M290.1 397.5h0M324.6 336.0h0M290.3 395.1h0M278.7 402.1h0M315.1 345.7h0M298.2 370.8h0M303.9 353.6h0M289.3 392.7h0M300.0 377.1h0M306.6 359.5h0M300.5 359.7h0M267.2 403.3h0M276.5 384.0h0M262.3 376.0h0M264.1 403.3h0M285.3 380.2h0M294.9 358.3h0M313.6 364.5h0M299.9 359.3h0M267.1 372.0h0M279.7 386.0h0M263.9 401.3h0M304.1 374.9h0M312.1 363.3h0M324.2 337.2h0M272.3 396.0h0M275.0 407.8h0M268.4 396.5h0M270.4 401.5h0M280.6 400.4h0M294.1 361.0h0M303.6 365.8h0M310.7 344.0h0M311.8 356.2h0M311.1 365.2h0M313.0 345.8h0M308.7 359.7h0M269.5 380.5h0M290.4 366.1h0M289.8 392.7h0M288.1 389.4h0M307.2 353.8h0M313.0 350.9h0M281.5 399.2h0M271.1 375.1h0M312.0 350.1h0M307.8 347.4h0M289.2 388.3h0M302.4 366.0h0M310.0 364.2h0M323.6 336.6h0M309.9 362.9h0M264.6 377.5h0M270.5 376.5h0M308.4 359.5h0M295.0 400.7h0M290.5 369.2h0M281.5 367.1h0M278.2 384.1h0M266.1 387.6h0M264.7 393.9h0M262.9 397.0h0M296.8 377.4h0M283.7 380.6h0M274.0 379.5h0M292.9 384.5h0M305.8 379.7h0M289.4 385.7h0M262.9 407.8h0M286.9 386.6h0M286.6 367.3h0M292.8 382.0h0M310.9 345.6h0M310.7 368.3h0M268.5 390.9h0M277.0 382.3h0M289.9 397.3h0M263.8 372.2h0M277.6 383.0h0M288.3 384.6h0M314.7 353.3h0M301.0 367.0h0M265.8 389.3h0M315.4 343.2h0M277.0 375.6h0M271.6 391.6h0M271.8 389.0h0M270.7 378.0h0M290.8 400.6h0M266.4 385.3h0M304.5 368.7h0M291.6 384.4h0M268.2 378.0h0M289.1 391.6h0M283.1 374.1h0M288.8 395.4h0M293.9 368.2h0M289.2 408.1h0M265.3 388.6h0M291.2 399.3h0M300.3 385.2h0M263.1 379.4h0M270.7 387.9h0M284.3 398.2h0M281.6 375.1h0M324.0 347.5h0M296.3 374.1h0M310.1 366.2h0M316.7 349.9h0M288.3 404.5h0M293.8 369.9h0M281.7 392.2h0M265.7 404.3h0M293.1 391.0h0M314.9 337.2h0M316.0 336.0h0M262.1 363.9h0M262.9 366.9h0M306.8 335.8h0M320.8 328.8h0M300.9 345.8h0M298.4 339.5h0M276.6 361.4h0M266.5 371.0h0M308.7 401.8h0M334.5 335.8h0M325.0 380.7h0M335.8 348.8h0M325.8 371.1h0M336.3 351.3h0M317.1 377.8h0M304.6 385.9h0M304.9 389.5h0M295.2 395.1h0M319.5 384.1h0M291.9 406.8h0M316.1 401.2h0M313.1 372.3h0M319.1 393.7h0M321.5 391.2h0M318.9 280.4h0M377.8 277.2h0M345.5 308.1h0M346.5 311.7h0M355.0 304.7h0M358.8 306.0h0M364.5 326.5h0M300.0 323.1h0M331.3 318.9h0M333.7 321.2h0M340.8 320.5h0M312.3 333.2h0M321.8 328.4h0M267.7 339.4h0"/>
<path stroke-opacity="0.45" d="M316.0 357.3h0M287.0 391.1h0M272.3 381.9h0M329.1 332.0h0M297.0 359.5h0M277.1 375.3h0M277.3 383.1h0M296.2 386.4h0M264.4 397.2h0M283.7 391.7h0M314.6 346.4h0M297.5 358.8h0M283.0 391.0h0M306.3 359.2h0M310.9 357.3h0M308.5 363.3h0M314.4 365.2h0M294.7 398.7h0M298.1 379.6h0M288.4 406.2h0M312.6 350.0h0M291.3 393.0h0M321.5 343.9h0M291.3 390.4h0M309.2 356.4h0M278.8 404.0h0M264.4 387.7h0M313.0 346.8h0M271.9 382.5h0M321.1 340.5h0M265.9 390.5h0M268.8 403.4h0M286.1 398.3h0M262.5 399.7h0M278.9 403.3h0M291.9 397.5h0M275.6 405.6h0M305.7 355.8h0M298.0 378.0h0M291.9 393.5h0M272.0 397.7h0M267.4 374.6h0M298.5 357.9h0M295.9 388.0h0M314.2 363.8h0M286.7 378.9h0M266.7 376.4h0M297.6 365.2h0M285.7 403.7h0M292.4 369.1h0M262.6 389.5h0M303.8 374.2h0M276.8 369.7h0M269.2 385.7h0M322.1 352.8h0M265.5 392.2h0M263.5 405.3h0M320.7 344.7h0M313.1 351.3h0M327.2 333.9h0M294.1 392.5h0M275.1 384.8h0M277.9 402.0h0M276.4 381.9h0M281.6 383.2h0M273.7 401.3h0M304.2 374.4h0M327.4 335.7h0M320.9 349.0h0M285.8 368.2h0M267.1 398.0h0M287.5 383.3h0M321.9 342.0h0M307.8 353.2h0M274.4 402.3h0M278.5 408.3h0M290.0 364.6h0M288.2 388.2h0M300.7 377.3h0M296.5 386.6h0M269.4 402.3h0M311.9 372.8h0M281.5 388.8h0M301.7 362.2h0M325.3 335.8h0M315.0 360.3h0M301.2 356.6h0M309.5 372.0h0M284.9 364.7h0M287.6 406.8h0M270.7 377.3h0M287.9 366.2h0M320.0 343.0h0M293.2 372.7h0M265.7 389.9h0M320.3 344.2h0M304.9 373.5h0M272.5 403.0h0M302.3 376.1h0M267.0 397.1h0M323.4 336.7h0M283.0 385.4h0M281.1 392.8h0M294.4 390.2h0M280.4 393.1h0M285.5 395.4h0M298.4 374.1h0M283.1 376.2h0M271.8 383.4h0M283.3 387.0h0M286.8 399.5h0M263.3 380.8h0M320.9 340.9h0M297.2 363.3h0M277.1 395.5h0M300.0 356.8h0M298.6 385.8h0M263.8 373.5h0M271.6 376.1h0M329.0 339.1h0M282.1 406.1h0M300.8 379.9h0M303.7 363.4h0M278.5 375.8h0M305.2 378.2h0M325.1 347.8h0M308.5 370.7h0M281.5 393.3h0M283.1 404.8h0M266.8 385.3h0M285.9 403.3h0M280.4 372.8h0M285.7 381.9h0M267.1 394.2h0M284.3 377.2h0M285.6 365.2h0M314.5 354.7h0M275.5 399.4h0M292.0 400.3h0M282.3 387.7h0M294.6 391.0h0M302.8 356.0h0M312.7 358.2h0M289.0 370.9h0M263.2 383.7h0M272.5 384.4h0M330.2 339.2h0M299.6 383.2h0M315.6 355.7h0M281.5 367.8h0M284.4 388.1h0M294.8 363.0h0M283.4 383.8h0M286.9 401.7h0M307.2 374.0h0M299.8 361.3h0M317.0 351.3h0M292.3 368.2h0M262.2 375.9h0M314.7 358.1h0M287.1 383.5h0M301.5 354.1h0M311.8 350.7h0M274.6 387.9h0M281.5 366.0h0M286.4 397.3h0M291.4 389.4h0M299.8 374.1h0M274.6 389.8h0M319.7 357.0h0M324.6 338.8h0M282.2 406.7h0M285.4 389.0h0M290.8 366.8h0M273.1 373.8h0M281.2 367.6h0M299.1 359.1h0M301.7 369.9h0M307.4 346.5h0M285.0 396.8h0M272.1 393.9h0M297.3 354.3h0M282.6 387.9h0M281.0 388.0h0M319.4 342.7h0M265.0 393.9h0M268.0 373.9h0M273.0 393.7h0M273.4 391.5h0M274.1 385.3h0M262.8 392.5h0M289.5 379.5h0M326.2 337.3h0M299.2 383.7h0M303.7 349.8h0M273.4 393.2h0M282.0 401.9h0M275.7 391.0h0M264.1 394.6h0M279.6 371.3h0M313.4 358.2h0M309.9 366.5h0M302.0 361.6h0M269.5 400.4h0M280.6 381.3h0M264.1 396.9h0M277.0 392.8h0M276.7 383.2h0M282.1 388.2h0M280.7 381.0h0M322.8 344.2h0M289.8 376.5h0M263.3 400.6h0M301.4 380.2h0M265.9 390.7h0M292.0 370.0h0M310.3 347.7h0M274.7 381.5h0M271.3 395.2h0M289.6 368.5h0M284.4 405.2h0M290.7 382.1h0M282.0 398.3h0M317.1 353.0h0M313.2 346.4h0M266.1 391.1h0M262.2 391.2h0M319.2 344.8h0M290.4 363.1h0M272.4 385.7h0M295.6 390.8h0M271.2 395.3h0M305.8 356.6h0M286.3 361.4h0M270.2 382.0h0M286.4 399.6h0M286.6 374.2h0M286.3 386.3h0M274.4 401.8h0M310.4 353.3h0M263.8 404.7h0M286.3 378.2h0M277.7 385.9h0M284.2 365.9h0M290.8 360.9h0M305.6 364.3h0M276.8 403.1h0M317.6 355.6h0M291.0 399.5h0M289.9 408.2h0M286.8 393.6h0M282.2 403.6h0M305.1 365.2h0M285.7 404.6h0M308.4 353.0h0M300.3 379.2h0M286.8 361.9h0M295.2 389.1h0M274.5 373.5h0M264.9 385.9h0M277.8 373.9h0M291.2 391.7h0M270.2 396.8h0M282.6 378.7h0M308.9 348.5h0M271.2 403.8h0M282.3 385.1h0M275.5 393.5h0M301.8 372.7h0M286.9 363.7h0M288.4 393.8h0M320.5 348.8h0M306.8 366.1h0M315.2 344.6h0M265.5 374.0h0M306.9 350.7h0M288.4 397.4h0M302.7 363.5h0M283.5 388.0h0M291.6 366.2h0M312.0 364.1h0M278.5 371.6h0M267.4 371.3h0M282.7 407.1h0M265.3 407.2h0M288.2 395.2h0M271.2 392.5h0M279.4 370.6h0M276.4 404.5h0M285.9 368.9h0M319.1 350.8h0M283.9 384.4h0M305.4 358.0h0M275.3 382.0h0M274.5 400.5h0M285.0 393.1h0M301.4 381.9h0M266.1 381.4h0M270.5 407.5h0M286.5 390.1h0M307.8 358.6h0M290.5 395.1h0M269.0 395.7h0M281.6 368.2h0M294.7 376.1h0M317.2 361.0h0M264.1 395.6h0M295.6 374.4h0M262.5 400.1h0M263.4 397.2h0M306.8 361.0h0M286.9 399.4h0M308.7 367.2h0M282.2 399.0h0M280.3 375.7h0M271.8 387.9h0M272.1 402.5h0M271.8 385.7h0M312.0 343.7h0M326.7 336.4h0M280.2 391.4h0M288.4 374.0h0M269.0 390.1h0M275.2 383.9h0M273.7 403.4h0M272.5 367.3h0M308.6 342.8h0M273.5 367.4h0M294.7 351.1h0M333.6 316.6h0M315.9 340.1h0M304.0 338.3h0M279.5 360.8h0M277.5 358.2h0M281.6 356.9h0M322.9 329.7h0M303.0 381.1h0M314.0 406.4h0M296.3 397.9h0M328.7 363.7h0M303.8 380.7h0M333.3 352.6h0M312.4 376.8h0M321.7 367.4h0M318.5 360.8h0M327.4 379.0h0M334.2 364.2h0M326.7 363.2h0M328.9 356.4h0M312.9 383.1h0M316.2 371.0h0M321.5 362.0h0M333.4 357.3h0M305.4 402.1h0M323.9 351.6h0M291.3 379.4h0"/>
<path stroke-opacity="0.45" d="M298.3 364.2h0M295.3 365.4h0M313.6 349.0h0M275.0 370.7h0M262.7 394.6h0M287.5 383.0h0M265.2 371.9h0M284.1 401.7h0M307.7 371.3h0M311.7 356.3h0M300.5 368.8h0M266.1 394.6h0M327.4 334.4h0M328.4 335.5h0M302.9 373.1h0M308.8 347.5h0M326.0 336.3h0M268.7 392.2h0M317.9 350.2h0M319.8 343.1h0M314.8 352.4h0M317.9 349.5h0M272.0 402.4h0M293.5 402.4h0M279.2 399.3h0M325.7 344.2h0M319.3 347.7h0M330.0 338.7h0M292.6 384.5h0M315.3 351.6h0M297.2 388.5h0M272.9 373.3h0M272.2 370.6h0M268.9 396.0h0M295.9 356.4h0M305.4 373.4h0M277.8 383.5h0M266.8 375.7h0M318.1 351.8h0M300.4 373.0h0M293.9 393.5h0M288.2 406.5h0M303.0 363.5h0M308.9 354.3h0M302.3 363.9h0M286.4 377.9h0M316.5 353.6h0M301.1 379.3h0M282.4 385.9h0M266.6 407.2h0M267.3 372.6h0M315.5 345.5h0M280.2 388.7h0M290.0 379.4h0M267.5 391.6h0M283.9 378.8h0M266.2 397.1h0M292.2 383.0h0M268.9 384.8h0M303.4 355.0h0M312.0 343.5h0M310.0 351.1h0M272.0 379.2h0M274.1 375.6h0M288.9 391.9h0M319.9 342.5h0M278.8 374.4h0M301.3 355.0h0M272.8 398.5h0M311.7 367.6h0M267.0 380.5h0M309.5 366.8h0M278.3 405.6h0M270.9 377.0h0M329.1 331.2h0M263.9 392.6h0M264.8 374.8h0M292.9 393.2h0M284.9 403.2h0M273.5 373.1h0M301.1 352.0h0M265.5 404.3h0M321.4 342.2h0M291.9 392.4h0M277.1 371.8h0M306.6 361.9h0M263.3 386.7h0M303.2 367.1h0M291.1 402.5h0M325.5 338.0h0M294.6 379.4h0M302.9 364.8h0M270.5 407.6h0M314.4 356.5h0M262.4 372.9h0M285.7 382.8h0M297.4 367.7h0M280.0 382.8h0M279.9 405.9h0M264.6 391.5h0M280.6 400.2h0M280.4 394.5h0M299.9 368.6h0M291.1 387.8h0M275.2 378.5h0M290.6 380.5h0M275.4 371.7h0M284.8 365.1h0M269.9 401.9h0M299.1 354.2h0M285.5 373.2h0M327.5 334.3h0M302.2 374.0h0M274.3 375.0h0M295.6 379.0h0M290.0 361.6h0M264.2 389.0h0M278.7 380.1h0M264.1 391.4h0M328.1 335.8h0M269.9 380.8h0M284.1 375.0h0M281.7 365.8h0M323.0 344.8h0M312.2 349.4h0M295.6 373.7h0M296.5 389.1h0M266.4 407.9h0M281.6 375.6h0M276.8 405.5h0M301.6 364.3h0M287.3 363.1h0M312.2 348.3h0M310.3 361.3h0M287.3 374.9h0M287.8 380.3h0M269.2 373.1h0M286.0 383.5h0M305.9 356.0h0M278.8 373.7h0M291.9 374.9h0M307.5 360.1h0M278.7 366.2h0M307.6 356.6h0M310.1 360.0h0M294.0 361.3h0M288.4 371.0h0M286.6 382.3h0M279.5 391.0h0M290.6 398.4h0M271.0 369.7h0M312.9 360.3h0M298.4 369.0h0M301.6 364.9h0M284.8 365.9h0M282.5 384.5h0M276.8 396.1h0M323.1 339.9h0M293.4 394.9h0M290.4 402.1h0M314.7 359.8h0M285.3 395.3h0M300.0 382.1h0M269.2 391.5h0M269.8 407.1h0M292.1 401.2h0M293.9 363.6h0M262.8 392.0h0M285.4 390.5h0M293.7 380.0h0M287.7 380.4h0M308.2 376.5h0M262.6 376.4h0M277.3 389.5h0M263.6 395.5h0M300.6 388.7h0M266.5 399.6h0M286.3 397.5h0M295.4 371.5h0M299.5 367.0h0M265.5 395.0h0M287.8 385.6h0M291.1 403.5h0M267.1 381.2h0M317.5 353.1h0M313.0 352.4h0M323.6 343.8h0M279.4 374.2h0M275.9 371.4h0M281.8 368.2h0M308.4 362.1h0M291.9 374.2h0M269.1 371.8h0M313.4 347.5h0M305.4 356.6h0M291.2 395.5h0M264.4 384.9h0M303.8 373.6h0M292.3 374.9h0M276.8 392.9h0M324.2 336.3h0M275.6 396.0h0M310.5 358.3h0M288.7 375.1h0M317.9 353.6h0M270.8 396.6h0M280.2 384.5h0M268.7 396.4h0M307.5 361.5h0M291.5 363.1h0M298.5 380.2h0M275.8 406.0h0M309.4 343.7h0M324.1 341.4h0M294.0 374.2h0M285.9 386.2h0M289.6 404.3h0M303.7 373.3h0M294.4 363.1h0M281.2 376.3h0M274.4 375.6h0M294.5 366.0h0M290.3 378.2h0M292.4 385.1h0M264.9 408.0h0M285.0 365.5h0M277.6 368.3h0M272.1 388.9h0M288.3 377.8h0M277.5 380.4h0M263.0 400.6h0M303.8 363.2h0M264.4 387.2h0M296.4 358.8h0M322.5 342.7h0M291.7 388.9h0M314.9 351.3h0M310.4 344.4h0M322.6 343.1h0M270.1 384.5h0M286.6 398.0h0M310.2 348.4h0M273.1 393.5h0M309.3 367.9h0M266.9 403.3h0M290.0 395.8h0M274.3 383.9h0M311.9 363.1h0M301.7 361.8h0M271.5 371.2h0M305.0 373.4h0M326.4 339.1h0M275.0 382.6h0M267.1 400.5h0M267.4 404.4h0M282.3 388.8h0M267.2 391.6h0M292.2 383.8h0M328.6 334.1h0M282.6 370.1h0M288.3 386.0h0M274.7 379.6h0M281.7 366.0h0M268.6 378.7h0M269.2 406.7h0M291.6 371.6h0M293.1 380.8h0M296.9 373.3h0M294.5 362.4h0M290.2 403.9h0M263.8 395.5h0M293.9 370.6h0M304.2 366.3h0M268.2 400.9h0M298.3 383.2h0M316.1 357.0h0M296.8 377.1h0M289.3 360.7h0M279.3 391.1h0M291.3 399.0h0M292.8 390.9h0M294.7 368.0h0M283.8 388.8h0M329.3 332.1h0M285.7 393.4h0M285.2 368.3h0M264.7 381.0h0M320.6 352.7h0M301.2 353.6h0M308.1 362.2h0M282.2 380.3h0M294.6 381.3h0M288.7 362.9h0M282.9 405.1h0M264.7 378.9h0M270.0 382.9h0M292.1 375.7h0M311.5 370.0h0M330.1 334.8h0M287.9 369.0h0M285.9 394.4h0M317.5 359.1h0M286.5 383.4h0M282.9 367.4h0M293.6 393.8h0M270.1 388.9h0M263.7 378.9h0M289.0 361.1h0M268.0 373.5h0M300.5 360.8h0M272.6 370.2h0M324.2 337.9h0M282.0 401.3h0M266.7 401.1h0M269.4 395.6h0M285.8 373.0h0M265.2 403.1h0M282.6 396.0h0M297.1 372.6h0M286.7 387.3h0M267.9 400.6h0M273.3 401.6h0M268.2 381.6h0M288.1 406.7h0M281.2 407.9h0M294.5 381.3h0M281.3 400.6h0M288.2 394.7h0M264.5 404.9h0M270.6 389.8h0M322.6 335.7h0M312.4 364.8h0M275.8 381.3h0M268.6 392.1h0M291.0 402.6h0M287.8 395.3h0M294.4 390.6h0M331.1 336.1h0M263.3 384.2h0M313.6 363.5h0M320.4 352.0h0M267.3 371.3h0M299.9 354.4h0M302.8 371.1h0M298.9 359.0h0M318.6 352.7h0M284.8 402.1h0M284.5 402.2h0M300.7 366.6h0M284.1 394.8h0M269.7 393.7h0M321.5 350.0h0M262.2 380.2h0M290.1 378.8h0M327.0 333.6h0M284.8 380.0h0M276.6 378.4h0M273.0 399.8h0M312.0 354.8h0M289.5 373.3h0M295.0 359.8h0M280.7 367.4h0M319.2 350.4h0M266.0 402.4h0M279.1 384.8h0M311.1 354.9h0M294.9 387.4h0M262.6 391.4h0M309.0 344.3h0M266.6 372.8h0M293.1 359.9h0M307.5 351.6h0M301.9 383.5h0M274.4 365.4h0M329.6 325.3h0M268.2 358.2h0M276.4 360.7h0M279.7 365.2h0M291.7 354.8h0M290.3 358.4h0M322.2 334.5h0M277.1 356.6h0M289.4 352.4h0M263.4 365.0h0M293.6 344.0h0M300.9 348.9h0M273.4 364.1h0M294.0 348.2h0M302.1 402.9h0M333.9 358.6h0M339.0 340.6h0M327.3 352.5h0M326.0 363.9h0M338.4 338.0h0M300.0 390.5h0M307.7 407.1h0M317.1 371.1h0M327.1 378.5h0M329.9 377.8h0M303.2 406.1h0M332.3 339.7h0M332.5 343.4h0M335.2 351.7h0M307.3 400.4h0M309.4 402.1h0M308.4 375.2h0M321.6 365.8h0M315.8 402.6h0M299.3 340.6h0"/>
<path stroke-opacity="0.45" d="M307.6 356.4h0M274.8 405.9h0M330.2 336.4h0M295.3 363.1h0M297.5 372.2h0M270.8 377.7h0M263.0 380.3h0M281.7 374.1h0M320.2 342.8h0M265.9 380.7h0M286.6 378.0h0M321.5 340.0h0M272.6 376.7h0M274.2 396.3h0M310.4 345.1h0M314.9 353.4h0M305.9 363.0h0M274.3 382.0h0M278.7 390.1h0M290.4 384.4h0M282.2 401.3h0M282.0 381.2h0M303.4 368.5h0M263.0 373.9h0M286.6 390.3h0M303.2 369.3h0M279.7 376.8h0M309.3 357.7h0M284.1 373.8h0M288.3 387.0h0M262.8 383.7h0M317.1 347.9h0M283.5 379.9h0M318.7 357.4h0M263.0 388.0h0M306.8 373.6h0M277.1 402.9h0M273.7 400.2h0M324.5 336.3h0M311.8 358.9h0M281.9 397.2h0M325.0 345.0h0M270.2 373.4h0M320.2 339.0h0M287.1 383.8h0M299.7 352.3h0M275.4 405.4h0M264.5 395.1h0M301.0 367.2h0M293.3 391.0h0M312.4 349.3h0M314.2 362.6h0M268.5 399.3h0M327.1 330.7h0M308.1 350.0h0M312.0 348.1h0M296.5 375.1h0M311.4 357.8h0M285.6 394.5h0M269.9 385.0h0M303.2 370.1h0M280.0 401.9h0M281.0 382.8h0M295.1 378.5h0M308.3 348.1h0M320.5 338.8h0M295.6 372.1h0M270.0 371.5h0M271.9 370.6h0M308.2 360.5h0M305.4 383.1h0M317.0 361.0h0M311.7 350.8h0M266.9 381.9h0M323.2 337.9h0M279.9 383.2h0M322.1 346.5h0M275.7 379.9h0M271.3 380.0h0M315.6 341.3h0M280.9 393.7h0M262.3 396.3h0M287.5 408.1h0M300.1 356.9h0M289.1 362.6h0M262.5 407.6h0M313.7 357.0h0M282.4 373.6h0M302.2 366.2h0M279.7 403.0h0M329.0 335.3h0M282.9 386.4h0M284.1 398.7h0M296.6 369.5h0M289.4 369.8h0M313.3 346.3h0M277.3 398.8h0M311.0 347.8h0M294.8 392.5h0M273.8 380.1h0M274.8 377.4h0M300.6 354.5h0M285.6 385.5h0M297.1 355.3h0M291.9 381.0h0M281.0 375.3h0M306.8 365.9h0M307.9 349.1h0M267.6 376.7h0M318.7 350.9h0M281.8 381.3h0M305.4 357.8h0M325.8 333.5h0M285.8 371.1h0M281.8 404.1h0M296.8 371.2h0M318.2 343.7h0M291.5 379.1h0M294.9 363.0h0M318.2 345.0h0M279.4 376.1h0M269.2 390.7h0M307.9 357.6h0M274.5 391.1h0M318.4 342.9h0M308.3 363.1h0M264.9 404.4h0M299.2 376.6h0M283.2 377.7h0M320.6 346.5h0M271.1 402.6h0M293.5 364.5h0M267.4 386.9h0M283.7 395.2h0M292.3 382.0h0M266.3 375.5h0M307.9 349.4h0M286.5 389.7h0M315.7 357.3h0M287.2 371.9h0M275.3 406.4h0M280.9 406.5h0M307.1 359.2h0M281.4 390.5h0M287.8 362.6h0M264.2 378.7h0M293.3 372.1h0M269.3 380.6h0M306.6 379.8h0M317.2 348.0h0M272.9 405.9h0M266.3 397.6h0M263.3 400.9h0M262.9 387.5h0M284.2 406.8h0M303.2 373.2h0M306.2 365.3h0M294.8 362.4h0M284.2 371.8h0M275.9 380.0h0M288.3 383.3h0M281.2 403.0h0M313.6 349.1h0M262.2 398.3h0M328.9 339.0h0M294.6 388.1h0M277.3 381.2h0M318.9 351.3h0M262.6 375.1h0M291.4 407.9h0M290.4 361.8h0M297.4 374.5h0M266.8 397.3h0M300.2 362.5h0M273.7 392.2h0M292.4 364.7h0M322.9 346.1h0M294.4 375.9h0M264.3 399.2h0M271.7 391.3h0M265.8 406.2h0M286.6 368.8h0M294.1 379.5h0M291.9 375.7h0M323.1 350.5h0M332.1 331.8h0M283.9 375.8h0M287.1 402.3h0M313.1 366.0h0M268.5 406.3h0M265.1 388.9h0M264.8 374.2h0M286.0 364.2h0M271.3 377.8h0M285.4 390.7h0M263.8 377.5h0M314.2 353.3h0M265.4 382.6h0M305.7 373.1h0M290.9 360.6h0M292.6 362.4h0M321.2 337.8h0M268.5 391.1h0M297.2 357.1h0M305.8 371.5h0M271.7 380.5h0M290.8 371.7h0M291.8 370.7h0M276.8 391.6h0M304.3 354.6h0M285.3 408.1h0M296.0 390.7h0M265.6 403.3h0M321.3 343.0h0M290.5 407.3h0M291.5 362.3h0M305.8 363.5h0M299.2 380.5h0M271.2 402.7h0M304.3 378.3h0M316.5 347.7h0M285.5 385.6h0M278.4 368.8h0M319.2 346.3h0M317.9 338.5h0M267.1 391.9h0M297.6 359.7h0M279.0 368.0h0M279.2 401.7h0M309.0 354.7h0M287.9 399.7h0M263.4 381.5h0M262.7 401.8h0M315.3 357.0h0M293.8 401.8h0M291.4 390.2h0M300.2 375.8h0M309.0 361.6h0M333.0 334.5h0M297.4 385.3h0M279.3 385.2h0M266.7 374.9h0M282.4 372.6h0M317.9 342.0h0M306.7 368.3h0M272.8 385.1h0M262.4 403.8h0M278.9 385.5h0M264.5 370.8h0M288.9 378.2h0M273.9 382.4h0M300.0 374.7h0M292.0 381.4h0M280.7 401.4h0M265.1 382.3h0M329.1 337.1h0M281.9 381.3h0M265.4 380.4h0M267.9 400.4h0M306.9 366.3h0M263.3 398.8h0M275.9 381.6h0M285.6 379.3h0M299.4 356.8h0M296.5 357.4h0M284.9 364.2h0M317.6 360.6h0M283.4 380.5h0M329.0 339.8h0M303.4 357.5h0M293.2 388.5h0M279.7 399.2h0M289.4 402.2h0M323.1 343.8h0M272.0 370.6h0M314.3 358.1h0M291.6 384.0h0M289.9 398.8h0M306.5 365.4h0M304.8 369.4h0M298.3 386.0h0M321.5 335.6h0M309.4 366.5h0M291.5 394.9h0M282.7 388.0h0M269.6 381.8h0M316.0 361.6h0M291.3 385.8h0M282.5 384.9h0M319.4 349.5h0M290.0 386.7h0M286.5 373.6h0M323.6 343.7h0M326.4 340.3h0M287.8 392.3h0M264.2 389.1h0M306.8 369.2h0M292.1 388.0h0M295.2 370.6h0M297.9 388.0h0M303.2 364.3h0M304.0 360.8h0M264.4 395.4h0M263.9 404.6h0M275.1 394.9h0M265.9 390.6h0M297.3 366.5h0M284.5 398.2h0M298.8 372.1h0M299.1 386.6h0M266.3 374.8h0M304.3 372.0h0M308.1 364.2h0M297.0 390.0h0M326.6 335.4h0M265.6 376.5h0M326.1 334.3h0M298.2 383.4h0M296.0 364.3h0M296.5 368.8h0M299.1 379.4h0M288.2 358.8h0M299.6 348.6h0M323.2 333.9h0M325.8 321.9h0M266.2 357.6h0M316.2 334.9h0M265.8 364.0h0M294.6 351.7h0M296.4 343.3h0M288.0 360.3h0M315.2 339.4h0M271.2 359.4h0M315.8 380.9h0M306.4 386.1h0M319.4 372.1h0M308.3 401.5h0M335.8 349.1h0M338.8 344.3h0M313.4 404.8h0M296.9 395.8h0M309.9 392.7h0M325.2 371.7h0M313.8 394.2h0M325.6 352.3h0M322.9 357.5h0M317.4 394.1h0M311.9 390.3h0M306.3 396.6h0M271.2 369.2h0M293.9 382.0h0M305.8 392.9h0M307.1 365.7h0M310.8 349.8h0"/>
<path stroke-opacity="0.45" d="M268.8 394.0h0M292.1 383.3h0M305.6 365.8h0M275.3 391.4h0M289.1 405.5h0M288.9 362.0h0M281.8 407.5h0M268.7 407.5h0M323.4 344.1h0M289.2 384.4h0M305.8 360.0h0M287.8 401.2h0M285.5 374.6h0M323.9 341.8h0M284.8 388.7h0M317.1 354.6h0M330.6 337.9h0M304.1 375.4h0M277.4 378.7h0M288.7 385.6h0M265.3 393.6h0M314.8 356.0h0M284.3 407.4h0M310.2 355.6h0M314.8 350.7h0M291.7 379.7h0M298.8 363.9h0M285.3 374.0h0M280.5 382.8h0M292.2 362.2h0M272.2 386.6h0M263.0 373.2h0M276.2 393.4h0M303.9 362.5h0M277.4 403.9h0M298.4 356.5h0M291.6 387.2h0M274.8 380.0h0M287.2 381.6h0M316.2 351.9h0M304.6 355.2h0M270.7 377.1h0M273.2 407.4h0M303.2 354.4h0M290.3 364.7h0M284.3 402.0h0M293.9 384.7h0M266.8 397.8h0M284.6 380.7h0M300.3 357.6h0M298.8 384.8h0M291.8 359.2h0M276.5 395.5h0M295.2 355.8h0M290.1 372.5h0M298.5 361.5h0M284.3 397.5h0M315.0 344.6h0M287.1 382.2h0M299.5 362.1h0M306.5 362.0h0M315.1 345.9h0M295.8 363.2h0M324.5 333.4h0M264.0 389.9h0M288.5 374.7h0M262.5 403.0h0M274.6 406.8h0M289.4 391.9h0M265.5 393.4h0M317.8 356.7h0M318.7 357.0h0M276.2 378.6h0M292.7 379.5h0M273.3 401.5h0M306.1 362.5h0M283.8 391.8h0M284.8 388.5h0M270.3 400.9h0M287.1 380.8h0M305.4 367.0h0M308.4 347.4h0M270.5 377.9h0M295.9 380.3h0M324.0 343.1h0M293.2 372.6h0M285.6 376.9h0M274.5 389.2h0M275.8 382.5h0M318.3 351.0h0M291.7 402.9h0M297.1 361.4h0M301.7 367.0h0M280.0 398.7h0M262.9 389.2h0M269.4 405.7h0M281.4 374.0h0M271.1 395.4h0M317.5 356.8h0M297.9 383.2h0M320.7 346.2h0M280.8 390.8h0M310.6 358.1h0M280.6 382.3h0M268.3 377.4h0M316.1 358.4h0M309.3 345.2h0M287.2 396.8h0M309.2 370.9h0M284.8 376.9h0M297.4 376.5h0M262.2 399.4h0M292.0 390.8h0M294.8 377.1h0M274.3 388.0h0M266.2 404.9h0M288.2 382.6h0M276.0 393.0h0M271.6 380.3h0M263.5 393.9h0M294.7 394.2h0M271.0 386.1h0M285.3 396.7h0M306.0 358.3h0M273.3 404.9h0M291.1 373.7h0M304.9 362.7h0M265.2 387.7h0M267.3 403.2h0M270.6 397.6h0M271.4 372.6h0M276.4 386.9h0M302.4 365.9h0M295.5 390.2h0M270.3 374.7h0M297.5 372.1h0M306.9 370.9h0M279.6 376.9h0M298.0 379.3h0M308.3 369.7h0M283.9 405.0h0M282.7 375.1h0M310.8 355.7h0M304.3 358.2h0M289.2 367.6h0M273.4 404.5h0M320.8 338.6h0M304.0 360.6h0M300.0 357.5h0M316.3 344.6h0M283.3 398.0h0M265.6 374.2h0M304.6 379.6h0M269.6 388.4h0M264.8 407.2h0M315.6 343.3h0M306.2 355.3h0M272.1 370.5h0M279.8 373.8h0M302.4 381.8h0M296.6 367.5h0M314.0 355.0h0M298.1 356.2h0M266.7 383.3h0M270.8 372.8h0M311.0 366.0h0M302.0 359.6h0M289.3 391.4h0M292.0 403.3h0M262.6 400.6h0M286.3 369.1h0M297.1 354.0h0M313.4 342.8h0M306.4 368.2h0M315.4 354.7h0M291.3 378.0h0M311.4 354.1h0M289.2 403.0h0M272.6 370.5h0M294.0 397.1h0M289.4 391.7h0M295.2 361.6h0M320.0 347.3h0M287.6 383.1h0M274.3 398.0h0M307.7 373.0h0M269.4 376.3h0M291.0 384.1h0M319.6 341.6h0M302.2 363.6h0M280.8 406.6h0M307.9 345.6h0M313.3 353.5h0M289.2 372.0h0M298.0 365.5h0M264.0 393.3h0M311.9 366.8h0M309.1 358.3h0M331.8 332.3h0M263.0 403.5h0M307.3 358.1h0M262.2 385.3h0M287.8 367.1h0M306.6 370.6h0M286.5 401.2h0M281.8 367.3h0M296.9 370.6h0M294.1 373.4h0M263.2 384.5h0M269.4 405.2h0M306.8 363.9h0M331.8 336.6h0M312.6 368.5h0M292.5 361.6h0M284.4 395.1h0M309.4 354.6h0M271.5 371.5h0M278.9 407.4h0M319.4 352.2h0M270.9 378.5h0M293.1 365.3h0M271.5 404.4h0M290.2 405.1h0M289.1 373.9h0M319.4 353.2h0M264.8 406.2h0M309.2 353.0h0M274.0 383.3h0M281.5 374.5h0M289.0 404.2h0M310.7 347.3h0M324.8 349.5h0M311.1 368.5h0M262.2 372.8h0M312.0 368.4h0M263.2 400.6h0M301.4 368.6h0M320.9 337.7h0M285.8 400.8h0M295.9 367.9h0M304.7 358.6h0M284.4 404.8h0M283.7 385.1h0M298.2 356.6h0M321.6 347.4h0M289.3 400.1h0M327.5 340.1h0M314.1 360.5h0M288.0 367.0h0M306.8 359.0h0M269.7 393.0h0M303.3 360.5h0M272.6 402.1h0M270.3 380.6h0M280.1 395.9h0M266.6 391.2h0M292.9 373.5h0M307.4 363.3h0M283.5 385.5h0M277.9 377.5h0M306.6 372.0h0M278.2 394.2h0M300.8 363.1h0M271.3 369.9h0M299.6 361.2h0M280.8 398.9h0M283.6 387.1h0M272.4 390.8h0M273.8 400.9h0M282.8 367.9h0M294.7 372.8h0M266.9 405.6h0M277.8 377.6h0M284.9 387.5h0M296.0 378.3h0M270.2 372.8h0M279.9 402.1h0M318.1 355.2h0M306.7 354.3h0M320.1 347.6h0M264.5 395.0h0M284.6 396.8h0M296.2 374.0h0M305.8 362.2h0M287.7 380.9h0M282.1 373.9h0M318.7 339.8h0M283.5 388.5h0M315.7 353.0h0M330.4 334.7h0M278.1 390.8h0M304.4 360.3h0M281.7 397.8h0M315.7 352.4h0M287.7 365.6h0M272.5 384.3h0M272.7 400.7h0M275.7 376.1h0M314.0 346.4h0M303.4 370.0h0M314.4 353.0h0M268.9 378.0h0M286.1 362.5h0M283.6 385.6h0M288.5 387.6h0M297.0 375.8h0M300.1 374.6h0M316.7 348.4h0M278.6 383.4h0M324.9 342.8h0M263.0 387.4h0M305.0 360.7h0M290.5 368.1h0M275.9 391.6h0M305.5 349.8h0M294.9 362.0h0M298.9 355.4h0M277.8 401.0h0M307.3 362.5h0M275.9 379.2h0M289.6 399.2h0M274.1 379.7h0M275.6 370.0h0M312.1 349.5h0M326.7 333.4h0M302.0 371.3h0M302.9 381.3h0M315.0 343.2h0M312.0 363.5h0M307.7 365.6h0M276.2 407.6h0M287.9 374.0h0M314.7 344.2h0M271.2 401.9h0M266.4 376.2h0M294.9 378.8h0M277.6 401.5h0M306.7 359.5h0M310.1 364.1h0M307.7 350.4h0M308.0 362.5h0M276.7 398.4h0M276.9 402.0h0M276.5 395.3h0M301.7 360.9h0M267.9 379.2h0M329.2 331.3h0M296.8 361.4h0M322.3 334.5h0M317.0 329.4h0M301.6 342.8h0M321.0 334.1h0M304.7 347.9h0M267.8 362.2h0M265.0 357.7h0M305.9 342.4h0M321.0 330.0h0M311.0 341.5h0M339.1 312.3h0M305.6 388.9h0M314.3 397.5h0M335.7 344.6h0M308.3 384.5h0M325.4 355.2h0M314.4 398.8h0M334.4 335.0h0M337.7 342.7h0M325.8 374.5h0M316.1 380.6h0M311.3 381.3h0M325.9 363.7h0M328.1 353.5h0M320.3 365.0h0M323.3 379.0h0M306.3 400.0h0M332.0 360.5h0M294.2 400.5h0M301.9 363.2h0M270.2 352.3h0M275.1 406.8h0M276.5 349.4h0M270.4 389.0h0"/>
<path stroke-opacity="0.45" d="M272.3 390.2h0M285.9 364.8h0M316.9 339.6h0M267.2 387.5h0M309.2 364.3h0M281.1 368.7h0M289.6 376.3h0M278.6 372.1h0M290.9 407.7h0M281.2 404.6h0M319.4 353.0h0M283.9 404.9h0M324.7 333.8h0M299.0 360.1h0M300.7 356.6h0M293.8 359.6h0M311.1 363.8h0M267.5 408.0h0M326.6 337.1h0M302.4 364.2h0M264.7 402.1h0M278.8 367.4h0M304.1 362.4h0M326.0 342.2h0M312.9 346.0h0M263.6 398.8h0M286.9 380.6h0M320.7 340.1h0M283.2 408.2h0M274.8 385.9h0M299.3 355.1h0M289.0 377.0h0M315.7 356.0h0M274.2 397.0h0M270.7 404.2h0M289.9 405.1h0M276.1 401.4h0M302.7 377.3h0M266.0 375.9h0M310.7 365.1h0M283.2 372.3h0M280.5 393.8h0M310.3 355.1h0M275.2 384.6h0M288.8 392.3h0M274.5 379.7h0M302.9 362.6h0M305.7 354.1h0M288.0 366.9h0M284.2 367.1h0M286.7 374.4h0M318.5 359.0h0M266.5 408.2h0M263.1 405.8h0M271.1 380.9h0M315.6 351.7h0M319.6 347.1h0M279.6 378.9h0M286.7 400.2h0M290.5 394.1h0M267.5 371.0h0M307.6 360.6h0M277.5 386.8h0M302.6 357.4h0M290.2 383.4h0M324.6 339.3h0M307.9 375.4h0M305.0 365.4h0M281.3 406.6h0M283.1 395.8h0M326.4 335.5h0M262.0 387.7h0M268.4 398.8h0M282.2 397.7h0M279.8 380.7h0M294.9 356.5h0M266.8 384.5h0M287.6 382.0h0M289.5 390.3h0M284.3 390.5h0M268.1 405.9h0M285.8 361.1h0M284.8 375.8h0M278.3 387.4h0M285.2 390.1h0M299.9 367.3h0M289.1 399.9h0M298.5 380.0h0M269.9 382.0h0M304.8 375.3h0M287.2 396.5h0M292.4 388.2h0M275.5 397.2h0M329.9 331.9h0M293.9 401.7h0M313.1 358.3h0M293.8 358.3h0M293.1 382.3h0M288.1 404.6h0M264.4 403.0h0M312.0 364.0h0M312.3 352.7h0M288.2 407.5h0M297.5 375.2h0M295.5 393.2h0M279.2 374.1h0M304.1 356.9h0M288.2 386.7h0M317.8 341.0h0M262.9 391.0h0M306.4 370.9h0M317.3 362.7h0M262.4 404.0h0M269.1 371.4h0M280.5 390.8h0M283.3 380.4h0M263.4 373.9h0M263.2 384.4h0M294.2 389.8h0M293.6 402.5h0M327.6 331.1h0M289.6 389.1h0M301.0 360.5h0M282.8 380.2h0M276.5 408.2h0M296.9 401.0h0M300.8 370.6h0M287.3 374.6h0M282.4 384.6h0M276.2 377.6h0M293.8 382.1h0M278.3 406.4h0M299.9 363.2h0M275.6 403.5h0M268.9 374.3h0M288.4 380.6h0M325.0 340.7h0M303.5 376.8h0M273.9 375.4h0M267.4 371.1h0M264.8 374.1h0M273.9 387.7h0M309.3 369.4h0M295.3 392.5h0M277.6 401.6h0M286.5 393.3h0M275.9 394.1h0M272.0 372.6h0M295.6 368.9h0M271.4 396.8h0M293.2 367.6h0M265.6 399.2h0M286.5 380.0h0M289.5 395.8h0M297.8 370.7h0M304.1 376.5h0M289.8 395.7h0M316.0 344.5h0M313.5 354.0h0M296.8 371.5h0M320.6 347.0h0M280.9 402.9h0M266.3 392.1h0M319.4 343.3h0M278.3 374.5h0M267.6 379.2h0M303.9 351.3h0M291.5 371.1h0M324.6 337.1h0M316.3 343.1h0M315.9 355.9h0M311.2 348.1h0M295.1 361.2h0M274.5 396.2h0M277.7 373.3h0M265.2 401.8h0M266.0 383.0h0M271.6 376.4h0M324.7 344.0h0M270.1 389.7h0M263.1 377.2h0M264.6 404.4h0M280.4 407.1h0M328.9 333.4h0M280.7 392.8h0M264.4 396.1h0M313.0 344.6h0M290.8 399.9h0M286.5 382.9h0M329.7 335.2h0M306.3 349.4h0M309.9 351.0h0M271.0 374.8h0M297.3 372.3h0M279.7 401.6h0M271.1 380.5h0M267.5 402.9h0M317.3 351.8h0M315.0 356.1h0M309.0 365.9h0M294.3 357.6h0M302.4 368.8h0M307.6 372.4h0M308.2 357.5h0M275.2 372.5h0M263.9 373.3h0M325.6 345.1h0M295.4 369.2h0M274.8 392.4h0M279.6 404.7h0M268.7 392.0h0M322.3 350.5h0M274.1 400.5h0M273.7 389.7h0M311.9 353.5h0M270.5 385.3h0M278.2 396.2h0M289.9 392.9h0M271.2 376.4h0M280.3 365.5h0M305.2 366.3h0M304.0 371.7h0M316.4 357.4h0M324.1 333.5h0M282.9 406.4h0M289.0 402.2h0M263.3 388.3h0M286.6 372.7h0M272.1 397.7h0M297.4 366.8h0M317.6 358.1h0M284.5 367.3h0M281.4 406.5h0M295.5 357.1h0M266.8 391.5h0M299.3 384.7h0M322.7 346.1h0M304.7 364.2h0M292.2 404.6h0M277.3 407.9h0M265.9 382.1h0M268.8 388.8h0M283.4 408.2h0M313.5 348.8h0M287.8 394.0h0M287.4 389.3h0M264.4 399.7h0M292.9 361.2h0M280.6 394.4h0M270.1 386.8h0M263.3 372.7h0M269.4 391.7h0M319.0 356.1h0M293.6 372.5h0M262.6 405.1h0M279.4 394.0h0M270.3 396.0h0M303.7 352.7h0M279.4 371.5h0M285.6 389.1h0M287.8 366.0h0M319.1 347.9h0M269.9 389.9h0M311.4 366.5h0M264.7 383.6h0M270.9 369.2h0M315.1 353.5h0M326.2 336.9h0M264.6 398.2h0M309.3 366.5h0M289.4 405.9h0M292.4 393.5h0M263.6 381.4h0M296.0 379.2h0M291.5 397.3h0M285.5 383.2h0M299.7 375.8h0M277.8 379.2h0M273.1 393.2h0M310.9 351.6h0M297.6 389.0h0M275.1 378.0h0M321.0 336.0h0M289.4 381.5h0M288.0 405.6h0M327.2 339.9h0M265.8 399.6h0M282.1 393.9h0M279.0 399.2h0M266.6 396.1h0M296.4 387.0h0M296.5 372.0h0M285.7 384.9h0M290.0 400.6h0M300.1 366.4h0M307.4 373.0h0M289.5 377.5h0M282.4 380.5h0M312.9 354.9h0M311.1 353.2h0M278.3 378.6h0M302.6 374.6h0M292.3 361.7h0M294.4 360.9h0M267.1 395.0h0M325.3 338.3h0M304.3 361.5h0M279.3 390.3h0M302.1 358.1h0M269.0 398.6h0M278.6 378.0h0M311.5 366.1h0M278.0 378.2h0M298.2 360.6h0M265.9 400.0h0M311.3 367.2h0M299.3 358.7h0M283.6 400.9h0M299.5 385.9h0M308.5 362.7h0M286.2 397.4h0M330.2 336.5h0M280.6 396.7h0M307.9 358.8h0M276.8 373.3h0M269.9 386.6h0M311.3 360.1h0M274.3 391.6h0M274.7 375.0h0M328.1 334.3h0M290.8 398.2h0M295.8 371.6h0M305.7 358.2h0M327.8 336.4h0M268.0 375.9h0M304.3 381.9h0M290.4 401.4h0M267.4 375.7h0M320.2 350.8h0M307.1 371.5h0M303.1 360.7h0M333.2 313.4h0M306.9 341.5h0M272.4 360.2h0M325.9 328.3h0M295.9 349.3h0M296.7 343.6h0M264.5 365.7h0M312.4 335.6h0M325.1 366.7h0M327.1 362.7h0M322.6 392.3h0M294.8 408.3h0M319.2 382.9h0M308.2 406.9h0M333.3 337.6h0M313.2 384.4h0M332.4 372.0h0M323.1 354.6h0M325.3 374.4h0M328.4 356.6h0M299.5 405.4h0M324.8 350.6h0M304.8 402.7h0M307.4 386.5h0M320.0 387.0h0M333.4 362.7h0M309.1 386.4h0M326.0 353.9h0M299.5 392.5h0M289.0 346.7h0M335.2 334.2h0M331.3 323.7h0"/>
</g>
<line x1="262.0" y1="408.4" x2="386.8" y2="266.1" stroke="#7d7f82" stroke-width="2.5" stroke-dasharray="8.5 4.29"/>
<rect x="262.0" y="266.1" width="124.8" height="142.3" fill="none" stroke="#000" stroke-width="2.3"/>
<line x1="262.0" y1="408.4" x2="262.0" y2="411.6" stroke="#000" stroke-width="2.3"/>
<line x1="262.0" y1="408.4" x2="258.8" y2="408.4" stroke="#000" stroke-width="2.3"/>
<text x="262.0" y="423.4" text-anchor="middle" font-size="14.3">0</text>
<text x="256.8" y="413.4" text-anchor="end" font-size="14.3">0</text>
<line x1="303.6" y1="408.4" x2="303.6" y2="411.6" stroke="#000" stroke-width="2.3"/>
<line x1="262.0" y1="361.0" x2="258.8" y2="361.0" stroke="#000" stroke-width="2.3"/>
<text x="303.6" y="423.4" text-anchor="middle" font-size="14.3">150</text>
<text x="256.8" y="366.0" text-anchor="end" font-size="14.3">150</text>
<line x1="345.2" y1="408.4" x2="345.2" y2="411.6" stroke="#000" stroke-width="2.3"/>
<line x1="262.0" y1="313.5" x2="258.8" y2="313.5" stroke="#000" stroke-width="2.3"/>
<text x="345.2" y="423.4" text-anchor="middle" font-size="14.3">300</text>
<text x="256.8" y="318.5" text-anchor="end" font-size="14.3">300</text>
<line x1="386.8" y1="408.4" x2="386.8" y2="411.6" stroke="#000" stroke-width="2.3"/>
<line x1="262.0" y1="266.1" x2="258.8" y2="266.1" stroke="#000" stroke-width="2.3"/>
<text x="386.8" y="423.4" text-anchor="middle" font-size="14.3">450</text>
<text x="256.8" y="271.1" text-anchor="end" font-size="14.3">450</text>
<text x="323.9" y="441.5" text-anchor="middle" font-size="12.3">L-L Tl. Pred. (meV)</text>
<text transform="translate(222.0 336.9) rotate(-90)" text-anchor="middle" font-size="12.3">L-L Tl. Label (meV)</text>
<text x="313.0" y="380.2" font-size="12.2">R<tspan font-size="8.2" dy="-3.8">2</tspan><tspan dy="3.8">: 0.872</tspan></text>
<text x="313.0" y="395.0" font-size="12.2">MAE: 7.497</text>
<polygon points="536.6,76.6 600.0,121.2 536.6,166.0 476.6,121.2" fill="#ff0000" fill-opacity="0.2" stroke="none"/>
<polygon points="536.6,116.4 580.8,121.2 536.6,126.0 492.4,121.2" fill="#0000ff" fill-opacity="0.2" stroke="none"/>
<circle cx="536.6" cy="121.2" r="22.3" fill="none" stroke="#c8c8c8" stroke-opacity="0.8" stroke-width="2.2"/>
<circle cx="536.6" cy="121.2" r="44.5" fill="none" stroke="#c8c8c8" stroke-opacity="0.8" stroke-width="2.2"/>
<line x1="536.6" y1="54.400000000000006" x2="536.6" y2="188.0" stroke="#c8c8c8" stroke-opacity="0.8" stroke-width="2"/>
<line x1="469.8" y1="121.2" x2="603.4" y2="121.2" stroke="#c8c8c8" stroke-opacity="0.8" stroke-width="2"/>
<text x="537.4" y="118.6" font-size="13.2">0.0</text>
<polygon points="536.6,76.6 600.0,121.2 536.6,166.0 476.6,121.2" fill="none" stroke="#ff0000" stroke-width="2" stroke-linejoin="miter"/>
<polygon points="536.6,116.4 580.8,121.2 536.6,126.0 492.4,121.2" fill="none" stroke="#0000ff" stroke-width="1.5"/>
<circle cx="536.6" cy="116.4" r="1.7" fill="#0000ff"/>
<circle cx="580.8" cy="121.2" r="1.7" fill="#0000ff"/>
<circle cx="536.6" cy="126.0" r="1.7" fill="#0000ff"/>
<circle cx="492.4" cy="121.2" r="1.7" fill="#0000ff"/>
<circle cx="536.6" cy="76.6" r="1.5" fill="#ff0000"/>
<circle cx="600.0" cy="121.2" r="1.5" fill="#ff0000"/>
<circle cx="536.6" cy="166.0" r="1.5" fill="#ff0000"/>
<circle cx="476.6" cy="121.2" r="1.5" fill="#ff0000"/>
<circle cx="536.6" cy="121.2" r="66.8" fill="none" stroke="#000" stroke-width="2.6"/>
<text x="558.0" y="109.6" font-size="13">0.5</text>
<text x="579.2" y="101.2" font-size="13">1.0</text>
<text x="599.3" y="92.9" font-size="13">1.5</text>
<text x="542.3" y="31.1" text-anchor="middle" font-size="12.3">Film</text>
<text x="542.4" y="45.8" text-anchor="middle" font-size="12.3">H-H Tl.</text>
<text x="438.6" y="114.6" text-anchor="middle" font-size="12.3">Cry.</text>
<text x="438.8" y="129.4" text-anchor="middle" font-size="12.3">L-L Tl.</text>
<text x="640.0" y="115.4" text-anchor="middle" font-size="12.3">Cry.</text>
<text x="640.0" y="129.7" text-anchor="middle" font-size="12.3">H-H Tl.</text>
<text x="544.1" y="204.9" text-anchor="middle" font-size="12.3">Film</text>
<text x="544.3" y="219.7" text-anchor="middle" font-size="12.3">L-L Tl.</text>
<line x1="589" y1="24.5" x2="607.7" y2="24.5" stroke="#ff0000" stroke-width="1.8"/>
<line x1="589" y1="43.5" x2="607.7" y2="43.5" stroke="#0000ff" stroke-width="1.8"/>
<text x="617.2" y="28.1" font-size="12.3">OCNet</text>
<text x="615.8" y="47.8" font-size="12.3">SOTA NN</text>
<rect x="474.1" y="362.1" width="27.5" height="54.1" fill="#ff7f7f" stroke="#ff4040" stroke-width="1.6"/>
<rect x="501.6" y="322.9" width="27.5" height="93.3" fill="#7f7fff" stroke="#4040ff" stroke-width="1.6"/>
<rect x="529.1" y="394.5" width="27.5" height="21.7" fill="#ffcf7f" stroke="#ffbf40" stroke-width="1.6"/>
<rect x="591.0" y="362.1" width="27.4" height="54.1" fill="#ff7f7f" stroke="#ff4040" stroke-width="1.6"/>
<rect x="618.4" y="351.8" width="27.5" height="64.4" fill="#7f7fff" stroke="#4040ff" stroke-width="1.6"/>
<rect x="645.9" y="391.7" width="27.4" height="24.5" fill="#ffcf7f" stroke="#ffbf40" stroke-width="1.6"/>
<rect x="463.6" y="253.8" width="220.0" height="162.4" fill="none" stroke="#000" stroke-width="3"/>
<line x1="463.6" y1="416.2" x2="459.1" y2="416.2" stroke="#000" stroke-width="2.8"/>
<text x="456.3" y="422.5" text-anchor="end" font-size="17.8">1.5</text>
<line x1="463.6" y1="362.1" x2="459.1" y2="362.1" stroke="#000" stroke-width="2.8"/>
<text x="456.3" y="368.4" text-anchor="end" font-size="17.8">3.0</text>
<line x1="463.6" y1="307.9" x2="459.1" y2="307.9" stroke="#000" stroke-width="2.8"/>
<text x="456.3" y="314.2" text-anchor="end" font-size="17.8">4.5</text>
<line x1="463.6" y1="253.8" x2="459.1" y2="253.8" stroke="#000" stroke-width="2.8"/>
<text x="456.3" y="260.1" text-anchor="end" font-size="17.8">6.0</text>
<text transform="translate(421.5 332.1) rotate(-90)" text-anchor="middle" font-size="12.2">MAE (meV)</text>
<rect x="475.8" y="266.7" width="15" height="5" fill="#7f7fff" stroke="#4040ff" stroke-width="1"/>
<rect x="475.8" y="286.6" width="15" height="5" fill="#ffcf7f" stroke="#ffbf40" stroke-width="1"/>
<rect x="475.8" y="304.7" width="15" height="5" fill="#ff7f7f" stroke="#ff4040" stroke-width="1"/>
<text x="496.7" y="273.6" font-size="12.3">OCNet w/o pre-training</text>
<text x="496.7" y="293.4" font-size="12.3">OCNet</text>
<text x="496.7" y="311.6" font-size="12.3">SOTA NN</text>
<text x="514.6" y="432.1" text-anchor="middle" font-size="12.2">Cry. H-H</text>
<text x="514.6" y="447.0" text-anchor="middle" font-size="12.2">Tl.</text>
<text x="632.0" y="432.1" text-anchor="middle" font-size="12.2">Cry. L-L</text>
<text x="632.0" y="447.0" text-anchor="middle" font-size="12.2">Tl.</text>
<text transform="translate(1.4 16.5) scale(1.0 1)" font-size="31">a</text>
<text transform="translate(-3.6 241.5) scale(1.08 1)" font-size="30.5">b</text>
<text transform="translate(411.7 18.5) scale(1.04 1)" font-size="31.3">c</text>
<text transform="translate(409.3 241.6) scale(1.05 1)" font-size="30.8">d</text>
</svg></body></html>
